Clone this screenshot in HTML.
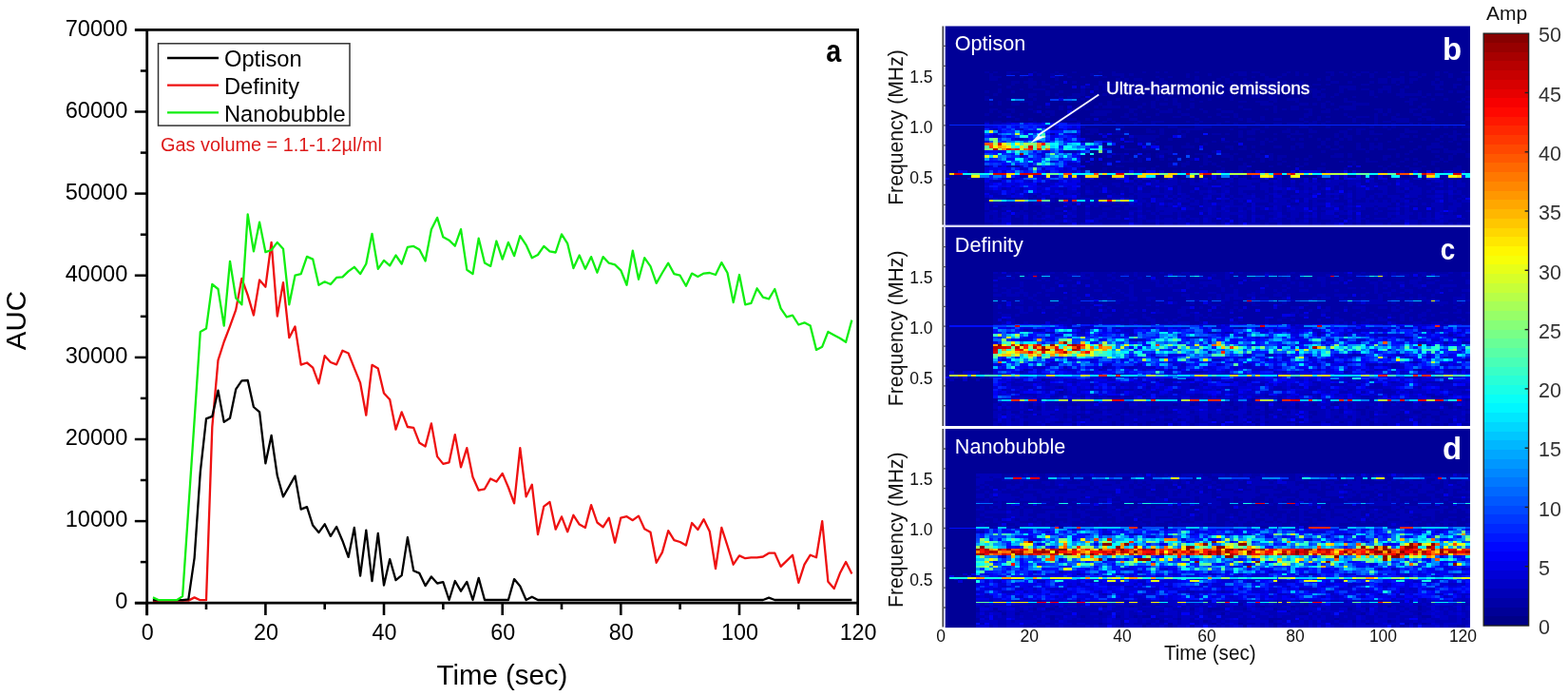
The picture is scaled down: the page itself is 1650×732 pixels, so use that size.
<!DOCTYPE html>
<html><head><meta charset="utf-8"><title>Figure</title>
<style>html,body{margin:0;padding:0;background:#fff;width:1650px;height:732px;overflow:hidden}svg{display:block}</style>
</head><body>
<svg width="1650" height="732" viewBox="0 0 1650 732">
<defs><filter id="soft" x="0" y="0" width="1" height="1"><feGaussianBlur stdDeviation="0.6"/></filter></defs>
<rect width="1650" height="732" fill="#fff"/>
<g font-family='"Liberation Sans", Arial, sans-serif' fill="#000">
<polyline points="160.9,632.5 167.2,631.6 173.4,631.6 179.6,631.6 185.9,631.6 192.1,631.6 198.3,631.6 204.6,628.4 210.8,631.2 217.0,631.2 223.3,449.1 229.5,378.8 235.7,359.5 242.0,343.1 248.2,325.9 254.4,293.0 260.7,310.4 266.9,331.5 273.1,294.4 279.4,301.7 285.6,254.9 291.8,332.5 298.0,297.1 304.3,355.2 310.5,343.4 316.7,383.6 323.0,381.5 329.2,386.6 335.4,403.3 341.7,374.2 347.9,381.0 354.1,383.4 360.4,368.8 366.6,371.5 372.8,387.2 379.1,402.6 385.3,436.7 391.5,383.8 397.8,387.4 404.0,413.4 410.2,420.3 416.5,451.7 422.7,433.4 428.9,449.0 435.2,449.8 441.4,465.8 447.6,469.5 453.9,445.4 460.1,480.1 466.3,487.9 472.6,486.3 478.8,457.1 485.0,491.3 491.3,471.2 497.5,501.8 503.7,515.7 510.0,514.3 516.2,503.4 522.4,506.6 528.7,497.9 534.9,512.5 541.1,529.3 547.3,471.2 553.6,522.3 559.8,509.7 566.0,562.1 572.3,532.6 578.5,528.0 584.7,556.7 591.0,543.4 597.2,559.3 603.4,541.8 609.7,551.6 615.9,554.9 622.1,531.1 628.4,549.5 634.6,554.4 640.8,544.6 647.1,570.7 653.3,544.6 659.5,543.2 665.8,547.2 672.0,542.6 678.2,556.3 684.5,559.8 690.7,591.8 696.9,580.9 703.2,558.2 709.4,568.1 715.6,570.0 721.9,573.5 728.1,550.0 734.3,557.1 740.6,546.2 746.8,559.0 753.0,598.1 759.3,554.9 765.5,574.0 771.7,593.7 778.0,584.4 784.2,587.2 790.4,586.3 796.6,586.3 802.9,585.5 809.1,581.7 815.3,581.7 821.6,595.9 827.8,589.9 834.0,583.7 840.3,612.8 846.5,593.7 852.7,583.7 859.0,586.3 865.2,548.1 871.4,611.8 877.7,619.1 883.9,602.8 890.1,591.0 896.4,603.5" fill="none" stroke="#ee1111" stroke-width="2.3" stroke-linejoin="round"/>
<polyline points="160.9,631.2 167.2,631.2 173.4,631.2 179.6,631.2 185.9,631.2 192.1,631.2 198.3,630.3 204.6,586.8 210.8,496.4 217.0,440.4 223.3,437.9 229.5,410.7 235.7,443.9 242.0,439.8 248.2,409.4 254.4,400.4 260.7,400.0 266.9,428.0 273.1,433.4 279.4,487.3 285.6,458.0 291.8,500.3 298.0,522.4 304.3,511.5 310.5,500.6 316.7,535.6 323.0,533.1 329.2,552.6 335.4,560.1 341.7,551.3 347.9,563.9 354.1,554.0 360.4,568.7 366.6,585.9 372.8,555.0 379.1,605.7 385.3,557.6 391.5,611.1 397.8,561.0 404.0,615.5 410.2,588.1 416.5,610.1 422.7,605.1 428.9,565.1 435.2,600.2 441.4,602.9 447.6,616.1 453.9,606.5 460.1,613.5 466.3,612.2 472.6,631.0 478.8,611.0 485.0,621.7 491.3,611.9 497.5,631.0 503.7,607.9 510.0,631.0 516.2,631.0 522.4,631.0 528.7,631.0 534.9,631.0 541.1,609.1 547.3,616.5 553.6,631.0 559.8,627.7 566.0,631.0 572.3,631.0 578.5,631.0 584.7,631.0 591.0,631.0 597.2,631.0 603.4,631.0 609.7,631.0 615.9,631.0 622.1,631.0 628.4,631.0 634.6,631.0 640.8,631.0 647.1,631.0 653.3,631.0 659.5,631.0 665.8,631.0 672.0,631.0 678.2,631.0 684.5,631.0 690.7,631.0 696.9,631.0 703.2,631.0 709.4,631.0 715.6,631.0 721.9,631.0 728.1,631.0 734.3,631.0 740.6,631.0 746.8,631.0 753.0,631.0 759.3,631.0 765.5,631.0 771.7,631.0 778.0,631.0 784.2,631.0 790.4,631.0 796.6,631.0 802.9,631.0 809.1,628.7 815.3,631.0 821.6,631.0 827.8,631.0 834.0,631.0 840.3,631.0 846.5,631.0 852.7,631.0 859.0,631.0 865.2,631.0 871.4,631.0 877.7,631.0 883.9,631.0 890.1,631.0 896.4,631.0" fill="none" stroke="#000" stroke-width="2.3" stroke-linejoin="round"/>
<polyline points="160.9,628.4 167.2,631.2 173.4,631.2 179.6,631.2 185.9,631.2 192.1,627.1 198.3,535.2 204.6,442.2 210.8,348.9 217.0,345.6 223.3,299.0 229.5,304.0 235.7,342.6 242.0,274.8 248.2,313.4 254.4,320.3 260.7,225.4 266.9,264.4 273.1,233.6 279.4,265.2 285.6,263.0 291.8,254.9 298.0,261.7 304.3,320.3 310.5,289.7 316.7,288.1 323.0,269.9 329.2,272.6 335.4,299.8 341.7,296.3 347.9,299.0 354.1,291.9 360.4,291.4 366.6,285.4 372.8,280.8 379.1,288.1 385.3,277.5 391.5,245.8 397.8,282.9 404.0,273.9 410.2,279.4 416.5,268.5 422.7,277.5 428.9,259.8 435.2,258.9 441.4,262.4 447.6,274.5 453.9,241.3 460.1,228.9 466.3,249.3 472.6,252.7 478.8,258.7 485.0,241.1 491.3,283.7 497.5,288.1 503.7,250.7 510.0,276.4 516.2,279.9 522.4,253.5 528.7,272.6 534.9,254.9 541.1,269.1 547.3,248.1 553.6,257.6 559.8,271.2 566.0,268.0 572.3,258.9 578.5,264.4 584.7,265.5 591.0,246.4 597.2,256.2 603.4,282.1 609.7,268.5 615.9,282.7 622.1,270.1 628.4,286.7 634.6,270.1 640.8,276.7 647.1,278.3 653.3,284.3 659.5,299.8 665.8,263.6 672.0,293.8 678.2,271.2 684.5,280.2 690.7,297.9 696.9,287.0 703.2,276.7 709.4,288.1 715.6,289.7 721.9,300.7 728.1,287.6 734.3,290.9 740.6,287.6 746.8,287.0 753.0,289.0 759.3,276.1 765.5,287.0 771.7,318.1 778.0,289.0 784.2,320.3 790.4,318.9 796.6,303.3 802.9,312.6 809.1,314.3 815.3,304.0 821.6,324.4 827.8,333.3 834.0,331.7 840.3,341.5 846.5,339.3 852.7,342.6 859.0,367.9 865.2,364.7 871.4,348.9 877.7,352.4 883.9,355.7 890.1,359.8 896.4,336.6" fill="none" stroke="#11ee11" stroke-width="2.3" stroke-linejoin="round"/>
<path d="M142.0 31.4H902.6V634.2H142.0" fill="none" stroke="#000" stroke-width="2.7"/>
<path d="M154.7 30.1V647.2" stroke="#000" stroke-width="2.8"/>
<path d="M141.8 634.2H154.7" stroke="#000" stroke-width="2.5"/>
<text x="134.3" y="640.3" text-anchor="end" font-size="23.6">0</text>
<path d="M147.8 591.1H154.7" stroke="#000" stroke-width="2.5"/>
<path d="M141.8 548.1H154.7" stroke="#000" stroke-width="2.5"/>
<text x="134.3" y="554.2" text-anchor="end" font-size="23.6">10000</text>
<path d="M147.8 505.0H154.7" stroke="#000" stroke-width="2.5"/>
<path d="M141.8 462.0H154.7" stroke="#000" stroke-width="2.5"/>
<text x="134.3" y="468.1" text-anchor="end" font-size="23.6">20000</text>
<path d="M147.8 418.9H154.7" stroke="#000" stroke-width="2.5"/>
<path d="M141.8 375.9H154.7" stroke="#000" stroke-width="2.5"/>
<text x="134.3" y="382.0" text-anchor="end" font-size="23.6">30000</text>
<path d="M147.8 332.8H154.7" stroke="#000" stroke-width="2.5"/>
<path d="M141.8 289.7H154.7" stroke="#000" stroke-width="2.5"/>
<text x="134.3" y="295.8" text-anchor="end" font-size="23.6">40000</text>
<path d="M147.8 246.7H154.7" stroke="#000" stroke-width="2.5"/>
<path d="M141.8 203.6H154.7" stroke="#000" stroke-width="2.5"/>
<text x="134.3" y="209.7" text-anchor="end" font-size="23.6">50000</text>
<path d="M147.8 160.6H154.7" stroke="#000" stroke-width="2.5"/>
<path d="M141.8 117.5H154.7" stroke="#000" stroke-width="2.5"/>
<text x="134.3" y="123.6" text-anchor="end" font-size="23.6">60000</text>
<path d="M147.8 74.5H154.7" stroke="#000" stroke-width="2.5"/>
<path d="M141.8 31.4H154.7" stroke="#000" stroke-width="2.5"/>
<text x="134.3" y="37.5" text-anchor="end" font-size="23.6">70000</text>
<path d="M154.7 634.2V647" stroke="#000" stroke-width="2.6"/>
<text x="155.2" y="672.6" text-anchor="middle" font-size="23.3">0</text>
<path d="M217.0 634.2V641" stroke="#000" stroke-width="2.6"/>
<path d="M279.4 634.2V647" stroke="#000" stroke-width="2.6"/>
<text x="279.9" y="672.6" text-anchor="middle" font-size="23.3">20</text>
<path d="M341.7 634.2V641" stroke="#000" stroke-width="2.6"/>
<path d="M404.0 634.2V647" stroke="#000" stroke-width="2.6"/>
<text x="404.5" y="672.6" text-anchor="middle" font-size="23.3">40</text>
<path d="M466.3 634.2V641" stroke="#000" stroke-width="2.6"/>
<path d="M528.7 634.2V647" stroke="#000" stroke-width="2.6"/>
<text x="529.2" y="672.6" text-anchor="middle" font-size="23.3">60</text>
<path d="M591.0 634.2V641" stroke="#000" stroke-width="2.6"/>
<path d="M653.3 634.2V647" stroke="#000" stroke-width="2.6"/>
<text x="653.8" y="672.6" text-anchor="middle" font-size="23.3">80</text>
<path d="M715.6 634.2V641" stroke="#000" stroke-width="2.6"/>
<path d="M778.0 634.2V647" stroke="#000" stroke-width="2.6"/>
<text x="778.5" y="672.6" text-anchor="middle" font-size="23.3">100</text>
<path d="M840.3 634.2V641" stroke="#000" stroke-width="2.6"/>
<path d="M902.6 634.2V647" stroke="#000" stroke-width="2.6"/>
<text x="903.1" y="672.6" text-anchor="middle" font-size="23.3">120</text>
<text x="528.4" y="719.5" text-anchor="middle" font-size="29.4">Time (sec)</text>
<text transform="translate(26.6 337) rotate(-90)" text-anchor="middle" font-size="29.5">AUC</text>
<rect x="166.5" y="45.8" width="201.5" height="86.3" fill="none" stroke="#333" stroke-width="1.5"/>
<path d="M176 61.0H230" stroke="#000" stroke-width="2.3"/>
<text x="236" y="70.1" font-size="23.7">Optison</text>
<path d="M176 89.7H230" stroke="#ee1111" stroke-width="2.3"/>
<text x="236" y="98.8" font-size="23.7">Definity</text>
<path d="M176 118.4H230" stroke="#11ee11" stroke-width="2.3"/>
<text x="236" y="127.5" font-size="23.7">Nanobubble</text>
<text x="169" y="158.7" font-size="19.6" fill="#dd1a1a" textLength="233" lengthAdjust="spacingAndGlyphs">Gas volume = 1.1-1.2µl/ml</text>
<text transform="translate(869.2 64.7) scale(0.87 1)" font-size="33" font-weight="bold">a</text>
</g>
<g font-family='"Liberation Sans", Arial, sans-serif'>
<rect x="994.6" y="27.5" width="552.4" height="209.0" fill="#000097"/>
<rect x="994.6" y="238.8" width="552.4" height="209.0" fill="#000097"/>
<rect x="994.6" y="451.1" width="552.4" height="209.0" fill="#000097"/>
<g filter="url(#soft)" shape-rendering="crispEdges" stroke-width="1" fill="none">
<g transform="translate(994.60 27.50) scale(4.6033 2.6125)">
<rect width="120" height="80" fill="#000097"/>
<path stroke="#0000a7" d="M9 18.5h1M11 18.5h1M14 18.5h3M20 18.5h1M25 18.5h1M29 18.5h1M35 18.5h1M38 18.5h1M45 18.5h1M48 18.5h1M50 18.5h1M57 18.5h1M66 18.5h3M70 18.5h2M78 18.5h1M80 18.5h1M87 18.5h2M90 18.5h1M93 18.5h1M95 18.5h2M98 18.5h1M101 18.5h1M104 18.5h1M106 18.5h2M112 18.5h1M114 18.5h1M118 18.5h2M10 19.5h1M14 19.5h1M21 19.5h1M24 19.5h1M26 19.5h2M33 19.5h1M38 19.5h3M42 19.5h1M55 19.5h1M60 19.5h1M65 19.5h1M67 19.5h2M72 19.5h1M77 19.5h1M80 19.5h1M82 19.5h1M88 19.5h1M91 19.5h1M94 19.5h1M97 19.5h1M106 19.5h2M109 19.5h1M112 19.5h1M115 19.5h1M10 20.5h3M17 20.5h1M25 20.5h1M28 20.5h1M31 20.5h1M34 20.5h1M36 20.5h1M40 20.5h1M48 20.5h1M51 20.5h1M55 20.5h1M57 20.5h1M63 20.5h1M70 20.5h1M73 20.5h1M76 20.5h1M87 20.5h1M93 20.5h1M97 20.5h1M101 20.5h1M104 20.5h1M108 20.5h1M115 20.5h1M119 20.5h1M10 21.5h2M19 21.5h1M25 21.5h1M39 21.5h1M41 21.5h1M43 21.5h2M49 21.5h1M57 21.5h1M62 21.5h1M64 21.5h1M68 21.5h1M73 21.5h3M85 21.5h1M87 21.5h1M99 21.5h2M102 21.5h3M106 21.5h2M112 21.5h1M117 21.5h1M119 21.5h1M15 22.5h2M18 22.5h3M22 22.5h1M29 22.5h1M35 22.5h1M40 22.5h1M47 22.5h1M49 22.5h2M64 22.5h2M68 22.5h2M77 22.5h1M81 22.5h1M88 22.5h2M92 22.5h1M97 22.5h1M99 22.5h2M102 22.5h1M104 22.5h1M106 22.5h1M111 22.5h1M113 22.5h1M12 23.5h1M15 23.5h1M19 23.5h2M22 23.5h2M25 23.5h1M35 23.5h4M43 23.5h1M47 23.5h2M50 23.5h1M56 23.5h3M63 23.5h1M72 23.5h2M77 23.5h1M80 23.5h2M84 23.5h2M87 23.5h1M95 23.5h2M103 23.5h1M111 23.5h3M116 23.5h2M14 24.5h1M19 24.5h1M24 24.5h1M32 24.5h1M34 24.5h1M36 24.5h1M40 24.5h2M49 24.5h2M58 24.5h2M62 24.5h2M66 24.5h1M69 24.5h1M74 24.5h2M77 24.5h1M90 24.5h4M100 24.5h2M105 24.5h1M112 24.5h1M116 24.5h1M119 24.5h1M12 25.5h1M17 25.5h1M20 25.5h3M31 25.5h1M34 25.5h1M36 25.5h1M38 25.5h1M40 25.5h1M44 25.5h1M49 25.5h2M57 25.5h1M59 25.5h1M64 25.5h1M69 25.5h1M71 25.5h1M73 25.5h1M76 25.5h1M79 25.5h1M83 25.5h2M86 25.5h1M90 25.5h1M92 25.5h2M95 25.5h2M99 25.5h3M104 25.5h1M112 25.5h2M119 25.5h1M9 26.5h1M12 26.5h1M15 26.5h1M23 26.5h1M26 26.5h1M31 26.5h1M38 26.5h1M45 26.5h1M48 26.5h1M57 26.5h1M69 26.5h1M74 26.5h1M81 26.5h2M84 26.5h2M90 26.5h1M97 26.5h1M99 26.5h1M101 26.5h1M104 26.5h1M108 26.5h1M115 26.5h1M117 26.5h2M11 27.5h1M19 27.5h2M23 27.5h1M25 27.5h1M29 27.5h3M34 27.5h1M36 27.5h1M42 27.5h1M47 27.5h1M51 27.5h1M57 27.5h1M63 27.5h1M70 27.5h2M75 27.5h1M84 27.5h1M86 27.5h1M89 27.5h1M97 27.5h1M103 27.5h6M110 27.5h1M112 27.5h2M9 28.5h1M19 28.5h1M26 28.5h1M28 28.5h3M43 28.5h2M48 28.5h2M54 28.5h1M57 28.5h1M62 28.5h1M65 28.5h1M70 28.5h2M74 28.5h2M82 28.5h1M84 28.5h3M88 28.5h1M93 28.5h1M98 28.5h1M104 28.5h1M109 28.5h1M119 28.5h1M9 29.5h1M14 29.5h3M20 29.5h1M28 29.5h1M31 29.5h1M39 29.5h1M43 29.5h1M48 29.5h1M50 29.5h1M52 29.5h1M56 29.5h1M60 29.5h1M65 29.5h1M74 29.5h2M78 29.5h3M85 29.5h1M91 29.5h1M106 29.5h2M111 29.5h1M114 29.5h1M118 29.5h1M12 30.5h1M17 30.5h3M28 30.5h1M30 30.5h1M37 30.5h1M47 30.5h1M52 30.5h1M58 30.5h1M67 30.5h2M71 30.5h3M75 30.5h1M80 30.5h1M87 30.5h1M91 30.5h3M105 30.5h2M117 30.5h1M119 30.5h1M10 31.5h1M12 31.5h1M15 31.5h2M19 31.5h1M35 31.5h1M37 31.5h1M45 31.5h1M47 31.5h1M49 31.5h2M52 31.5h2M56 31.5h1M72 31.5h3M81 31.5h2M84 31.5h1M86 31.5h1M88 31.5h1M93 31.5h4M106 31.5h1M109 31.5h1M21 32.5h1M23 32.5h1M26 32.5h1M31 32.5h1M34 32.5h1M36 32.5h4M41 32.5h1M44 32.5h1M47 32.5h1M53 32.5h1M56 32.5h1M67 32.5h1M75 32.5h1M79 32.5h2M86 32.5h1M90 32.5h4M108 32.5h1M119 32.5h1M10 33.5h2M14 33.5h2M19 33.5h1M26 33.5h1M28 33.5h2M32 33.5h1M42 33.5h2M48 33.5h1M51 33.5h1M55 33.5h1M58 33.5h1M62 33.5h1M68 33.5h2M73 33.5h1M75 33.5h1M77 33.5h1M79 33.5h2M82 33.5h2M87 33.5h1M89 33.5h1M91 33.5h3M98 33.5h2M101 33.5h1M106 33.5h2M109 33.5h2M10 34.5h1M12 34.5h1M15 34.5h1M20 34.5h1M23 34.5h2M29 34.5h1M34 34.5h4M42 34.5h1M45 34.5h1M49 34.5h3M53 34.5h1M59 34.5h1M63 34.5h3M75 34.5h1M83 34.5h1M86 34.5h2M99 34.5h1M101 34.5h1M106 34.5h1M109 34.5h1M113 34.5h1M118 34.5h2M9 35.5h1M13 35.5h2M17 35.5h1M22 35.5h1M24 35.5h1M28 35.5h1M33 35.5h4M41 35.5h1M43 35.5h1M48 35.5h1M54 35.5h2M62 35.5h1M66 35.5h1M82 35.5h2M91 35.5h1M98 35.5h1M100 35.5h1M103 35.5h1M107 35.5h2M115 35.5h1M12 36.5h1M15 36.5h1M23 36.5h1M40 36.5h2M46 36.5h1M52 36.5h2M56 36.5h1M60 36.5h1M63 36.5h2M66 36.5h1M72 36.5h1M82 36.5h1M85 36.5h1M87 36.5h1M92 36.5h1M94 36.5h3M98 36.5h1M102 36.5h1M109 36.5h2M119 36.5h1M16 37.5h1M19 37.5h1M26 37.5h1M28 37.5h2M32 37.5h1M37 37.5h1M42 37.5h2M57 37.5h1M67 37.5h1M69 37.5h1M72 37.5h1M75 37.5h2M81 37.5h1M85 37.5h1M93 37.5h1M98 37.5h1M102 37.5h4M108 37.5h1M110 37.5h2M119 37.5h1M9 38.5h1M11 38.5h2M14 38.5h1M20 38.5h1M22 38.5h1M30 38.5h1M36 38.5h1M38 38.5h1M44 38.5h1M47 38.5h3M55 38.5h1M58 38.5h1M64 38.5h1M69 38.5h2M82 38.5h1M84 38.5h1M87 38.5h1M93 38.5h1M98 38.5h1M100 38.5h2M103 38.5h3M118 38.5h1M10 39.5h1M34 39.5h2M39 39.5h1M43 39.5h1M47 39.5h1M57 39.5h1M62 39.5h1M66 39.5h1M71 39.5h1M75 39.5h2M78 39.5h4M83 39.5h2M86 39.5h1M95 39.5h1M98 39.5h1M102 39.5h1M106 39.5h1M108 39.5h1M111 39.5h1M24 40.5h1M31 40.5h1M39 40.5h2M51 40.5h2M57 40.5h4M67 40.5h2M73 40.5h1M81 40.5h2M87 40.5h1M97 40.5h1M100 40.5h1M102 40.5h1M111 40.5h2M114 40.5h1M116 40.5h1M118 40.5h2M32 41.5h3M46 41.5h1M49 41.5h1M53 41.5h6M65 41.5h1M70 41.5h2M78 41.5h1M83 41.5h1M92 41.5h1M94 41.5h2M101 41.5h1M105 41.5h1M111 41.5h1M33 42.5h2M39 42.5h1M41 42.5h1M46 42.5h2M49 42.5h1M53 42.5h1M55 42.5h1M67 42.5h1M69 42.5h2M72 42.5h1M77 42.5h2M80 42.5h1M83 42.5h2M90 42.5h2M94 42.5h1M97 42.5h1M105 42.5h3M116 42.5h1M24 43.5h1M32 43.5h2M36 43.5h1M38 43.5h3M49 43.5h1M54 43.5h1M61 43.5h2M64 43.5h1M67 43.5h1M69 43.5h2M75 43.5h1M79 43.5h3M89 43.5h1M91 43.5h1M94 43.5h1M97 43.5h3M104 43.5h1M110 43.5h1M114 43.5h1M116 43.5h2M119 43.5h1M43 44.5h6M54 44.5h1M67 44.5h1M78 44.5h1M83 44.5h1M89 44.5h1M91 44.5h2M104 44.5h2M107 44.5h1M113 44.5h1M115 44.5h2M32 45.5h1M37 45.5h1M39 45.5h1M42 45.5h1M44 45.5h4M51 45.5h1M57 45.5h1M69 45.5h2M73 45.5h1M75 45.5h1M79 45.5h1M81 45.5h1M85 45.5h1M87 45.5h1M90 45.5h1M92 45.5h1M96 45.5h1M98 45.5h1M103 45.5h1M109 45.5h1M112 45.5h1M116 45.5h1M118 45.5h2M31 46.5h2M38 46.5h2M44 46.5h3M48 46.5h1M57 46.5h1M61 46.5h1M63 46.5h2M66 46.5h1M72 46.5h1M74 46.5h1M86 46.5h1M89 46.5h1M101 46.5h1M106 46.5h1M113 46.5h1M115 46.5h1M45 47.5h1M47 47.5h1M55 47.5h1M59 47.5h1M72 47.5h1M80 47.5h2M86 47.5h1M89 47.5h1M94 47.5h1M97 47.5h1M99 47.5h1M111 47.5h2M117 47.5h1M46 48.5h1M50 48.5h2M54 48.5h3M64 48.5h2M68 48.5h1M70 48.5h1M75 48.5h2M79 48.5h1M81 48.5h1M85 48.5h1M87 48.5h1M90 48.5h1M94 48.5h1M97 48.5h3M104 48.5h1M108 48.5h1M110 48.5h4M41 49.5h3M45 49.5h3M51 49.5h1M65 49.5h1M67 49.5h2M79 49.5h1M88 49.5h2M94 49.5h2M97 49.5h1M99 49.5h1M101 49.5h2M107 49.5h1M110 49.5h1M114 49.5h1M117 49.5h1M36 50.5h1M49 50.5h3M55 50.5h1M61 50.5h1M70 50.5h1M72 50.5h1M86 50.5h1M96 50.5h1M106 50.5h1M111 50.5h2M114 50.5h5M36 51.5h2M39 51.5h2M43 51.5h1M46 51.5h1M48 51.5h2M51 51.5h1M55 51.5h1M57 51.5h3M63 51.5h2M66 51.5h1M71 51.5h1M74 51.5h1M89 51.5h2M92 51.5h1M103 51.5h1M105 51.5h1M116 51.5h1M119 51.5h1M31 52.5h1M36 52.5h1M40 52.5h1M45 52.5h2M48 52.5h1M59 52.5h1M63 52.5h3M69 52.5h1M71 52.5h2M74 52.5h1M76 52.5h2M83 52.5h1M88 52.5h3M92 52.5h1M100 52.5h2M103 52.5h1M112 52.5h1M115 52.5h1M119 52.5h1M31 53.5h1M40 53.5h1M42 53.5h1M44 53.5h1M49 53.5h1M51 53.5h1M56 53.5h1M59 53.5h1M65 53.5h1M67 53.5h1M72 53.5h1M74 53.5h1M76 53.5h1M80 53.5h1M82 53.5h1M96 53.5h1M100 53.5h1M105 53.5h1M107 53.5h1M113 53.5h1M115 53.5h1M37 54.5h1M40 54.5h3M44 54.5h1M55 54.5h1M59 54.5h2M63 54.5h1M70 54.5h1M72 54.5h1M77 54.5h1M90 54.5h1M92 54.5h2M96 54.5h3M104 54.5h1M108 54.5h1M111 54.5h2M114 54.5h1M33 55.5h1M36 55.5h1M51 55.5h1M54 55.5h2M59 55.5h1M61 55.5h1M68 55.5h1M76 55.5h1M80 55.5h1M82 55.5h1M86 55.5h1M93 55.5h1M102 55.5h1M107 55.5h1M111 55.5h1M15 56.5h2M39 56.5h2M48 56.5h1M51 56.5h2M54 56.5h1M58 56.5h1M62 56.5h1M67 56.5h2M74 56.5h1M78 56.5h1M81 56.5h1M99 56.5h1M101 56.5h1M103 56.5h1M105 56.5h1M109 56.5h1M117 56.5h1M36 57.5h1M42 57.5h1M44 57.5h2M47 57.5h1M63 57.5h1M67 57.5h2M85 57.5h2M91 57.5h1M100 57.5h1M106 57.5h3M112 57.5h1M116 57.5h2M33 58.5h1M35 58.5h2M38 58.5h1M41 58.5h1M52 58.5h1M55 58.5h1M57 58.5h1M60 58.5h1M64 58.5h1M66 58.5h1M88 58.5h3M94 58.5h1M99 58.5h1M103 58.5h1M108 58.5h1M112 58.5h1M116 58.5h2M36 59.5h1M40 59.5h1M57 59.5h1M62 59.5h3M66 59.5h2M71 59.5h1M73 59.5h1M77 59.5h1M84 59.5h1M86 59.5h1M88 59.5h1M93 59.5h1M96 59.5h1M100 59.5h3M106 59.5h2M113 59.5h1M117 59.5h1M31 60.5h1M34 60.5h1M40 60.5h1M42 60.5h2M48 60.5h1M51 60.5h2M54 60.5h1M58 60.5h1M62 60.5h1M65 60.5h1M68 60.5h1M72 60.5h1M90 60.5h1M97 60.5h1M100 60.5h1M103 60.5h1M106 60.5h1M109 60.5h1M111 60.5h4M14 61.5h1M31 61.5h2M35 61.5h2M44 61.5h1M47 61.5h1M56 61.5h1M70 61.5h2M75 61.5h1M78 61.5h1M81 61.5h1M88 61.5h1M95 61.5h2M102 61.5h5M114 61.5h1M118 61.5h1M31 62.5h1M33 62.5h8M43 62.5h1M45 62.5h2M49 62.5h1M53 62.5h1M55 62.5h1M57 62.5h1M61 62.5h1M66 62.5h1M72 62.5h2M77 62.5h2M80 62.5h2M83 62.5h1M85 62.5h2M91 62.5h1M95 62.5h1M98 62.5h2M101 62.5h2M106 62.5h5M114 62.5h1M116 62.5h1M118 62.5h2M32 63.5h3M36 63.5h2M40 63.5h3M44 63.5h1M53 63.5h3M60 63.5h3M65 63.5h2M70 63.5h2M74 63.5h1M77 63.5h2M80 63.5h1M86 63.5h1M90 63.5h2M95 63.5h2M99 63.5h2M102 63.5h1M107 63.5h3M111 63.5h2M114 63.5h1M116 63.5h1M119 63.5h1M31 64.5h1M33 64.5h1M35 64.5h1M37 64.5h2M40 64.5h1M43 64.5h1M46 64.5h1M52 64.5h1M54 64.5h5M64 64.5h1M66 64.5h3M71 64.5h1M77 64.5h2M80 64.5h2M85 64.5h2M89 64.5h1M91 64.5h1M93 64.5h1M101 64.5h2M108 64.5h4M114 64.5h1M116 64.5h1M119 64.5h1M31 65.5h1M33 65.5h3M37 65.5h5M43 65.5h1M45 65.5h3M49 65.5h1M52 65.5h1M54 65.5h3M58 65.5h2M61 65.5h2M65 65.5h2M71 65.5h1M74 65.5h1M81 65.5h1M83 65.5h1M85 65.5h1M89 65.5h1M91 65.5h3M98 65.5h1M101 65.5h2M104 65.5h1M106 65.5h1M109 65.5h2M112 65.5h3M117 65.5h3M31 66.5h1M34 66.5h1M38 66.5h2M41 66.5h1M43 66.5h1M45 66.5h2M49 66.5h1M52 66.5h1M54 66.5h2M57 66.5h1M62 66.5h1M65 66.5h2M68 66.5h5M74 66.5h1M76 66.5h1M78 66.5h2M86 66.5h1M88 66.5h1M91 66.5h1M93 66.5h1M96 66.5h4M101 66.5h2M105 66.5h1M109 66.5h1M111 66.5h1M116 66.5h1M118 66.5h2M31 67.5h1M34 67.5h4M39 67.5h1M41 67.5h2M52 67.5h1M55 67.5h3M59 67.5h1M65 67.5h2M69 67.5h1M71 67.5h3M78 67.5h3M83 67.5h1M86 67.5h1M93 67.5h1M96 67.5h2M101 67.5h4M109 67.5h3M114 67.5h1M118 67.5h2M20 68.5h1M31 68.5h6M41 68.5h1M43 68.5h1M47 68.5h3M51 68.5h1M53 68.5h1M56 68.5h3M61 68.5h2M64 68.5h1M66 68.5h2M71 68.5h2M74 68.5h1M77 68.5h2M85 68.5h2M88 68.5h1M90 68.5h1M93 68.5h1M96 68.5h1M98 68.5h1M100 68.5h1M104 68.5h1M108 68.5h2M114 68.5h1M116 68.5h2M119 68.5h1M9 69.5h2M14 69.5h4M19 69.5h1M21 69.5h1M23 69.5h1M25 69.5h1M27 69.5h1M30 69.5h1M33 69.5h1M35 69.5h3M43 69.5h1M45 69.5h2M52 69.5h1M55 69.5h1M57 69.5h2M61 69.5h1M65 69.5h1M72 69.5h1M74 69.5h1M79 69.5h1M81 69.5h1M90 69.5h1M93 69.5h1M95 69.5h1M98 69.5h4M105 69.5h3M109 69.5h2M114 69.5h1M116 69.5h1M118 69.5h1M9 70.5h3M17 70.5h1M19 70.5h1M21 70.5h1M25 70.5h2M30 70.5h1M35 70.5h1M37 70.5h1M41 70.5h1M46 70.5h1M50 70.5h2M56 70.5h1M58 70.5h1M60 70.5h3M64 70.5h1M66 70.5h1M68 70.5h1M74 70.5h1M78 70.5h1M81 70.5h1M83 70.5h1M85 70.5h2M89 70.5h3M93 70.5h3M97 70.5h1M99 70.5h1M101 70.5h1M103 70.5h1M106 70.5h1M108 70.5h4M114 70.5h1M117 70.5h1M10 71.5h1M19 71.5h1M24 71.5h3M29 71.5h1M31 71.5h1M38 71.5h2M41 71.5h1M45 71.5h1M47 71.5h1M54 71.5h2M58 71.5h1M66 71.5h2M69 71.5h1M71 71.5h3M79 71.5h2M83 71.5h1M91 71.5h1M93 71.5h1M102 71.5h1M104 71.5h1M108 71.5h1M110 71.5h1M114 71.5h2M118 71.5h2M10 72.5h1M12 72.5h2M15 72.5h1M17 72.5h1M19 72.5h3M24 72.5h3M30 72.5h2M33 72.5h1M35 72.5h3M40 72.5h1M45 72.5h1M47 72.5h1M50 72.5h1M56 72.5h2M62 72.5h1M69 72.5h1M73 72.5h2M77 72.5h1M83 72.5h1M85 72.5h2M90 72.5h1M98 72.5h1M101 72.5h2M106 72.5h5M114 72.5h1M118 72.5h2M10 73.5h3M17 73.5h1M19 73.5h3M24 73.5h1M27 73.5h2M30 73.5h2M33 73.5h3M38 73.5h3M42 73.5h2M45 73.5h3M53 73.5h1M57 73.5h2M62 73.5h1M65 73.5h2M68 73.5h1M71 73.5h1M77 73.5h1M83 73.5h1M85 73.5h1M90 73.5h1M93 73.5h1M96 73.5h2M99 73.5h2M104 73.5h1M106 73.5h1M108 73.5h2M111 73.5h1M114 73.5h1M117 73.5h3M9 74.5h1M12 74.5h2M15 74.5h2M18 74.5h2M21 74.5h1M24 74.5h3M30 74.5h2M33 74.5h6M40 74.5h2M45 74.5h1M47 74.5h1M49 74.5h1M55 74.5h3M65 74.5h2M69 74.5h1M71 74.5h4M77 74.5h1M85 74.5h2M91 74.5h1M95 74.5h4M100 74.5h3M104 74.5h1M106 74.5h6M117 74.5h2M12 75.5h1M19 75.5h2M22 75.5h1M24 75.5h1M27 75.5h1M30 75.5h2M33 75.5h3M37 75.5h5M43 75.5h1M45 75.5h2M48 75.5h1M52 75.5h1M54 75.5h4M59 75.5h1M62 75.5h1M69 75.5h1M71 75.5h3M77 75.5h2M81 75.5h1M83 75.5h1M85 75.5h1M89 75.5h1M93 75.5h1M95 75.5h3M99 75.5h2M104 75.5h1M107 75.5h1M109 75.5h1M111 75.5h1M114 75.5h1M116 75.5h4M10 76.5h1M12 76.5h1M15 76.5h1M17 76.5h1M19 76.5h1M21 76.5h1M25 76.5h2M30 76.5h2M33 76.5h2M37 76.5h2M40 76.5h2M43 76.5h1M46 76.5h2M49 76.5h4M54 76.5h1M56 76.5h3M62 76.5h1M65 76.5h2M69 76.5h1M73 76.5h2M78 76.5h1M81 76.5h1M85 76.5h1M90 76.5h2M93 76.5h1M95 76.5h1M97 76.5h4M102 76.5h1M106 76.5h2M109 76.5h1M111 76.5h1M118 76.5h2M10 77.5h1M15 77.5h3M19 77.5h1M25 77.5h2M29 77.5h3M33 77.5h1M36 77.5h1M40 77.5h1M43 77.5h1M46 77.5h2M49 77.5h1M52 77.5h1M55 77.5h1M58 77.5h1M61 77.5h1M65 77.5h2M69 77.5h1M71 77.5h1M73 77.5h1M77 77.5h1M80 77.5h2M83 77.5h1M85 77.5h1M89 77.5h1M91 77.5h1M93 77.5h1M96 77.5h2M101 77.5h1M106 77.5h2M117 77.5h1M119 77.5h1M12 78.5h1M15 78.5h3M19 78.5h4M24 78.5h1M30 78.5h2M35 78.5h7M43 78.5h1M45 78.5h1M55 78.5h2M58 78.5h1M61 78.5h2M64 78.5h1M66 78.5h1M68 78.5h2M71 78.5h3M77 78.5h2M80 78.5h1M83 78.5h1M85 78.5h3M90 78.5h1M95 78.5h1M97 78.5h5M104 78.5h1M108 78.5h2M111 78.5h1M115 78.5h5M9 79.5h2M15 79.5h3M19 79.5h1M21 79.5h1M26 79.5h2M30 79.5h1M33 79.5h1M36 79.5h4M45 79.5h3M49 79.5h1M52 79.5h1M58 79.5h1M62 79.5h1M66 79.5h1M72 79.5h1M74 79.5h2M77 79.5h2M83 79.5h1M86 79.5h1M91 79.5h1M93 79.5h1M95 79.5h1M100 79.5h1M102 79.5h3M108 79.5h1M114 79.5h1M116 79.5h1M118 79.5h2"/>
<path stroke="#0000b7" d="M11 39.5h2M23 40.5h1M11 41.5h1M24 41.5h1M17 45.5h1M27 50.5h3M9 56.5h1M14 56.5h1M20 56.5h1M30 57.5h1M31 58.5h1M43 58.5h1M54 58.5h1M65 58.5h1M67 58.5h1M69 58.5h1M101 58.5h2M104 58.5h1M5 59.5h1M29 59.5h2M47 59.5h1M68 59.5h1M99 59.5h1M114 59.5h1M118 59.5h1M17 60.5h2M30 60.5h1M38 60.5h1M73 60.5h2M85 60.5h1M88 60.5h1M116 60.5h1M15 61.5h1M22 61.5h1M52 61.5h1M67 61.5h2M72 61.5h1M11 62.5h2M24 62.5h2M32 62.5h1M44 62.5h1M47 62.5h1M50 62.5h3M54 62.5h1M56 62.5h1M58 62.5h1M60 62.5h1M62 62.5h4M67 62.5h5M74 62.5h1M76 62.5h1M88 62.5h3M92 62.5h3M97 62.5h1M100 62.5h1M104 62.5h1M111 62.5h1M115 62.5h1M117 62.5h1M21 63.5h1M31 63.5h1M35 63.5h1M38 63.5h2M43 63.5h1M45 63.5h1M47 63.5h6M56 63.5h4M63 63.5h1M67 63.5h3M72 63.5h2M75 63.5h2M79 63.5h1M81 63.5h5M87 63.5h3M92 63.5h2M97 63.5h2M101 63.5h1M104 63.5h3M110 63.5h1M113 63.5h1M115 63.5h1M117 63.5h2M32 64.5h1M34 64.5h1M36 64.5h1M39 64.5h1M41 64.5h2M45 64.5h1M47 64.5h1M49 64.5h1M51 64.5h1M53 64.5h1M59 64.5h2M63 64.5h1M65 64.5h1M69 64.5h1M72 64.5h3M76 64.5h1M79 64.5h1M82 64.5h2M87 64.5h2M90 64.5h1M92 64.5h1M96 64.5h2M99 64.5h2M103 64.5h5M112 64.5h1M117 64.5h2M13 65.5h1M17 65.5h1M26 65.5h2M30 65.5h1M32 65.5h1M42 65.5h1M48 65.5h1M50 65.5h1M53 65.5h1M60 65.5h1M63 65.5h2M67 65.5h4M72 65.5h2M77 65.5h1M80 65.5h1M82 65.5h1M86 65.5h1M88 65.5h1M90 65.5h1M94 65.5h2M97 65.5h1M99 65.5h2M103 65.5h1M107 65.5h2M111 65.5h1M115 65.5h2M9 66.5h2M27 66.5h1M30 66.5h1M33 66.5h1M35 66.5h1M37 66.5h1M40 66.5h1M42 66.5h1M44 66.5h1M47 66.5h2M50 66.5h2M53 66.5h1M56 66.5h1M58 66.5h2M61 66.5h1M63 66.5h1M67 66.5h1M73 66.5h1M75 66.5h1M77 66.5h1M81 66.5h1M83 66.5h3M87 66.5h1M89 66.5h1M92 66.5h1M94 66.5h2M100 66.5h1M103 66.5h2M106 66.5h3M110 66.5h1M114 66.5h1M117 66.5h1M10 67.5h2M15 67.5h1M19 67.5h1M21 67.5h1M24 67.5h2M27 67.5h1M29 67.5h1M32 67.5h2M38 67.5h1M43 67.5h9M54 67.5h1M58 67.5h1M60 67.5h3M64 67.5h1M67 67.5h2M70 67.5h1M74 67.5h1M76 67.5h2M81 67.5h2M90 67.5h2M94 67.5h2M98 67.5h3M105 67.5h4M112 67.5h2M116 67.5h2M11 68.5h3M19 68.5h1M23 68.5h1M30 68.5h1M38 68.5h3M42 68.5h1M44 68.5h3M52 68.5h1M54 68.5h2M59 68.5h1M65 68.5h1M68 68.5h2M73 68.5h1M79 68.5h5M87 68.5h1M89 68.5h1M91 68.5h1M94 68.5h2M97 68.5h1M99 68.5h1M101 68.5h3M106 68.5h2M110 68.5h2M115 68.5h1M118 68.5h1M12 69.5h2M20 69.5h1M24 69.5h1M26 69.5h1M28 69.5h1M31 69.5h1M34 69.5h1M38 69.5h2M41 69.5h2M44 69.5h1M48 69.5h3M54 69.5h1M56 69.5h1M66 69.5h6M73 69.5h1M75 69.5h4M80 69.5h1M83 69.5h6M91 69.5h2M94 69.5h1M96 69.5h2M102 69.5h3M108 69.5h1M111 69.5h3M115 69.5h1M117 69.5h1M12 70.5h5M20 70.5h1M22 70.5h1M24 70.5h1M28 70.5h1M31 70.5h1M33 70.5h2M38 70.5h3M44 70.5h2M48 70.5h2M52 70.5h4M57 70.5h1M59 70.5h1M63 70.5h1M65 70.5h1M67 70.5h1M70 70.5h4M76 70.5h2M79 70.5h1M84 70.5h1M87 70.5h2M96 70.5h1M98 70.5h1M100 70.5h1M102 70.5h1M104 70.5h1M107 70.5h1M115 70.5h2M118 70.5h2M9 71.5h1M11 71.5h8M20 71.5h2M23 71.5h1M27 71.5h1M32 71.5h6M40 71.5h1M43 71.5h1M46 71.5h1M48 71.5h1M50 71.5h1M52 71.5h1M56 71.5h2M59 71.5h2M62 71.5h4M68 71.5h1M74 71.5h5M81 71.5h2M84 71.5h3M88 71.5h3M92 71.5h1M94 71.5h8M105 71.5h3M109 71.5h1M111 71.5h3M116 71.5h2M9 72.5h1M14 72.5h1M16 72.5h1M18 72.5h1M22 72.5h1M28 72.5h1M34 72.5h1M38 72.5h2M41 72.5h4M46 72.5h1M48 72.5h2M51 72.5h1M54 72.5h2M59 72.5h3M63 72.5h1M65 72.5h4M71 72.5h2M76 72.5h1M79 72.5h4M84 72.5h1M89 72.5h1M91 72.5h1M93 72.5h1M95 72.5h3M99 72.5h2M103 72.5h2M111 72.5h3M115 72.5h3M9 73.5h1M13 73.5h4M18 73.5h1M22 73.5h2M25 73.5h2M32 73.5h1M36 73.5h2M41 73.5h1M44 73.5h1M48 73.5h5M55 73.5h2M59 73.5h1M61 73.5h1M64 73.5h1M67 73.5h1M69 73.5h1M72 73.5h1M74 73.5h1M76 73.5h1M78 73.5h1M80 73.5h2M86 73.5h3M91 73.5h2M94 73.5h2M98 73.5h1M101 73.5h2M105 73.5h1M112 73.5h2M115 73.5h2M10 74.5h1M17 74.5h1M20 74.5h1M22 74.5h2M28 74.5h2M32 74.5h1M39 74.5h1M42 74.5h2M46 74.5h1M48 74.5h1M50 74.5h5M58 74.5h2M61 74.5h3M68 74.5h1M75 74.5h2M78 74.5h4M84 74.5h1M90 74.5h1M93 74.5h2M99 74.5h1M103 74.5h1M105 74.5h1M112 74.5h1M116 74.5h1M119 74.5h1M9 75.5h3M14 75.5h1M16 75.5h3M21 75.5h1M23 75.5h1M25 75.5h2M29 75.5h1M36 75.5h1M44 75.5h1M47 75.5h1M49 75.5h3M53 75.5h1M61 75.5h1M63 75.5h6M70 75.5h1M74 75.5h2M79 75.5h2M82 75.5h1M86 75.5h1M90 75.5h2M98 75.5h1M101 75.5h2M105 75.5h2M108 75.5h1M110 75.5h1M113 75.5h1M115 75.5h1M9 76.5h1M11 76.5h1M13 76.5h1M16 76.5h1M20 76.5h1M22 76.5h1M24 76.5h1M28 76.5h1M32 76.5h1M35 76.5h2M39 76.5h1M42 76.5h1M45 76.5h1M48 76.5h1M53 76.5h1M55 76.5h1M59 76.5h3M63 76.5h2M68 76.5h1M71 76.5h2M75 76.5h1M77 76.5h1M79 76.5h2M83 76.5h1M86 76.5h3M92 76.5h1M96 76.5h1M101 76.5h1M103 76.5h3M108 76.5h1M110 76.5h1M114 76.5h3M9 77.5h1M11 77.5h2M20 77.5h2M23 77.5h2M27 77.5h2M32 77.5h1M34 77.5h2M37 77.5h3M44 77.5h2M48 77.5h1M50 77.5h2M54 77.5h1M56 77.5h2M60 77.5h1M63 77.5h1M67 77.5h2M72 77.5h1M74 77.5h1M76 77.5h1M78 77.5h2M82 77.5h1M84 77.5h1M86 77.5h3M90 77.5h1M95 77.5h1M98 77.5h3M102 77.5h4M108 77.5h4M113 77.5h4M118 77.5h1M9 78.5h3M18 78.5h1M23 78.5h1M25 78.5h2M29 78.5h1M34 78.5h1M42 78.5h1M44 78.5h1M46 78.5h2M49 78.5h6M57 78.5h1M60 78.5h1M63 78.5h1M67 78.5h1M74 78.5h3M79 78.5h1M81 78.5h1M84 78.5h1M88 78.5h2M92 78.5h2M96 78.5h1M102 78.5h2M106 78.5h2M110 78.5h1M112 78.5h1M114 78.5h1M11 79.5h2M18 79.5h1M20 79.5h1M22 79.5h4M28 79.5h1M31 79.5h1M34 79.5h2M40 79.5h2M43 79.5h2M50 79.5h2M53 79.5h2M56 79.5h2M59 79.5h3M63 79.5h1M65 79.5h1M67 79.5h1M69 79.5h3M73 79.5h1M79 79.5h4M84 79.5h2M87 79.5h2M92 79.5h1M94 79.5h1M96 79.5h4M101 79.5h1M106 79.5h2M109 79.5h5M115 79.5h1M117 79.5h1"/>
<path stroke="#0000c7" d="M24 20.5h1M31 24.5h1M28 32.5h1M21 34.5h1M14 36.5h1M34 37.5h1M13 39.5h1M25 39.5h1M28 39.5h2M10 41.5h1M17 41.5h1M25 41.5h1M28 41.5h2M29 43.5h1M11 44.5h1M30 44.5h1M42 44.5h1M16 45.5h1M63 45.5h1M42 46.5h1M38 51.5h1M41 51.5h1M37 52.5h1M49 52.5h1M60 52.5h1M28 55.5h2M12 56.5h1M29 56.5h1M69 56.5h1M17 57.5h1M22 57.5h1M27 57.5h1M23 58.5h1M29 58.5h1M39 58.5h2M44 58.5h1M49 58.5h1M56 58.5h1M63 58.5h1M72 58.5h1M85 58.5h1M87 58.5h1M93 58.5h1M114 58.5h1M11 59.5h1M17 59.5h1M26 59.5h1M32 59.5h1M41 59.5h1M58 59.5h1M60 59.5h2M70 59.5h1M76 59.5h1M83 59.5h1M19 60.5h1M22 60.5h3M29 60.5h1M33 60.5h1M39 60.5h1M44 60.5h1M50 60.5h1M66 60.5h1M71 60.5h1M76 60.5h1M86 60.5h1M5 61.5h1M13 61.5h1M27 61.5h1M43 61.5h1M65 61.5h1M76 61.5h1M82 61.5h1M94 61.5h1M97 61.5h1M107 61.5h2M10 62.5h1M19 62.5h1M42 62.5h1M48 62.5h1M59 62.5h1M75 62.5h1M79 62.5h1M82 62.5h1M84 62.5h1M87 62.5h1M103 62.5h1M105 62.5h1M112 62.5h2M9 63.5h1M22 63.5h3M30 63.5h1M64 63.5h1M94 63.5h1M15 64.5h1M22 64.5h2M44 64.5h1M50 64.5h1M70 64.5h1M75 64.5h1M84 64.5h1M94 64.5h1M113 64.5h1M115 64.5h1M9 65.5h1M14 65.5h1M21 65.5h1M24 65.5h2M75 65.5h2M79 65.5h1M84 65.5h1M105 65.5h1M11 66.5h2M16 66.5h2M22 66.5h1M24 66.5h1M28 66.5h2M32 66.5h1M60 66.5h1M64 66.5h1M82 66.5h1M112 66.5h2M115 66.5h1M12 67.5h1M18 67.5h1M20 67.5h1M28 67.5h1M30 67.5h1M53 67.5h1M63 67.5h1M75 67.5h1M84 67.5h1M87 67.5h3M92 67.5h1M115 67.5h1M9 68.5h1M14 68.5h1M18 68.5h1M21 68.5h2M25 68.5h2M50 68.5h1M60 68.5h1M63 68.5h1M70 68.5h1M75 68.5h2M92 68.5h1M105 68.5h1M112 68.5h2M11 69.5h1M18 69.5h1M29 69.5h1M32 69.5h1M51 69.5h1M53 69.5h1M59 69.5h2M63 69.5h2M82 69.5h1M89 69.5h1M23 70.5h1M29 70.5h1M32 70.5h1M42 70.5h1M75 70.5h1M82 70.5h1M92 70.5h1M105 70.5h1M112 70.5h1M22 71.5h1M28 71.5h1M42 71.5h1M44 71.5h1M51 71.5h1M70 71.5h1M103 71.5h1M11 72.5h1M23 72.5h1M29 72.5h1M32 72.5h1M53 72.5h1M64 72.5h1M70 72.5h1M75 72.5h1M88 72.5h1M92 72.5h1M105 72.5h1M29 73.5h1M60 73.5h1M63 73.5h1M70 73.5h1M75 73.5h1M79 73.5h1M84 73.5h1M103 73.5h1M11 74.5h1M44 74.5h1M60 74.5h1M64 74.5h1M67 74.5h1M70 74.5h1M82 74.5h1M87 74.5h3M92 74.5h1M113 74.5h1M115 74.5h1M13 75.5h1M28 75.5h1M32 75.5h1M42 75.5h1M60 75.5h1M76 75.5h1M84 75.5h1M87 75.5h2M92 75.5h1M103 75.5h1M112 75.5h1M14 76.5h1M18 76.5h1M23 76.5h1M29 76.5h1M44 76.5h1M67 76.5h1M70 76.5h1M76 76.5h1M82 76.5h1M84 76.5h1M89 76.5h1M94 76.5h1M112 76.5h2M13 77.5h2M18 77.5h1M22 77.5h1M42 77.5h1M53 77.5h1M59 77.5h1M64 77.5h1M70 77.5h1M75 77.5h1M92 77.5h1M94 77.5h1M112 77.5h1M13 78.5h2M28 78.5h1M48 78.5h1M59 78.5h1M70 78.5h1M82 78.5h1M94 78.5h1M105 78.5h1M113 78.5h1M13 79.5h1M32 79.5h1M48 79.5h1M76 79.5h1M89 79.5h1"/>
<path stroke="#0000d7" d="M19 19.5h1M27 22.5h1M32 23.5h1M29 24.5h1M33 26.5h1M32 28.5h1M26 29.5h1M23 31.5h1M28 34.5h1M9 39.5h1M14 39.5h1M21 39.5h1M30 39.5h1M9 40.5h2M25 40.5h1M29 40.5h1M16 41.5h1M26 41.5h1M30 41.5h1M12 42.5h1M19 42.5h1M11 43.5h1M28 43.5h1M35 43.5h1M12 44.5h1M36 44.5h1M18 45.5h1M27 45.5h1M9 46.5h1M41 46.5h1M37 49.5h1M12 50.5h1M23 50.5h1M30 50.5h1M22 51.5h1M17 52.5h1M22 52.5h1M24 54.5h1M28 54.5h1M32 54.5h1M30 55.5h1M10 56.5h1M17 56.5h1M21 56.5h1M30 56.5h1M92 56.5h1M94 56.5h1M9 57.5h1M18 57.5h1M28 57.5h1M80 57.5h1M4 58.5h1M13 58.5h1M26 58.5h2M62 58.5h1M79 58.5h1M81 58.5h4M115 58.5h1M118 58.5h1M6 59.5h1M20 59.5h1M25 59.5h1M27 59.5h2M35 59.5h1M39 59.5h1M49 59.5h1M59 59.5h1M79 59.5h1M95 59.5h1M97 59.5h1M103 59.5h1M105 59.5h1M9 60.5h1M11 60.5h2M21 60.5h1M25 60.5h1M32 60.5h1M41 60.5h1M63 60.5h1M70 60.5h1M75 60.5h1M89 60.5h1M91 60.5h1M94 60.5h1M99 60.5h1M110 60.5h1M0 61.5h1M9 61.5h1M16 61.5h1M30 61.5h1M33 61.5h1M39 61.5h2M45 61.5h2M51 61.5h1M59 61.5h1M61 61.5h1M89 61.5h1M91 61.5h1M93 61.5h1M99 61.5h2M111 61.5h2M18 62.5h1M23 62.5h1M28 62.5h1M10 63.5h1M13 63.5h1M16 63.5h1M26 63.5h1M9 64.5h1M21 64.5h1M28 64.5h1M10 65.5h1M12 65.5h1M16 65.5h1M18 65.5h1M22 65.5h1M28 65.5h1M14 66.5h1M21 66.5h1M23 66.5h1M26 66.5h1M14 67.5h1M16 67.5h1M16 68.5h1M24 68.5h1M27 68.5h2"/>
<path stroke="#0000e7" d="M16 39.5h1M18 39.5h1M20 39.5h1M24 39.5h1M11 40.5h1M13 40.5h1M16 40.5h1M22 40.5h1M18 42.5h1M20 42.5h1M25 43.5h1M27 43.5h1M30 43.5h1M10 44.5h1M24 44.5h1M52 44.5h1M24 45.5h1M30 45.5h2M37 46.5h1M44 47.5h1M67 47.5h1M36 49.5h1M22 50.5h1M62 50.5h1M21 51.5h1M30 52.5h1M57 53.5h1M9 54.5h1M12 54.5h1M19 55.5h1M13 56.5h1M19 56.5h1M23 56.5h2M27 56.5h2M10 57.5h2M14 57.5h1M26 57.5h1M3 58.5h1M9 58.5h1M11 58.5h1M28 58.5h1M46 58.5h2M58 58.5h2M71 58.5h1M91 58.5h1M107 58.5h1M110 58.5h1M2 59.5h2M9 59.5h2M14 59.5h1M23 59.5h2M31 59.5h1M37 59.5h1M50 59.5h1M56 59.5h1M78 59.5h1M85 59.5h1M89 59.5h1M92 59.5h1M110 59.5h1M16 60.5h1M20 60.5h1M28 60.5h1M56 60.5h1M61 60.5h1M79 60.5h1M102 60.5h1M118 60.5h1M17 61.5h1M21 61.5h1M23 61.5h1M28 61.5h2M41 61.5h1M73 61.5h1M84 61.5h1M92 61.5h1M110 61.5h1M9 62.5h1M13 62.5h1M15 62.5h1M26 62.5h1M29 62.5h2M96 62.5h1M14 63.5h2M18 63.5h2M25 63.5h1M27 63.5h3M103 63.5h1M12 64.5h2M16 64.5h1M20 64.5h1M24 64.5h2M27 64.5h1M48 64.5h1M61 64.5h2M98 64.5h1M15 65.5h1M19 65.5h2M29 65.5h1M36 65.5h1M44 65.5h1M57 65.5h1M78 65.5h1M96 65.5h1M15 66.5h1M25 66.5h1M80 66.5h1M9 67.5h1M22 67.5h2M26 67.5h1M40 67.5h1M10 68.5h1M15 68.5h1M17 68.5h1M37 68.5h1M40 69.5h1M47 69.5h1M62 69.5h1M119 69.5h1M18 70.5h1M43 70.5h1M47 70.5h1M80 70.5h1M113 70.5h1M49 71.5h1M53 71.5h1M61 71.5h1M87 71.5h1M27 72.5h1M58 72.5h1M78 72.5h1M87 72.5h1M73 73.5h1M82 73.5h1M89 73.5h1M107 73.5h1M14 74.5h1M83 74.5h1M58 75.5h1M94 75.5h1M27 76.5h1M117 76.5h1M41 77.5h1M62 77.5h1M27 78.5h1M32 78.5h2M65 78.5h1M91 78.5h1M29 79.5h1M42 79.5h1M55 79.5h1M64 79.5h1M90 79.5h1M105 79.5h1"/>
<path stroke="#0000f7" d="M15 39.5h1M22 39.5h1M21 40.5h1M28 40.5h1M30 40.5h1M12 41.5h1M18 43.5h1M37 43.5h1M14 44.5h1M25 44.5h1M29 44.5h1M15 45.5h1M40 45.5h1M21 46.5h1M28 46.5h1M30 46.5h1M36 46.5h1M34 48.5h1M40 48.5h1M45 48.5h1M47 48.5h2M58 48.5h1M9 50.5h1M13 50.5h1M26 50.5h1M29 51.5h1M18 52.5h1M14 53.5h1M19 53.5h1M35 53.5h1M10 54.5h2M20 54.5h1M25 54.5h1M27 54.5h1M29 54.5h1M13 55.5h1M31 56.5h1M12 57.5h2M25 57.5h1M22 58.5h1M30 58.5h1M15 59.5h2M18 59.5h1M21 59.5h2M21 62.5h1M41 62.5h1M11 63.5h1M17 63.5h1M20 63.5h1M46 63.5h1M14 64.5h1M19 64.5h1M29 64.5h1M95 64.5h1M11 65.5h1M51 65.5h1M87 65.5h1M20 66.5h1M36 66.5h1M90 66.5h1M85 67.5h1M29 68.5h1M84 68.5h1M22 69.5h1M27 70.5h1M36 70.5h1M69 70.5h1M30 71.5h1M52 72.5h1M94 72.5h1M54 73.5h1M110 73.5h1M27 74.5h1M114 74.5h1M15 75.5h1M14 79.5h1M68 79.5h1"/>
<path stroke="#0008ff" d="M19 39.5h1M12 40.5h1M15 40.5h1M19 40.5h1M27 40.5h1M14 41.5h1M23 41.5h1M27 41.5h1M13 42.5h1M21 42.5h1M24 42.5h2M10 43.5h1M23 43.5h1M59 43.5h1M9 44.5h1M28 44.5h1M31 47.5h1M33 48.5h1M32 49.5h1M10 50.5h2M20 50.5h1M15 51.5h1M44 51.5h1M29 52.5h1M73 52.5h1M15 53.5h1M26 53.5h1M30 53.5h1M21 54.5h1M39 54.5h1M14 55.5h1M27 55.5h1M25 56.5h1M16 57.5h1M23 57.5h1M15 58.5h1M18 58.5h1M21 58.5h1M42 58.5h1M12 59.5h1M27 60.5h1M10 61.5h1M12 61.5h1M16 62.5h1M12 63.5h1M17 64.5h1M30 64.5h1M23 65.5h1M13 66.5h1M18 66.5h1"/>
<path stroke="#0018ff" d="M26 39.5h2M26 40.5h1M18 41.5h1M20 41.5h1M26 42.5h1M30 42.5h1M15 44.5h1M19 44.5h1M26 44.5h1M53 44.5h1M19 45.5h1M28 45.5h1M23 46.5h1M27 46.5h1M38 47.5h1M26 48.5h1M11 51.5h1M21 52.5h1M10 53.5h1M21 53.5h1M33 53.5h1M46 53.5h1M13 54.5h1M16 55.5h1M37 55.5h1M24 57.5h1M29 57.5h1M12 58.5h1M14 58.5h1M25 58.5h1M33 59.5h1M10 60.5h1M14 60.5h1M17 62.5h1M27 62.5h1M10 64.5h2M13 67.5h1M17 67.5h1"/>
<path stroke="#0028ff" d="M18 40.5h1M20 40.5h1M9 41.5h1M13 41.5h1M14 42.5h2M17 42.5h1M23 42.5h1M13 44.5h1M27 44.5h1M12 45.5h1M23 45.5h1M13 46.5h1M29 46.5h1M34 46.5h2M58 49.5h1M31 50.5h1M13 51.5h2M20 51.5h1M52 51.5h1M15 52.5h1M11 53.5h1M20 53.5h1M10 55.5h1M12 55.5h1M52 55.5h1M11 56.5h1M22 56.5h1M19 58.5h1M24 58.5h1M19 59.5h1M13 60.5h1M15 60.5h1M26 61.5h1M20 62.5h1M26 64.5h1"/>
<path stroke="#0038ff" d="M14 40.5h1M17 40.5h1M19 41.5h1M9 43.5h1M20 43.5h1M23 44.5h1M26 45.5h1M27 47.5h1M35 47.5h1M32 48.5h1M48 49.5h1M24 50.5h1M10 51.5h1M19 51.5h1M30 51.5h1M62 51.5h1M16 52.5h1M20 52.5h1M43 52.5h1M18 53.5h1M27 53.5h2M53 53.5h1M30 54.5h1M11 55.5h1M17 55.5h2M20 55.5h1M18 56.5h1M21 57.5h1M17 58.5h1M11 61.5h1M14 62.5h1M22 62.5h1"/>
<path stroke="#0048ff" d="M15 41.5h1M22 41.5h1M39 41.5h1M12 43.5h1M15 43.5h1M41 43.5h1M16 44.5h1M20 45.5h1M12 46.5h1M18 46.5h1M24 46.5h1M46 47.5h1M26 49.5h1M21 50.5h1M32 50.5h1M9 51.5h1M14 52.5h1M55 52.5h1M15 54.5h2M18 54.5h1M9 55.5h1M25 55.5h1M15 57.5h1M19 57.5h1M10 58.5h1M18 61.5h2M24 61.5h1M18 64.5h1"/>
<path stroke="#0058ff" d="M17 39.5h1M17 43.5h1M14 45.5h1M10 46.5h1M22 46.5h1M24 49.5h1M37 50.5h1M25 51.5h1M27 51.5h1M28 52.5h1M12 53.5h1M26 54.5h1M26 60.5h1M25 61.5h1"/>
<path stroke="#0068ff" d="M9 45.5h1M14 46.5h1M34 47.5h1M30 48.5h1M19 50.5h1M12 52.5h1M23 52.5h1M26 52.5h1M26 55.5h1M26 56.5h1M32 58.5h1"/>
<path stroke="#0078ff" d="M28 42.5h1M13 43.5h1M26 43.5h1M20 44.5h1M13 45.5h1M25 45.5h1M29 45.5h1M15 46.5h1M31 48.5h1M15 50.5h1M25 50.5h1M22 53.5h1M24 53.5h2M13 59.5h1M20 61.5h1"/>
<path stroke="#0087ff" d="M11 42.5h1M22 42.5h1M27 42.5h1M20 46.5h1M26 46.5h1M26 47.5h1M13 52.5h1M23 54.5h1M24 55.5h1M16 58.5h1"/>
<path stroke="#0097ff" d="M29 42.5h1M14 43.5h1M22 45.5h1M17 50.5h1M23 51.5h1M28 51.5h1M19 52.5h1M13 53.5h1"/>
<path stroke="#00a7ff" d="M21 45.5h1M17 46.5h1M37 47.5h1M29 48.5h1M25 49.5h1M26 51.5h1M24 52.5h1M9 53.5h1M15 55.5h1M20 58.5h1"/>
<path stroke="#00b7ff" d="M16 42.5h1M19 46.5h1M28 47.5h1M30 49.5h1M18 50.5h1M19 66.5h1"/>
<path stroke="#00c7ff" d="M19 43.5h1M21 43.5h1M21 44.5h1M16 46.5h1M25 46.5h1M34 49.5h1M18 51.5h1M29 53.5h1M22 55.5h1"/>
<path stroke="#00d7ff" d="M23 39.5h1M9 42.5h1M29 47.5h1M33 47.5h1M24 48.5h1M33 49.5h1M16 51.5h1M10 52.5h1M25 52.5h1M17 54.5h1M22 54.5h1"/>
<path stroke="#00e7ff" d="M28 49.5h1M31 49.5h1"/>
<path stroke="#00f7ff" d="M15 47.5h1M24 47.5h1M30 47.5h1M25 48.5h1M29 49.5h1M14 50.5h1M27 52.5h1M16 53.5h2M19 54.5h1"/>
<path stroke="#08fff7" d="M17 44.5h1M25 47.5h1M16 48.5h1M27 48.5h2M12 51.5h1M31 51.5h1M33 51.5h1M14 54.5h1"/>
<path stroke="#18ffe7" d="M22 48.5h1M23 53.5h1"/>
<path stroke="#28ffd7" d="M18 44.5h1M32 47.5h1M35 48.5h1M27 49.5h1M35 49.5h1M16 50.5h1M23 55.5h1"/>
<path stroke="#38ffc7" d="M21 41.5h1M22 43.5h1M21 55.5h1"/>
<path stroke="#48ffb7" d="M17 47.5h1M15 48.5h1M20 49.5h1"/>
<path stroke="#58ffa7" d="M10 45.5h1M23 47.5h1M9 48.5h1"/>
<path stroke="#68ff97" d="M22 44.5h1M20 48.5h1"/>
<path stroke="#78ff87" d="M11 46.5h1M18 48.5h1M22 49.5h1M24 51.5h1M20 57.5h1"/>
<path stroke="#87ff78" d="M11 45.5h1M20 47.5h1M9 49.5h2M35 50.5h1"/>
<path stroke="#97ff68" d="M14 47.5h1M19 47.5h1M23 48.5h1"/>
<path stroke="#a7ff58" d="M12 49.5h1"/>
<path stroke="#b7ff48" d="M11 47.5h1M18 47.5h1"/>
<path stroke="#c7ff38" d="M16 43.5h1M17 49.5h1"/>
<path stroke="#d7ff28" d="M10 42.5h1M9 52.5h1M11 52.5h1"/>
<path stroke="#f7ff08" d="M16 47.5h1"/>
<path stroke="#fff700" d="M13 47.5h1M11 48.5h1M14 48.5h1"/>
<path stroke="#ffe700" d="M17 48.5h1"/>
<path stroke="#ffc700" d="M13 48.5h1"/>
<path stroke="#ff9700" d="M12 48.5h1"/>
<path stroke="#ff8700" d="M21 47.5h1M21 48.5h1M13 49.5h1"/>
<path stroke="#ff6800" d="M18 49.5h1"/>
<path stroke="#ff5800" d="M9 47.5h2M23 49.5h1"/>
<path stroke="#ff4800" d="M10 48.5h1"/>
<path stroke="#ff3800" d="M15 49.5h1"/>
<path stroke="#ff2800" d="M19 49.5h1"/>
<path stroke="#ff0800" d="M16 49.5h1"/>
<path stroke="#e70000" d="M22 47.5h1"/>
<path stroke="#d70000" d="M12 47.5h1M19 48.5h1M14 49.5h1M21 49.5h1"/>
<path stroke="#a70000" d="M11 49.5h1"/>
<path stroke="#870000" d="M17 51.5h1"/>
</g>
<path fill="#ffd700" stroke="none" d="M999.2 181.7h4.6v2.4h-4.6zM1059.0 181.7h9.2v2.4h-9.2zM1160.3 181.7h4.6v2.4h-4.6zM1201.8 181.7h4.6v2.4h-4.6zM1206.4 181.7h9.2v2.4h-9.2zM1215.6 181.7h4.6v2.4h-4.6zM1229.4 181.7h9.2v2.4h-9.2zM1330.6 181.7h4.6v2.4h-4.6zM1367.5 181.7h4.6v2.4h-4.6zM1390.5 181.7h9.2v2.4h-9.2zM1450.3 181.7h9.2v2.4h-9.2zM1482.6 181.7h4.6v2.4h-4.6zM1082.1 184.4h4.6v2.2h-4.6zM1118.9 184.4h4.6v2.2h-4.6zM1128.1 184.4h4.6v2.2h-4.6zM1141.9 184.4h9.2v2.2h-9.2zM1151.1 184.4h4.6v2.2h-4.6zM1169.5 184.4h9.2v2.2h-9.2zM1178.7 184.4h4.6v2.2h-4.6zM1197.1 184.4h9.2v2.2h-9.2zM1224.8 184.4h9.2v2.2h-9.2zM1335.2 184.4h4.6v2.2h-4.6zM1501.0 184.4h9.2v2.2h-9.2zM1533.2 184.4h4.6v2.2h-4.6z"/>
<path fill="#d70000" stroke="none" d="M1003.8 181.7h9.2v2.4h-9.2zM1045.2 181.7h4.6v2.4h-4.6zM1049.8 181.7h9.2v2.4h-9.2zM1072.9 181.7h9.2v2.4h-9.2zM1082.1 181.7h9.2v2.4h-9.2zM1091.3 181.7h4.6v2.4h-4.6zM1174.1 181.7h9.2v2.4h-9.2zM1247.8 181.7h4.6v2.4h-4.6zM1266.2 181.7h9.2v2.4h-9.2zM1339.8 181.7h9.2v2.4h-9.2zM1358.3 181.7h4.6v2.4h-4.6zM1468.7 181.7h4.6v2.4h-4.6zM1496.4 181.7h4.6v2.4h-4.6zM1528.6 181.7h9.2v2.4h-9.2zM1091.3 209.5h4.6v2.2h-4.6zM1164.9 209.5h4.6v2.2h-4.6z"/>
<path fill="#00f7ff" stroke="none" d="M1013.0 181.7h9.2v2.4h-9.2zM1031.4 181.7h9.2v2.4h-9.2zM1068.3 181.7h4.6v2.4h-4.6zM1095.9 181.7h4.6v2.4h-4.6zM1114.3 181.7h4.6v2.4h-4.6zM1128.1 181.7h9.2v2.4h-9.2zM1137.3 181.7h4.6v2.4h-4.6zM1141.9 181.7h9.2v2.4h-9.2zM1164.9 181.7h9.2v2.4h-9.2zM1192.5 181.7h9.2v2.4h-9.2zM1238.6 181.7h9.2v2.4h-9.2zM1284.6 181.7h9.2v2.4h-9.2zM1335.2 181.7h4.6v2.4h-4.6zM1349.1 181.7h4.6v2.4h-4.6zM1372.1 181.7h4.6v2.4h-4.6zM1381.3 181.7h9.2v2.4h-9.2zM1418.1 181.7h9.2v2.4h-9.2zM1441.1 181.7h4.6v2.4h-4.6zM1445.7 181.7h4.6v2.4h-4.6zM1487.2 181.7h4.6v2.4h-4.6zM1510.2 181.7h9.2v2.4h-9.2zM1519.4 181.7h9.2v2.4h-9.2zM1537.8 181.7h4.6v2.4h-4.6zM1542.4 181.7h4.6v2.4h-4.6zM1206.4 184.4h9.2v2.2h-9.2zM1436.5 184.4h4.6v2.2h-4.6zM1464.1 184.4h9.2v2.2h-9.2zM1491.8 184.4h4.6v2.2h-4.6zM1510.2 184.4h4.6v2.2h-4.6zM1542.4 184.4h4.6v2.2h-4.6zM1054.4 209.5h4.6v2.2h-4.6zM1132.7 209.5h9.2v2.2h-9.2zM1146.5 209.5h4.6v2.2h-4.6zM1187.9 209.5h4.6v2.2h-4.6z"/>
<path fill="#68ff97" stroke="none" d="M1022.2 181.7h9.2v2.4h-9.2zM1040.6 181.7h4.6v2.4h-4.6zM1105.1 181.7h9.2v2.4h-9.2zM1155.7 181.7h4.6v2.4h-4.6zM1183.3 181.7h9.2v2.4h-9.2zM1220.2 181.7h9.2v2.4h-9.2zM1252.4 181.7h9.2v2.4h-9.2zM1326.0 181.7h4.6v2.4h-4.6zM1427.3 181.7h4.6v2.4h-4.6zM1431.9 181.7h9.2v2.4h-9.2zM1459.5 181.7h9.2v2.4h-9.2zM1491.8 181.7h4.6v2.4h-4.6zM1045.2 209.5h9.2v2.2h-9.2zM1077.5 209.5h4.6v2.2h-4.6zM1095.9 209.5h9.2v2.2h-9.2zM1114.3 209.5h4.6v2.2h-4.6zM1174.1 209.5h4.6v2.2h-4.6z"/>
<path fill="#b7ff48" stroke="none" d="M1100.5 181.7h4.6v2.4h-4.6zM1275.4 181.7h9.2v2.4h-9.2zM1293.8 181.7h9.2v2.4h-9.2zM1303.0 181.7h9.2v2.4h-9.2zM1362.9 181.7h4.6v2.4h-4.6zM1376.7 181.7h4.6v2.4h-4.6zM1399.7 181.7h9.2v2.4h-9.2zM1408.9 181.7h9.2v2.4h-9.2z"/>
<path fill="#ff4800" stroke="none" d="M1118.9 181.7h9.2v2.4h-9.2zM1151.1 181.7h4.6v2.4h-4.6zM1261.6 181.7h4.6v2.4h-4.6zM1312.2 181.7h9.2v2.4h-9.2zM1321.4 181.7h4.6v2.4h-4.6zM1353.7 181.7h4.6v2.4h-4.6zM1473.3 181.7h9.2v2.4h-9.2zM1501.0 181.7h9.2v2.4h-9.2z"/>
<path fill="#f7ff08" stroke="none" d="M1022.2 184.4h9.2v2.2h-9.2zM1059.0 184.4h4.6v2.2h-4.6zM1100.5 184.4h4.6v2.2h-4.6zM1252.4 184.4h4.6v2.2h-4.6zM1261.6 184.4h4.6v2.2h-4.6zM1326.0 184.4h9.2v2.2h-9.2zM1358.3 184.4h9.2v2.2h-9.2zM1524.0 184.4h9.2v2.2h-9.2z"/>
<path fill="#0078ff" stroke="none" d="M1031.4 184.4h9.2v2.2h-9.2zM1045.2 184.4h9.2v2.2h-9.2zM1247.8 184.4h4.6v2.2h-4.6zM1284.6 184.4h9.2v2.2h-9.2zM1390.5 184.4h4.6v2.2h-4.6zM1395.1 184.4h4.6v2.2h-4.6z"/>
<path fill="#0028ff" stroke="none" d="M999.2 130.9h543.2v1.3h-543.2zM1059.0 78.5h9.2v1.6h-9.2zM1072.9 78.5h9.2v1.6h-9.2zM1109.7 78.5h4.6v1.6h-4.6zM1114.3 78.5h4.6v1.6h-4.6zM1155.7 78.5h4.6v1.6h-4.6z"/>
<path fill="#0038ff" stroke="none" d="M1040.6 104.3h4.6v1.8h-4.6zM1105.1 104.3h9.2v1.8h-9.2zM1151.1 78.5h4.6v1.6h-4.6z"/>
<path fill="#00c7ff" stroke="none" d="M1063.7 104.3h4.6v1.8h-4.6z"/>
<path fill="#0087ff" stroke="none" d="M1068.3 104.3h9.2v1.8h-9.2zM1128.1 104.3h4.6v1.8h-4.6z"/>
<path fill="#0068ff" stroke="none" d="M1118.9 104.3h9.2v1.8h-9.2z"/>
<path fill="#fff700" stroke="none" d="M1040.6 209.5h4.6v2.2h-4.6zM1068.3 209.5h9.2v2.2h-9.2zM1155.7 209.5h9.2v2.2h-9.2zM1169.5 209.5h4.6v2.2h-4.6zM1178.7 209.5h9.2v2.2h-9.2z"/>
<path fill="#0097ff" stroke="none" d="M1059.0 209.5h9.2v2.2h-9.2zM1082.1 209.5h9.2v2.2h-9.2z"/>
<path fill="#ff2800" stroke="none" d="M1118.9 209.5h4.6v2.2h-4.6zM1128.1 209.5h4.6v2.2h-4.6z"/>
</g>
<g filter="url(#soft)" shape-rendering="crispEdges" stroke-width="1" fill="none">
<g transform="translate(994.60 238.80) scale(4.6033 2.6125)">
<rect width="120" height="80" fill="#000097"/>
<path stroke="#0000a7" d="M12 18.5h1M14 18.5h2M17 18.5h3M22 18.5h2M25 18.5h2M28 18.5h3M34 18.5h4M39 18.5h4M44 18.5h5M50 18.5h4M56 18.5h8M66 18.5h1M68 18.5h5M74 18.5h5M80 18.5h9M90 18.5h1M93 18.5h2M96 18.5h4M101 18.5h1M103 18.5h5M110 18.5h5M116 18.5h2M11 19.5h3M15 19.5h4M20 19.5h3M24 19.5h4M30 19.5h1M32 19.5h1M34 19.5h3M38 19.5h3M42 19.5h1M44 19.5h7M52 19.5h1M54 19.5h1M56 19.5h1M58 19.5h3M62 19.5h2M65 19.5h8M75 19.5h3M79 19.5h2M82 19.5h5M88 19.5h4M93 19.5h1M95 19.5h5M101 19.5h1M103 19.5h1M106 19.5h1M108 19.5h1M110 19.5h1M112 19.5h1M115 19.5h3M119 19.5h1M11 20.5h1M14 20.5h1M16 20.5h2M20 20.5h2M23 20.5h2M26 20.5h5M33 20.5h5M39 20.5h5M45 20.5h2M48 20.5h6M55 20.5h3M61 20.5h3M65 20.5h2M69 20.5h2M72 20.5h6M79 20.5h1M81 20.5h4M87 20.5h3M91 20.5h17M109 20.5h1M111 20.5h9M12 21.5h9M22 21.5h1M24 21.5h2M27 21.5h1M29 21.5h1M31 21.5h3M35 21.5h2M38 21.5h1M41 21.5h1M43 21.5h4M49 21.5h1M51 21.5h1M53 21.5h1M55 21.5h6M63 21.5h5M69 21.5h1M72 21.5h4M77 21.5h1M79 21.5h6M87 21.5h3M91 21.5h1M93 21.5h3M97 21.5h2M100 21.5h6M109 21.5h3M113 21.5h2M116 21.5h3M11 22.5h6M18 22.5h7M26 22.5h4M31 22.5h3M35 22.5h6M42 22.5h6M49 22.5h1M51 22.5h1M54 22.5h1M56 22.5h2M63 22.5h4M68 22.5h11M80 22.5h1M82 22.5h4M87 22.5h1M90 22.5h1M92 22.5h5M99 22.5h1M102 22.5h1M105 22.5h1M108 22.5h2M112 22.5h7M12 23.5h5M18 23.5h4M23 23.5h3M28 23.5h1M30 23.5h2M33 23.5h2M36 23.5h6M43 23.5h5M50 23.5h1M52 23.5h3M57 23.5h2M60 23.5h2M63 23.5h2M66 23.5h7M74 23.5h3M78 23.5h3M82 23.5h1M84 23.5h2M87 23.5h11M99 23.5h2M102 23.5h2M105 23.5h2M110 23.5h3M117 23.5h3M11 24.5h2M14 24.5h1M17 24.5h5M23 24.5h1M25 24.5h13M39 24.5h3M43 24.5h12M56 24.5h2M59 24.5h4M64 24.5h8M73 24.5h5M79 24.5h13M94 24.5h1M96 24.5h2M99 24.5h1M101 24.5h3M105 24.5h3M109 24.5h4M114 24.5h6M12 25.5h2M15 25.5h2M18 25.5h5M25 25.5h4M30 25.5h4M36 25.5h3M40 25.5h2M43 25.5h2M47 25.5h5M55 25.5h8M64 25.5h2M67 25.5h5M73 25.5h2M76 25.5h1M78 25.5h3M83 25.5h6M90 25.5h8M99 25.5h3M103 25.5h2M107 25.5h3M111 25.5h1M113 25.5h2M116 25.5h2M11 26.5h2M15 26.5h1M19 26.5h2M22 26.5h5M28 26.5h10M39 26.5h1M41 26.5h1M43 26.5h14M58 26.5h2M62 26.5h4M67 26.5h3M71 26.5h1M73 26.5h3M77 26.5h19M97 26.5h1M99 26.5h1M102 26.5h2M105 26.5h1M107 26.5h5M114 26.5h6M13 27.5h1M17 27.5h1M19 27.5h1M21 27.5h2M24 27.5h5M30 27.5h2M33 27.5h3M37 27.5h4M43 27.5h11M56 27.5h6M63 27.5h1M67 27.5h2M71 27.5h4M77 27.5h1M79 27.5h6M87 27.5h2M92 27.5h1M94 27.5h1M96 27.5h3M100 27.5h1M102 27.5h6M109 27.5h2M112 27.5h6M119 27.5h1M11 28.5h8M20 28.5h7M28 28.5h2M31 28.5h2M34 28.5h3M38 28.5h4M44 28.5h2M48 28.5h3M52 28.5h3M56 28.5h4M61 28.5h1M63 28.5h1M65 28.5h1M68 28.5h2M71 28.5h1M74 28.5h3M79 28.5h5M85 28.5h1M88 28.5h2M91 28.5h8M100 28.5h3M105 28.5h1M107 28.5h1M110 28.5h6M119 28.5h1M11 29.5h6M18 29.5h2M21 29.5h8M30 29.5h3M35 29.5h1M37 29.5h2M41 29.5h1M44 29.5h2M47 29.5h1M50 29.5h6M58 29.5h5M65 29.5h9M75 29.5h4M80 29.5h3M84 29.5h7M92 29.5h3M96 29.5h1M100 29.5h2M103 29.5h2M106 29.5h3M111 29.5h1M113 29.5h3M117 29.5h1M11 30.5h3M15 30.5h2M18 30.5h3M22 30.5h4M27 30.5h2M31 30.5h2M34 30.5h5M40 30.5h10M53 30.5h3M57 30.5h2M61 30.5h2M64 30.5h2M67 30.5h3M71 30.5h6M78 30.5h14M93 30.5h1M101 30.5h1M103 30.5h3M107 30.5h3M111 30.5h1M115 30.5h1M117 30.5h1M119 30.5h1M11 31.5h1M13 31.5h1M15 31.5h10M26 31.5h8M37 31.5h5M43 31.5h3M47 31.5h1M49 31.5h11M63 31.5h7M72 31.5h3M77 31.5h5M83 31.5h2M86 31.5h17M104 31.5h2M107 31.5h1M109 31.5h4M114 31.5h3M118 31.5h2M11 32.5h1M13 32.5h1M15 32.5h1M18 32.5h1M20 32.5h1M22 32.5h1M25 32.5h2M28 32.5h3M32 32.5h1M34 32.5h1M36 32.5h1M38 32.5h16M57 32.5h1M59 32.5h2M62 32.5h1M64 32.5h2M67 32.5h1M69 32.5h6M76 32.5h3M82 32.5h3M86 32.5h1M88 32.5h3M92 32.5h1M96 32.5h3M101 32.5h1M103 32.5h1M105 32.5h11M117 32.5h3M11 33.5h6M18 33.5h1M20 33.5h2M23 33.5h6M30 33.5h2M33 33.5h2M37 33.5h1M39 33.5h2M42 33.5h1M44 33.5h1M46 33.5h2M49 33.5h4M55 33.5h5M61 33.5h4M66 33.5h1M68 33.5h3M72 33.5h8M81 33.5h2M84 33.5h2M88 33.5h3M92 33.5h3M96 33.5h6M104 33.5h2M107 33.5h3M111 33.5h6M118 33.5h2M11 34.5h1M13 34.5h4M19 34.5h3M23 34.5h2M26 34.5h1M28 34.5h2M31 34.5h1M33 34.5h9M43 34.5h4M50 34.5h3M55 34.5h1M58 34.5h4M63 34.5h2M66 34.5h13M81 34.5h1M83 34.5h3M87 34.5h2M90 34.5h4M95 34.5h2M98 34.5h7M106 34.5h3M110 34.5h3M115 34.5h1M118 34.5h1M11 35.5h2M15 35.5h1M17 35.5h12M31 35.5h1M33 35.5h3M38 35.5h3M42 35.5h3M46 35.5h8M56 35.5h1M59 35.5h1M61 35.5h16M80 35.5h1M83 35.5h3M87 35.5h6M94 35.5h4M99 35.5h2M102 35.5h2M105 35.5h3M110 35.5h1M112 35.5h8M11 36.5h2M15 36.5h11M28 36.5h6M35 36.5h1M37 36.5h8M47 36.5h6M54 36.5h3M58 36.5h1M60 36.5h1M64 36.5h2M68 36.5h5M75 36.5h2M78 36.5h4M83 36.5h4M88 36.5h1M90 36.5h5M96 36.5h3M100 36.5h1M103 36.5h1M105 36.5h1M107 36.5h1M109 36.5h8M118 36.5h2M11 37.5h1M13 37.5h1M16 37.5h9M26 37.5h2M29 37.5h6M36 37.5h4M41 37.5h1M44 37.5h2M48 37.5h2M51 37.5h1M53 37.5h4M58 37.5h7M66 37.5h1M68 37.5h5M74 37.5h2M77 37.5h2M80 37.5h5M86 37.5h3M91 37.5h5M98 37.5h1M101 37.5h3M105 37.5h1M107 37.5h2M110 37.5h4M115 37.5h3M119 37.5h1M11 38.5h2M16 38.5h2M19 38.5h4M24 38.5h2M29 38.5h5M36 38.5h6M43 38.5h4M48 38.5h3M52 38.5h1M56 38.5h2M60 38.5h5M67 38.5h6M74 38.5h15M90 38.5h1M92 38.5h1M94 38.5h1M97 38.5h4M103 38.5h4M109 38.5h2M114 38.5h2M117 38.5h3M41 39.5h1M46 39.5h1M67 40.5h1M108 57.5h1M117 57.5h1M13 59.5h1M107 60.5h1M112 60.5h1M22 61.5h1M26 64.5h1M26 66.5h1M111 68.5h1M11 69.5h1M23 69.5h1M25 69.5h3M31 69.5h1M34 69.5h2M40 69.5h3M46 69.5h1M48 69.5h1M70 69.5h1M77 69.5h1M80 69.5h1M84 69.5h2M96 69.5h1M117 69.5h1M119 69.5h1M11 70.5h1M16 70.5h1M25 70.5h1M30 70.5h1M33 70.5h2M39 70.5h1M44 70.5h1M47 70.5h1M57 70.5h1M60 70.5h1M64 70.5h2M73 70.5h1M76 70.5h1M89 70.5h2M100 70.5h1M102 70.5h1M104 70.5h1M106 70.5h1M113 70.5h1M12 71.5h1M19 71.5h1M26 71.5h2M29 71.5h1M41 71.5h1M52 71.5h1M56 71.5h1M62 71.5h1M65 71.5h1M69 71.5h1M73 71.5h1M80 71.5h1M84 71.5h1M88 71.5h2M109 71.5h1M114 71.5h2M19 72.5h1M21 72.5h1M27 72.5h1M31 72.5h1M41 72.5h1M47 72.5h2M50 72.5h1M66 72.5h1M73 72.5h1M77 72.5h1M80 72.5h1M96 72.5h1M115 72.5h1M117 72.5h1M11 73.5h1M13 73.5h1M21 73.5h1M31 73.5h1M33 73.5h2M37 73.5h1M40 73.5h3M47 73.5h1M50 73.5h1M64 73.5h1M66 73.5h1M71 73.5h1M73 73.5h1M88 73.5h1M90 73.5h1M94 73.5h2M109 73.5h1M111 73.5h2M119 73.5h1M15 74.5h2M18 74.5h2M34 74.5h2M40 74.5h1M42 74.5h1M44 74.5h1M46 74.5h2M49 74.5h3M56 74.5h1M69 74.5h1M73 74.5h2M78 74.5h1M83 74.5h2M90 74.5h1M95 74.5h1M97 74.5h1M100 74.5h1M104 74.5h1M107 74.5h2M113 74.5h1M13 75.5h1M21 75.5h1M24 75.5h1M27 75.5h1M30 75.5h2M33 75.5h1M39 75.5h1M44 75.5h1M50 75.5h1M60 75.5h1M63 75.5h1M65 75.5h1M69 75.5h1M71 75.5h1M73 75.5h1M76 75.5h1M84 75.5h1M95 75.5h1M97 75.5h1M103 75.5h2M109 75.5h2M113 75.5h2M119 75.5h1M18 76.5h1M27 76.5h1M29 76.5h1M31 76.5h2M37 76.5h1M40 76.5h1M57 76.5h1M60 76.5h1M64 76.5h1M66 76.5h1M73 76.5h1M77 76.5h1M83 76.5h1M89 76.5h1M92 76.5h1M97 76.5h1M102 76.5h1M104 76.5h2M109 76.5h1M111 76.5h2M119 76.5h1M11 77.5h1M15 77.5h1M29 77.5h1M33 77.5h1M35 77.5h1M40 77.5h1M48 77.5h1M50 77.5h2M53 77.5h1M57 77.5h1M61 77.5h1M64 77.5h1M69 77.5h1M71 77.5h1M80 77.5h2M94 77.5h1M96 77.5h1M104 77.5h1M108 77.5h1M112 77.5h1M115 77.5h1M119 77.5h1M18 78.5h1M25 78.5h2M38 78.5h1M43 78.5h1M46 78.5h2M57 78.5h1M63 78.5h1M70 78.5h1M73 78.5h1M78 78.5h1M84 78.5h2M87 78.5h1M90 78.5h1M94 78.5h1M97 78.5h1M108 78.5h1M115 78.5h1M12 79.5h1M18 79.5h1M23 79.5h1M29 79.5h1M38 79.5h1M40 79.5h1M44 79.5h1M46 79.5h1M50 79.5h1M52 79.5h1M56 79.5h1M62 79.5h1M71 79.5h1M80 79.5h1M94 79.5h1M97 79.5h1M100 79.5h1M111 79.5h2M114 79.5h1M118 79.5h2"/>
<path stroke="#0000b7" d="M11 18.5h1M16 18.5h1M20 18.5h2M24 18.5h1M27 18.5h1M31 18.5h3M38 18.5h1M43 18.5h1M49 18.5h1M54 18.5h2M64 18.5h1M67 18.5h1M73 18.5h1M79 18.5h1M89 18.5h1M91 18.5h1M95 18.5h1M100 18.5h1M102 18.5h1M108 18.5h2M115 18.5h1M118 18.5h2M14 19.5h1M19 19.5h1M23 19.5h1M28 19.5h2M31 19.5h1M33 19.5h1M37 19.5h1M41 19.5h1M43 19.5h1M53 19.5h1M55 19.5h1M57 19.5h1M61 19.5h1M64 19.5h1M74 19.5h1M78 19.5h1M81 19.5h1M87 19.5h1M92 19.5h1M94 19.5h1M100 19.5h1M102 19.5h1M104 19.5h2M109 19.5h1M113 19.5h2M118 19.5h1M12 20.5h2M15 20.5h1M18 20.5h2M22 20.5h1M25 20.5h1M31 20.5h2M38 20.5h1M44 20.5h1M54 20.5h1M58 20.5h2M64 20.5h1M67 20.5h2M71 20.5h1M78 20.5h1M80 20.5h1M85 20.5h2M90 20.5h1M108 20.5h1M110 20.5h1M21 21.5h1M23 21.5h1M26 21.5h1M28 21.5h1M30 21.5h1M34 21.5h1M37 21.5h1M39 21.5h2M42 21.5h1M47 21.5h2M50 21.5h1M52 21.5h1M54 21.5h1M61 21.5h2M70 21.5h2M76 21.5h1M78 21.5h1M85 21.5h2M90 21.5h1M96 21.5h1M99 21.5h1M106 21.5h3M112 21.5h1M115 21.5h1M119 21.5h1M17 22.5h1M25 22.5h1M34 22.5h1M41 22.5h1M48 22.5h1M50 22.5h1M52 22.5h2M55 22.5h1M58 22.5h5M79 22.5h1M81 22.5h1M86 22.5h1M88 22.5h2M97 22.5h2M100 22.5h2M103 22.5h2M106 22.5h2M110 22.5h2M119 22.5h1M11 23.5h1M17 23.5h1M22 23.5h1M27 23.5h1M29 23.5h1M35 23.5h1M42 23.5h1M48 23.5h2M51 23.5h1M55 23.5h2M59 23.5h1M62 23.5h1M65 23.5h1M73 23.5h1M77 23.5h1M81 23.5h1M83 23.5h1M86 23.5h1M98 23.5h1M101 23.5h1M107 23.5h2M113 23.5h4M13 24.5h1M15 24.5h2M22 24.5h1M24 24.5h1M38 24.5h1M42 24.5h1M55 24.5h1M58 24.5h1M63 24.5h1M78 24.5h1M92 24.5h2M95 24.5h1M98 24.5h1M100 24.5h1M104 24.5h1M108 24.5h1M113 24.5h1M11 25.5h1M14 25.5h1M17 25.5h1M23 25.5h2M29 25.5h1M34 25.5h2M39 25.5h1M42 25.5h1M45 25.5h2M52 25.5h2M63 25.5h1M66 25.5h1M72 25.5h1M75 25.5h1M77 25.5h1M81 25.5h2M89 25.5h1M98 25.5h1M102 25.5h1M105 25.5h2M110 25.5h1M112 25.5h1M115 25.5h1M118 25.5h2M13 26.5h2M16 26.5h3M21 26.5h1M38 26.5h1M40 26.5h1M42 26.5h1M57 26.5h1M60 26.5h2M66 26.5h1M70 26.5h1M72 26.5h1M76 26.5h1M96 26.5h1M98 26.5h1M100 26.5h2M104 26.5h1M106 26.5h1M112 26.5h1M11 27.5h2M14 27.5h3M18 27.5h1M20 27.5h1M23 27.5h1M29 27.5h1M36 27.5h1M41 27.5h2M54 27.5h2M62 27.5h1M64 27.5h3M69 27.5h2M75 27.5h2M78 27.5h1M85 27.5h2M89 27.5h3M95 27.5h1M99 27.5h1M101 27.5h1M108 27.5h1M111 27.5h1M118 27.5h1M19 28.5h1M27 28.5h1M30 28.5h1M33 28.5h1M37 28.5h1M42 28.5h2M46 28.5h2M51 28.5h1M55 28.5h1M60 28.5h1M62 28.5h1M64 28.5h1M66 28.5h2M72 28.5h2M77 28.5h1M84 28.5h1M86 28.5h2M90 28.5h1M99 28.5h1M103 28.5h2M106 28.5h1M108 28.5h2M116 28.5h3M17 29.5h1M20 29.5h1M29 29.5h1M33 29.5h1M36 29.5h1M39 29.5h2M42 29.5h2M46 29.5h1M48 29.5h2M56 29.5h2M63 29.5h2M74 29.5h1M79 29.5h1M91 29.5h1M95 29.5h1M97 29.5h3M102 29.5h1M105 29.5h1M109 29.5h2M116 29.5h1M118 29.5h2M17 30.5h1M21 30.5h1M26 30.5h1M29 30.5h2M33 30.5h1M39 30.5h1M50 30.5h1M52 30.5h1M56 30.5h1M60 30.5h1M63 30.5h1M66 30.5h1M70 30.5h1M77 30.5h1M92 30.5h1M94 30.5h1M96 30.5h5M102 30.5h1M106 30.5h1M110 30.5h1M112 30.5h3M116 30.5h1M118 30.5h1M12 31.5h1M25 31.5h1M36 31.5h1M42 31.5h1M46 31.5h1M48 31.5h1M60 31.5h3M70 31.5h2M76 31.5h1M82 31.5h1M85 31.5h1M103 31.5h1M106 31.5h1M108 31.5h1M113 31.5h1M117 31.5h1M12 32.5h1M14 32.5h1M16 32.5h2M19 32.5h1M21 32.5h1M23 32.5h2M27 32.5h1M31 32.5h1M33 32.5h1M35 32.5h1M37 32.5h1M54 32.5h2M58 32.5h1M63 32.5h1M66 32.5h1M79 32.5h2M87 32.5h1M91 32.5h1M93 32.5h3M99 32.5h2M102 32.5h1M104 32.5h1M116 32.5h1M17 33.5h1M19 33.5h1M22 33.5h1M29 33.5h1M32 33.5h1M36 33.5h1M41 33.5h1M43 33.5h1M48 33.5h1M53 33.5h2M65 33.5h1M67 33.5h1M80 33.5h1M83 33.5h1M86 33.5h2M95 33.5h1M102 33.5h2M106 33.5h1M110 33.5h1M117 33.5h1M12 34.5h1M17 34.5h2M25 34.5h1M27 34.5h1M32 34.5h1M42 34.5h1M48 34.5h2M53 34.5h2M56 34.5h1M62 34.5h1M79 34.5h2M86 34.5h1M89 34.5h1M94 34.5h1M97 34.5h1M105 34.5h1M109 34.5h1M113 34.5h2M116 34.5h2M119 34.5h1M13 35.5h2M16 35.5h1M29 35.5h2M32 35.5h1M36 35.5h2M41 35.5h1M45 35.5h1M54 35.5h2M57 35.5h2M60 35.5h1M81 35.5h2M93 35.5h1M98 35.5h1M101 35.5h1M104 35.5h1M108 35.5h2M111 35.5h1M26 36.5h2M34 36.5h1M36 36.5h1M45 36.5h2M53 36.5h1M57 36.5h1M59 36.5h1M61 36.5h3M66 36.5h1M77 36.5h1M89 36.5h1M95 36.5h1M99 36.5h1M102 36.5h1M104 36.5h1M106 36.5h1M108 36.5h1M117 36.5h1M14 37.5h2M25 37.5h1M28 37.5h1M35 37.5h1M40 37.5h1M42 37.5h2M46 37.5h2M50 37.5h1M52 37.5h1M57 37.5h1M67 37.5h1M73 37.5h1M76 37.5h1M79 37.5h1M85 37.5h1M89 37.5h2M96 37.5h2M99 37.5h2M104 37.5h1M106 37.5h1M109 37.5h1M114 37.5h1M118 37.5h1M13 38.5h1M15 38.5h1M18 38.5h1M26 38.5h3M34 38.5h2M42 38.5h1M47 38.5h1M51 38.5h1M53 38.5h3M58 38.5h1M65 38.5h2M73 38.5h1M89 38.5h1M91 38.5h1M95 38.5h2M102 38.5h1M107 38.5h2M111 38.5h3M116 38.5h1M28 39.5h1M45 39.5h1M51 39.5h1M55 39.5h2M61 39.5h1M79 39.5h1M92 39.5h1M100 39.5h1M113 39.5h1M118 39.5h2M30 40.5h1M32 40.5h1M39 40.5h1M66 40.5h1M18 41.5h1M21 41.5h1M31 41.5h1M94 41.5h1M109 41.5h1M111 41.5h1M23 42.5h1M60 42.5h2M64 42.5h2M85 42.5h1M42 43.5h1M85 43.5h1M91 43.5h1M99 43.5h2M115 43.5h1M56 44.5h2M105 44.5h1M117 44.5h1M43 45.5h1M114 46.5h1M118 46.5h2M110 47.5h1M74 51.5h1M93 51.5h2M83 52.5h1M101 52.5h1M114 52.5h1M119 53.5h1M107 54.5h1M12 55.5h1M97 55.5h2M100 55.5h1M102 55.5h1M27 56.5h1M36 56.5h1M42 56.5h1M102 56.5h1M18 57.5h1M35 57.5h1M48 57.5h1M98 57.5h1M107 57.5h1M17 58.5h1M57 58.5h2M91 58.5h1M110 58.5h1M9 59.5h1M12 59.5h1M19 59.5h1M38 59.5h2M62 59.5h2M65 59.5h1M68 59.5h1M78 59.5h1M105 59.5h1M112 59.5h2M2 60.5h1M8 60.5h1M10 60.5h1M36 60.5h2M39 60.5h2M42 60.5h1M69 60.5h1M80 60.5h1M92 60.5h1M105 60.5h2M108 60.5h1M113 60.5h1M116 60.5h2M1 61.5h1M7 61.5h1M16 61.5h1M23 61.5h1M48 61.5h1M50 61.5h7M61 61.5h1M66 61.5h1M69 61.5h1M88 61.5h2M94 61.5h1M97 61.5h1M115 61.5h1M15 62.5h1M18 62.5h3M23 62.5h1M29 62.5h1M45 62.5h1M49 62.5h3M64 62.5h2M68 62.5h1M84 62.5h2M92 62.5h1M102 62.5h1M110 62.5h3M114 62.5h2M13 63.5h1M15 63.5h3M23 63.5h1M33 63.5h1M38 63.5h1M40 63.5h1M50 63.5h2M53 63.5h1M56 63.5h2M59 63.5h1M72 63.5h1M85 63.5h1M88 63.5h3M94 63.5h1M98 63.5h2M109 63.5h1M113 63.5h1M18 64.5h2M25 64.5h1M46 64.5h1M56 64.5h1M64 64.5h2M75 64.5h2M79 64.5h1M81 64.5h1M83 64.5h3M97 64.5h3M108 64.5h1M117 64.5h3M13 65.5h1M21 65.5h1M23 65.5h1M27 65.5h1M33 65.5h1M39 65.5h4M44 65.5h1M52 65.5h1M62 65.5h1M66 65.5h1M75 65.5h3M83 65.5h2M92 65.5h1M100 65.5h2M113 65.5h1M115 65.5h1M16 66.5h1M27 66.5h1M39 66.5h1M45 66.5h1M47 66.5h2M52 66.5h2M65 66.5h2M90 66.5h2M95 66.5h1M100 66.5h3M106 66.5h1M118 66.5h2M17 67.5h4M25 67.5h3M44 67.5h1M57 67.5h2M73 67.5h1M82 67.5h2M85 67.5h1M101 67.5h1M110 67.5h2M115 67.5h1M20 68.5h1M24 68.5h2M31 68.5h1M34 68.5h1M37 68.5h3M41 68.5h2M45 68.5h1M49 68.5h2M56 68.5h3M60 68.5h1M62 68.5h1M66 68.5h1M71 68.5h1M73 68.5h2M76 68.5h1M85 68.5h1M95 68.5h2M98 68.5h1M112 68.5h2M12 69.5h2M15 69.5h1M18 69.5h2M21 69.5h2M24 69.5h1M29 69.5h1M33 69.5h1M36 69.5h4M43 69.5h3M47 69.5h1M49 69.5h5M55 69.5h3M59 69.5h4M64 69.5h2M69 69.5h1M71 69.5h1M74 69.5h3M78 69.5h1M81 69.5h2M87 69.5h9M97 69.5h1M100 69.5h1M103 69.5h6M110 69.5h3M114 69.5h1M118 69.5h1M13 70.5h1M15 70.5h1M17 70.5h1M19 70.5h1M23 70.5h2M26 70.5h4M31 70.5h2M37 70.5h2M40 70.5h4M46 70.5h1M48 70.5h4M54 70.5h1M56 70.5h1M59 70.5h1M61 70.5h3M66 70.5h2M69 70.5h4M74 70.5h2M77 70.5h2M80 70.5h1M82 70.5h4M93 70.5h7M101 70.5h1M105 70.5h1M108 70.5h5M114 70.5h2M117 70.5h1M119 70.5h1M11 71.5h1M14 71.5h3M18 71.5h1M21 71.5h1M23 71.5h3M28 71.5h1M30 71.5h2M33 71.5h1M35 71.5h6M44 71.5h2M47 71.5h5M53 71.5h1M57 71.5h1M60 71.5h2M64 71.5h1M66 71.5h2M70 71.5h3M75 71.5h4M81 71.5h1M83 71.5h1M92 71.5h1M94 71.5h3M98 71.5h1M100 71.5h2M103 71.5h1M105 71.5h2M110 71.5h4M119 71.5h1M11 72.5h1M13 72.5h1M15 72.5h2M18 72.5h1M20 72.5h1M23 72.5h2M26 72.5h1M29 72.5h1M33 72.5h3M37 72.5h4M42 72.5h5M49 72.5h1M51 72.5h5M60 72.5h6M67 72.5h1M69 72.5h2M75 72.5h2M78 72.5h2M81 72.5h5M87 72.5h1M90 72.5h1M92 72.5h1M94 72.5h2M97 72.5h1M100 72.5h7M108 72.5h5M114 72.5h1M116 72.5h1M118 72.5h2M14 73.5h5M20 73.5h1M23 73.5h2M26 73.5h5M32 73.5h1M35 73.5h2M38 73.5h2M43 73.5h2M46 73.5h1M48 73.5h1M51 73.5h1M55 73.5h2M60 73.5h2M63 73.5h1M65 73.5h1M69 73.5h2M74 73.5h2M77 73.5h2M80 73.5h7M89 73.5h1M93 73.5h1M96 73.5h3M100 73.5h4M105 73.5h4M110 73.5h1M113 73.5h3M117 73.5h2M11 74.5h3M20 74.5h2M25 74.5h3M29 74.5h1M31 74.5h1M33 74.5h1M37 74.5h3M41 74.5h1M43 74.5h1M45 74.5h1M48 74.5h1M52 74.5h1M57 74.5h1M60 74.5h2M63 74.5h2M70 74.5h3M75 74.5h3M80 74.5h1M85 74.5h2M88 74.5h2M94 74.5h1M96 74.5h1M99 74.5h1M101 74.5h3M106 74.5h1M109 74.5h4M114 74.5h4M119 74.5h1M11 75.5h1M16 75.5h4M25 75.5h2M28 75.5h2M32 75.5h1M34 75.5h2M38 75.5h1M40 75.5h1M42 75.5h2M46 75.5h4M51 75.5h3M55 75.5h3M61 75.5h2M64 75.5h1M68 75.5h1M70 75.5h1M72 75.5h1M75 75.5h1M78 75.5h1M81 75.5h1M83 75.5h1M85 75.5h2M88 75.5h3M94 75.5h1M96 75.5h1M101 75.5h2M105 75.5h4M111 75.5h2M115 75.5h3M11 76.5h1M15 76.5h1M17 76.5h1M19 76.5h5M25 76.5h2M28 76.5h1M33 76.5h4M38 76.5h2M41 76.5h8M50 76.5h3M56 76.5h1M61 76.5h3M65 76.5h1M68 76.5h1M70 76.5h2M74 76.5h1M76 76.5h1M78 76.5h3M84 76.5h3M88 76.5h1M90 76.5h1M94 76.5h3M98 76.5h4M103 76.5h1M106 76.5h1M108 76.5h1M110 76.5h1M113 76.5h3M117 76.5h2M13 77.5h1M16 77.5h1M18 77.5h5M26 77.5h2M30 77.5h2M34 77.5h1M36 77.5h4M41 77.5h2M44 77.5h3M49 77.5h1M54 77.5h1M56 77.5h1M58 77.5h1M60 77.5h1M62 77.5h2M65 77.5h2M70 77.5h1M73 77.5h5M83 77.5h10M95 77.5h1M97 77.5h1M99 77.5h5M105 77.5h1M107 77.5h1M109 77.5h3M113 77.5h2M117 77.5h1M11 78.5h1M13 78.5h1M15 78.5h2M19 78.5h2M22 78.5h1M24 78.5h1M27 78.5h3M33 78.5h3M37 78.5h1M39 78.5h4M44 78.5h2M48 78.5h5M55 78.5h2M58 78.5h2M62 78.5h1M66 78.5h1M68 78.5h1M71 78.5h1M74 78.5h4M79 78.5h2M83 78.5h1M88 78.5h1M91 78.5h1M93 78.5h1M95 78.5h2M99 78.5h8M109 78.5h6M117 78.5h3M11 79.5h1M13 79.5h1M15 79.5h2M19 79.5h3M24 79.5h3M31 79.5h1M33 79.5h5M39 79.5h1M42 79.5h1M45 79.5h1M47 79.5h3M53 79.5h1M57 79.5h1M60 79.5h2M65 79.5h3M69 79.5h1M73 79.5h6M81 79.5h5M88 79.5h4M93 79.5h1M95 79.5h2M98 79.5h2M101 79.5h2M104 79.5h3M108 79.5h2M113 79.5h1"/>
<path stroke="#0000c7" d="M11 39.5h2M14 39.5h1M27 39.5h1M40 39.5h1M42 39.5h1M50 39.5h1M54 39.5h1M57 39.5h1M59 39.5h2M62 39.5h1M64 39.5h1M81 39.5h3M93 39.5h1M101 39.5h1M107 39.5h1M109 39.5h1M114 39.5h1M28 40.5h2M31 40.5h1M33 40.5h1M35 40.5h1M42 40.5h2M45 40.5h1M47 40.5h1M54 40.5h1M61 40.5h2M68 40.5h1M71 40.5h2M80 40.5h4M97 40.5h3M104 40.5h3M108 40.5h1M19 41.5h2M22 41.5h1M41 41.5h2M75 41.5h1M78 41.5h1M84 41.5h2M93 41.5h1M95 41.5h2M99 41.5h2M113 41.5h1M24 42.5h1M30 42.5h2M39 42.5h1M42 42.5h1M86 42.5h1M92 42.5h1M111 42.5h1M115 42.5h1M117 42.5h1M31 43.5h1M68 43.5h1M98 43.5h1M104 43.5h1M119 43.5h1M71 44.5h1M73 44.5h1M104 44.5h1M106 44.5h1M116 44.5h1M118 44.5h2M42 45.5h1M44 45.5h1M94 45.5h1M108 46.5h2M70 47.5h1M69 51.5h1M73 51.5h1M92 51.5h1M103 51.5h2M48 52.5h1M50 52.5h1M67 52.5h1M90 52.5h1M105 52.5h2M110 52.5h1M13 53.5h1M61 53.5h2M73 53.5h1M87 53.5h1M24 54.5h2M65 54.5h1M88 54.5h1M91 54.5h2M106 54.5h1M23 55.5h1M37 55.5h1M44 55.5h1M54 55.5h1M62 55.5h1M68 55.5h2M85 55.5h1M96 55.5h1M101 55.5h1M103 55.5h1M113 55.5h2M20 56.5h3M37 56.5h1M41 56.5h1M43 56.5h1M46 56.5h2M66 56.5h1M69 56.5h1M72 56.5h1M92 56.5h1M97 56.5h1M103 56.5h2M13 57.5h1M19 57.5h1M28 57.5h1M36 57.5h1M45 57.5h1M49 57.5h1M51 57.5h1M53 57.5h1M66 57.5h1M70 57.5h3M74 57.5h1M85 57.5h1M99 57.5h2M109 57.5h1M114 57.5h3M4 58.5h1M7 58.5h1M18 58.5h1M33 58.5h1M55 58.5h2M59 58.5h1M64 58.5h1M75 58.5h1M77 58.5h1M80 58.5h1M92 58.5h1M96 58.5h2M102 58.5h1M104 58.5h1M111 58.5h1M115 58.5h1M117 58.5h1M119 58.5h1M11 59.5h1M22 59.5h1M40 59.5h2M50 59.5h3M60 59.5h2M64 59.5h1M66 59.5h1M71 59.5h1M77 59.5h1M79 59.5h1M81 59.5h3M85 59.5h1M101 59.5h1M104 59.5h1M107 59.5h1M109 59.5h1M111 59.5h1M115 59.5h1M4 60.5h1M25 60.5h1M35 60.5h1M43 60.5h2M61 60.5h1M75 60.5h2M81 60.5h1M83 60.5h1M86 60.5h1M88 60.5h1M91 60.5h1M103 60.5h1M109 60.5h1M111 60.5h1M4 61.5h1M15 61.5h1M17 61.5h1M24 61.5h1M27 61.5h1M29 61.5h2M32 61.5h2M37 61.5h2M44 61.5h1M59 61.5h1M62 61.5h1M67 61.5h1M70 61.5h1M81 61.5h1M83 61.5h1M91 61.5h2M108 61.5h1M114 61.5h1M14 62.5h1M16 62.5h2M21 62.5h1M28 62.5h1M42 62.5h1M46 62.5h1M57 62.5h2M63 62.5h1M67 62.5h1M69 62.5h1M72 62.5h2M77 62.5h1M93 62.5h1M95 62.5h1M101 62.5h1M103 62.5h1M108 62.5h2M113 62.5h1M116 62.5h2M18 63.5h2M22 63.5h1M24 63.5h3M29 63.5h1M37 63.5h1M41 63.5h3M46 63.5h2M52 63.5h1M54 63.5h2M67 63.5h2M70 63.5h2M74 63.5h1M76 63.5h2M79 63.5h2M84 63.5h1M86 63.5h1M91 63.5h1M97 63.5h1M102 63.5h3M111 63.5h2M114 63.5h2M119 63.5h1M15 64.5h2M23 64.5h2M27 64.5h1M30 64.5h1M33 64.5h1M39 64.5h1M42 64.5h1M49 64.5h1M54 64.5h2M57 64.5h2M61 64.5h1M63 64.5h1M66 64.5h1M77 64.5h1M80 64.5h1M87 64.5h1M91 64.5h3M96 64.5h1M100 64.5h2M107 64.5h1M113 64.5h4M14 65.5h1M17 65.5h2M20 65.5h1M22 65.5h1M24 65.5h1M30 65.5h3M34 65.5h2M43 65.5h1M46 65.5h1M48 65.5h2M53 65.5h2M58 65.5h3M70 65.5h1M74 65.5h1M82 65.5h1M86 65.5h3M90 65.5h1M93 65.5h1M98 65.5h1M102 65.5h2M105 65.5h2M108 65.5h1M111 65.5h1M116 65.5h3M14 66.5h2M23 66.5h1M25 66.5h1M28 66.5h1M30 66.5h1M40 66.5h1M43 66.5h2M51 66.5h1M54 66.5h1M63 66.5h1M69 66.5h1M73 66.5h1M80 66.5h4M87 66.5h1M92 66.5h2M98 66.5h2M104 66.5h1M107 66.5h3M116 66.5h2M12 67.5h1M21 67.5h1M28 67.5h2M31 67.5h1M33 67.5h2M42 67.5h2M46 67.5h1M48 67.5h1M50 67.5h2M53 67.5h4M59 67.5h1M63 67.5h1M66 67.5h5M72 67.5h1M76 67.5h3M81 67.5h1M84 67.5h1M89 67.5h1M93 67.5h2M97 67.5h1M102 67.5h2M106 67.5h1M109 67.5h1M113 67.5h1M117 67.5h3M15 68.5h5M26 68.5h1M29 68.5h2M33 68.5h1M35 68.5h2M40 68.5h1M46 68.5h1M48 68.5h1M51 68.5h3M59 68.5h1M63 68.5h1M65 68.5h1M68 68.5h1M70 68.5h1M72 68.5h1M75 68.5h1M77 68.5h1M80 68.5h1M84 68.5h1M91 68.5h1M94 68.5h1M97 68.5h1M99 68.5h1M101 68.5h1M106 68.5h2M110 68.5h1M114 68.5h1M14 69.5h1M16 69.5h2M28 69.5h1M54 69.5h1M58 69.5h1M63 69.5h1M66 69.5h2M79 69.5h1M83 69.5h1M98 69.5h1M102 69.5h1M109 69.5h1M113 69.5h1M115 69.5h2M12 70.5h1M14 70.5h1M18 70.5h1M20 70.5h2M36 70.5h1M45 70.5h1M52 70.5h2M55 70.5h1M58 70.5h1M68 70.5h1M79 70.5h1M81 70.5h1M87 70.5h2M91 70.5h2M103 70.5h1M116 70.5h1M118 70.5h1M13 71.5h1M17 71.5h1M20 71.5h1M22 71.5h1M32 71.5h1M42 71.5h2M46 71.5h1M54 71.5h2M58 71.5h1M63 71.5h1M68 71.5h1M79 71.5h1M82 71.5h1M85 71.5h3M90 71.5h2M93 71.5h1M97 71.5h1M102 71.5h1M104 71.5h1M107 71.5h2M116 71.5h1M118 71.5h1M14 72.5h1M17 72.5h1M22 72.5h1M25 72.5h1M28 72.5h1M30 72.5h1M32 72.5h1M36 72.5h1M56 72.5h4M68 72.5h1M71 72.5h2M74 72.5h1M88 72.5h1M93 72.5h1M98 72.5h2M107 72.5h1M12 73.5h1M22 73.5h1M45 73.5h1M49 73.5h1M53 73.5h2M57 73.5h1M67 73.5h2M72 73.5h1M79 73.5h1M87 73.5h1M91 73.5h2M99 73.5h1M104 73.5h1M116 73.5h1M14 74.5h1M17 74.5h1M22 74.5h3M28 74.5h1M30 74.5h1M36 74.5h1M54 74.5h2M58 74.5h2M62 74.5h1M65 74.5h4M79 74.5h1M82 74.5h1M87 74.5h1M93 74.5h1M98 74.5h1M118 74.5h1M12 75.5h1M14 75.5h2M22 75.5h2M36 75.5h2M41 75.5h1M45 75.5h1M54 75.5h1M58 75.5h2M66 75.5h2M74 75.5h1M77 75.5h1M79 75.5h1M82 75.5h1M87 75.5h1M91 75.5h3M99 75.5h2M118 75.5h1M12 76.5h1M14 76.5h1M16 76.5h1M24 76.5h1M30 76.5h1M49 76.5h1M53 76.5h3M58 76.5h2M67 76.5h1M69 76.5h1M72 76.5h1M82 76.5h1M87 76.5h1M91 76.5h1M93 76.5h1M107 76.5h1M116 76.5h1M14 77.5h1M17 77.5h1M23 77.5h3M28 77.5h1M32 77.5h1M47 77.5h1M52 77.5h1M55 77.5h1M59 77.5h1M67 77.5h1M72 77.5h1M78 77.5h1M93 77.5h1M98 77.5h1M118 77.5h1M12 78.5h1M14 78.5h1M17 78.5h1M21 78.5h1M23 78.5h1M32 78.5h1M36 78.5h1M53 78.5h1M60 78.5h1M67 78.5h1M72 78.5h1M82 78.5h1M86 78.5h1M89 78.5h1M92 78.5h1M98 78.5h1M116 78.5h1M14 79.5h1M17 79.5h1M22 79.5h1M27 79.5h2M32 79.5h1M41 79.5h1M43 79.5h1M55 79.5h1M58 79.5h2M64 79.5h1M68 79.5h1M70 79.5h1M79 79.5h1M92 79.5h1M110 79.5h1M115 79.5h2"/>
<path stroke="#0000d7" d="M13 18.5h1M73 19.5h1M111 19.5h1M11 21.5h1M68 21.5h1M92 21.5h1M67 22.5h1M91 22.5h1M32 23.5h1M104 23.5h1M109 23.5h1M70 28.5h1M83 29.5h1M112 29.5h1M14 30.5h1M95 30.5h1M61 32.5h1M68 32.5h1M75 32.5h1M81 32.5h1M45 33.5h1M60 33.5h1M91 33.5h1M30 34.5h1M57 34.5h1M65 34.5h1M79 35.5h1M86 35.5h1M14 36.5h1M73 36.5h2M87 36.5h1M12 37.5h1M23 38.5h1M101 38.5h1M21 39.5h1M24 39.5h1M44 39.5h1M47 39.5h1M49 39.5h1M52 39.5h1M58 39.5h1M71 39.5h2M80 39.5h1M91 39.5h1M94 39.5h1M105 39.5h2M108 39.5h1M110 39.5h1M115 39.5h2M14 40.5h1M18 40.5h2M24 40.5h1M38 40.5h1M40 40.5h2M46 40.5h1M50 40.5h1M52 40.5h1M55 40.5h1M59 40.5h1M63 40.5h1M65 40.5h1M79 40.5h1M92 40.5h2M95 40.5h1M101 40.5h2M112 40.5h2M117 40.5h3M17 41.5h1M32 41.5h1M40 41.5h1M50 41.5h1M73 41.5h1M80 41.5h1M91 41.5h1M97 41.5h1M108 41.5h1M110 41.5h1M112 41.5h1M118 41.5h1M27 42.5h1M40 42.5h2M62 42.5h2M72 42.5h1M79 42.5h2M91 42.5h1M94 42.5h1M107 42.5h1M25 43.5h1M30 43.5h1M43 43.5h1M63 43.5h1M67 43.5h1M95 43.5h1M97 43.5h1M101 43.5h3M108 43.5h1M113 43.5h2M116 43.5h1M23 44.5h1M40 44.5h1M55 44.5h1M59 44.5h1M80 44.5h1M98 44.5h1M103 44.5h1M17 45.5h2M45 45.5h1M87 45.5h1M91 45.5h1M95 45.5h1M100 45.5h1M105 45.5h1M111 45.5h2M118 45.5h1M11 46.5h1M94 46.5h1M116 46.5h1M77 47.5h1M80 47.5h1M114 47.5h1M60 50.5h1M47 51.5h1M77 51.5h1M89 51.5h2M95 51.5h1M110 51.5h1M42 52.5h1M49 52.5h1M64 52.5h1M68 52.5h1M78 52.5h1M92 52.5h1M115 52.5h1M33 53.5h1M40 53.5h1M75 53.5h1M77 53.5h1M88 53.5h1M118 53.5h1M33 54.5h1M51 54.5h1M60 54.5h1M84 54.5h1M87 54.5h1M108 54.5h1M115 54.5h1M24 55.5h2M52 55.5h1M63 55.5h1M90 55.5h1M99 55.5h1M104 55.5h1M116 55.5h2M34 56.5h1M38 56.5h1M44 56.5h2M53 56.5h2M60 56.5h1M68 56.5h1M70 56.5h2M75 56.5h2M87 56.5h1M101 56.5h1M11 57.5h2M21 57.5h1M26 57.5h2M29 57.5h1M58 57.5h1M61 57.5h1M64 57.5h1M73 57.5h1M82 57.5h1M92 57.5h1M95 57.5h1M97 57.5h1M118 57.5h2M1 58.5h1M5 58.5h2M11 58.5h1M21 58.5h1M29 58.5h1M32 58.5h1M50 58.5h2M54 58.5h1M63 58.5h1M76 58.5h1M83 58.5h1M87 58.5h1M105 58.5h1M108 58.5h1M114 58.5h1M17 59.5h2M20 59.5h2M25 59.5h1M27 59.5h1M29 59.5h1M34 59.5h1M47 59.5h1M54 59.5h1M58 59.5h2M67 59.5h1M89 59.5h2M92 59.5h1M97 59.5h1M100 59.5h1M102 59.5h1M106 59.5h1M108 59.5h1M114 59.5h1M118 59.5h1M11 60.5h1M18 60.5h1M21 60.5h2M24 60.5h1M26 60.5h1M33 60.5h2M45 60.5h2M58 60.5h1M60 60.5h1M62 60.5h1M66 60.5h3M70 60.5h3M79 60.5h1M82 60.5h1M84 60.5h1M87 60.5h1M93 60.5h1M100 60.5h2M114 60.5h1M119 60.5h1M12 61.5h2M21 61.5h1M25 61.5h1M28 61.5h1M31 61.5h1M43 61.5h1M47 61.5h1M49 61.5h1M63 61.5h1M65 61.5h1M68 61.5h1M71 61.5h2M78 61.5h1M80 61.5h1M84 61.5h1M90 61.5h1M93 61.5h1M95 61.5h1M98 61.5h1M100 61.5h1M104 61.5h1M109 61.5h2M118 61.5h1M22 62.5h1M27 62.5h1M30 62.5h1M35 62.5h2M39 62.5h1M43 62.5h2M54 62.5h2M81 62.5h1M83 62.5h1M86 62.5h2M94 62.5h1M105 62.5h1M107 62.5h1M118 62.5h2M14 63.5h1M21 63.5h1M27 63.5h1M31 63.5h2M34 63.5h1M39 63.5h1M44 63.5h1M58 63.5h1M83 63.5h1M87 63.5h1M92 63.5h2M101 63.5h1M108 63.5h1M110 63.5h1M11 64.5h1M14 64.5h1M17 64.5h1M20 64.5h1M22 64.5h1M28 64.5h1M31 64.5h1M35 64.5h1M41 64.5h1M43 64.5h1M45 64.5h1M47 64.5h1M50 64.5h1M60 64.5h1M62 64.5h1M67 64.5h4M74 64.5h1M78 64.5h1M86 64.5h1M90 64.5h1M102 64.5h1M16 65.5h1M28 65.5h1M37 65.5h1M45 65.5h1M55 65.5h1M61 65.5h1M63 65.5h1M65 65.5h1M71 65.5h1M78 65.5h1M80 65.5h2M85 65.5h1M89 65.5h1M91 65.5h1M94 65.5h2M97 65.5h1M99 65.5h1M107 65.5h1M109 65.5h1M112 65.5h1M114 65.5h1M12 66.5h1M17 66.5h1M35 66.5h1M38 66.5h1M42 66.5h1M46 66.5h1M57 66.5h2M64 66.5h1M68 66.5h1M70 66.5h1M72 66.5h1M74 66.5h1M86 66.5h1M96 66.5h1M105 66.5h1M111 66.5h2M115 66.5h1M13 67.5h1M22 67.5h1M24 67.5h1M30 67.5h1M32 67.5h1M36 67.5h1M45 67.5h1M49 67.5h1M60 67.5h1M62 67.5h1M71 67.5h1M90 67.5h2M98 67.5h1M100 67.5h1M107 67.5h1M112 67.5h1M116 67.5h1M21 68.5h2M43 68.5h1M54 68.5h2M61 68.5h1M64 68.5h1M79 68.5h1M89 68.5h2M93 68.5h1M115 68.5h1M30 69.5h1M32 69.5h1M72 69.5h1M86 69.5h1M99 69.5h1M59 71.5h1M99 71.5h1M12 72.5h1M91 72.5h1M59 73.5h1M32 74.5h1M53 74.5h1M92 74.5h1M12 77.5h1M43 77.5h1M68 77.5h1M82 77.5h1M30 78.5h1M54 78.5h1M30 79.5h1M54 79.5h1M72 79.5h1M86 79.5h2"/>
<path stroke="#0000e7" d="M65 18.5h1M92 18.5h1M51 19.5h1M107 19.5h1M47 20.5h1M60 20.5h1M30 22.5h1M26 23.5h1M72 24.5h1M54 25.5h1M27 26.5h1M113 26.5h1M32 27.5h1M93 27.5h1M78 28.5h1M34 29.5h1M51 30.5h1M59 30.5h1M14 31.5h1M34 31.5h2M75 31.5h1M56 32.5h1M85 32.5h1M35 33.5h1M38 33.5h1M71 33.5h1M22 34.5h1M47 34.5h1M82 34.5h1M77 35.5h2M13 36.5h1M67 36.5h1M82 36.5h1M101 36.5h1M65 37.5h1M14 38.5h1M59 38.5h1M93 38.5h1M13 39.5h1M15 39.5h1M20 39.5h1M26 39.5h1M29 39.5h1M34 39.5h1M36 39.5h2M53 39.5h1M63 39.5h1M66 39.5h2M74 39.5h2M85 39.5h1M90 39.5h1M97 39.5h3M103 39.5h1M117 39.5h1M17 40.5h1M27 40.5h1M34 40.5h1M36 40.5h1M44 40.5h1M49 40.5h1M53 40.5h1M64 40.5h1M75 40.5h1M87 40.5h1M89 40.5h1M96 40.5h1M30 41.5h1M36 41.5h1M38 41.5h1M49 41.5h1M59 41.5h1M63 41.5h3M71 41.5h1M76 41.5h2M79 41.5h1M81 41.5h1M98 41.5h1M101 41.5h1M114 41.5h1M14 42.5h1M28 42.5h2M38 42.5h1M56 42.5h1M68 42.5h1M84 42.5h1M90 42.5h1M93 42.5h1M110 42.5h1M118 42.5h1M26 43.5h1M35 43.5h1M41 43.5h1M53 43.5h1M79 43.5h2M86 43.5h1M90 43.5h1M92 43.5h1M94 43.5h1M109 43.5h2M18 44.5h2M58 44.5h1M70 44.5h1M81 44.5h1M101 44.5h1M110 44.5h1M112 44.5h1M114 44.5h2M19 45.5h1M24 45.5h1M35 45.5h1M82 45.5h1M88 45.5h1M90 45.5h1M119 45.5h1M53 46.5h1M60 46.5h1M81 46.5h2M86 46.5h1M104 46.5h1M111 46.5h1M113 46.5h1M115 46.5h1M46 47.5h1M71 47.5h1M87 47.5h1M118 49.5h1M93 50.5h1M98 50.5h1M117 50.5h1M51 51.5h3M75 51.5h1M82 51.5h1M91 51.5h1M102 51.5h1M115 51.5h1M28 52.5h1M44 52.5h1M66 52.5h1M69 52.5h1M71 52.5h1M77 52.5h1M84 52.5h1M88 52.5h1M91 52.5h1M119 52.5h1M23 53.5h1M28 53.5h2M34 53.5h1M56 53.5h2M63 53.5h1M66 53.5h1M78 53.5h1M83 53.5h2M86 53.5h1M107 53.5h1M117 53.5h1M20 54.5h1M34 54.5h1M38 54.5h1M45 54.5h1M52 54.5h2M70 54.5h1M75 54.5h2M82 54.5h1M94 54.5h1M96 54.5h1M11 55.5h1M17 55.5h1M36 55.5h1M43 55.5h1M53 55.5h1M70 55.5h1M75 55.5h1M78 55.5h1M83 55.5h2M88 55.5h2M91 55.5h1M107 55.5h1M13 56.5h1M18 56.5h1M28 56.5h1M30 56.5h1M32 56.5h2M35 56.5h1M40 56.5h1M49 56.5h1M59 56.5h1M61 56.5h1M65 56.5h1M67 56.5h1M73 56.5h1M81 56.5h1M85 56.5h1M94 56.5h1M96 56.5h1M17 57.5h1M22 57.5h1M30 57.5h1M34 57.5h1M38 57.5h1M42 57.5h1M44 57.5h1M46 57.5h1M52 57.5h1M56 57.5h1M60 57.5h1M84 57.5h1M87 57.5h2M91 57.5h1M93 57.5h1M104 57.5h1M110 57.5h1M15 58.5h2M28 58.5h1M41 58.5h1M60 58.5h3M70 58.5h2M79 58.5h1M81 58.5h2M88 58.5h1M98 58.5h2M109 58.5h1M5 59.5h1M14 59.5h1M28 59.5h1M30 59.5h1M32 59.5h1M35 59.5h1M42 59.5h1M55 59.5h1M72 59.5h1M74 59.5h1M76 59.5h1M80 59.5h1M84 59.5h1M91 59.5h1M93 59.5h3M98 59.5h1M110 59.5h1M117 59.5h1M0 60.5h1M12 60.5h2M15 60.5h1M17 60.5h1M38 60.5h1M41 60.5h1M47 60.5h1M49 60.5h2M53 60.5h2M57 60.5h1M59 60.5h1M90 60.5h1M102 60.5h1M104 60.5h1M110 60.5h1M115 60.5h1M118 60.5h1M14 61.5h1M20 61.5h1M26 61.5h1M34 61.5h3M46 61.5h1M60 61.5h1M64 61.5h1M73 61.5h2M79 61.5h1M82 61.5h1M86 61.5h2M101 61.5h1M107 61.5h1M111 61.5h1M116 61.5h2M119 61.5h1M13 62.5h1M31 62.5h2M37 62.5h2M40 62.5h2M48 62.5h1M52 62.5h1M59 62.5h1M66 62.5h1M78 62.5h2M89 62.5h1M91 62.5h1M96 62.5h1M99 62.5h1M104 62.5h1M12 63.5h1M30 63.5h1M49 63.5h1M60 63.5h2M65 63.5h2M69 63.5h1M73 63.5h1M78 63.5h1M82 63.5h1M95 63.5h1M29 64.5h1M32 64.5h1M37 64.5h1M40 64.5h1M48 64.5h1M53 64.5h1M59 64.5h1M71 64.5h1M109 64.5h1M12 65.5h1M25 65.5h1M29 65.5h1M38 65.5h1M57 65.5h1M67 65.5h2M96 65.5h1M104 65.5h1M110 65.5h1M119 65.5h1M13 66.5h1M22 66.5h1M29 66.5h1M31 66.5h1M37 66.5h1M49 66.5h2M55 66.5h2M59 66.5h1M77 66.5h1M88 66.5h2M103 66.5h1M110 66.5h1M14 67.5h1M23 67.5h1M39 67.5h1M41 67.5h1M65 67.5h1M79 67.5h1M87 67.5h2M95 67.5h2M105 67.5h1M114 67.5h1M23 68.5h1M28 68.5h1M32 68.5h1M67 68.5h1M69 68.5h1M78 68.5h1M81 68.5h1M103 68.5h1M105 68.5h1M108 68.5h2M118 68.5h2M20 69.5h1M73 69.5h1M86 70.5h1M107 70.5h1M34 71.5h1M117 71.5h1M86 72.5h1M113 72.5h1M62 73.5h1M91 74.5h1M20 75.5h1M80 75.5h1M98 75.5h1M75 76.5h1M116 77.5h1M81 78.5h1M107 78.5h1M51 79.5h1"/>
<path stroke="#0000f7" d="M18 39.5h1M22 39.5h2M25 39.5h1M33 39.5h1M38 39.5h1M68 39.5h1M87 39.5h1M89 39.5h1M95 39.5h1M102 39.5h1M104 39.5h1M111 39.5h2M12 40.5h2M15 40.5h1M23 40.5h1M25 40.5h1M51 40.5h1M74 40.5h1M91 40.5h1M109 40.5h1M115 40.5h1M24 41.5h1M46 41.5h1M53 41.5h1M60 41.5h1M72 41.5h1M82 41.5h1M88 41.5h1M103 41.5h1M115 41.5h1M11 42.5h1M21 42.5h2M36 42.5h1M45 42.5h1M59 42.5h1M73 42.5h1M76 42.5h1M81 42.5h1M96 42.5h1M100 42.5h1M116 42.5h1M19 43.5h1M32 43.5h1M64 43.5h1M66 43.5h1M84 43.5h1M88 43.5h1M112 43.5h1M117 43.5h1M12 44.5h1M21 44.5h1M24 44.5h1M47 44.5h1M54 44.5h1M68 44.5h1M72 44.5h1M74 44.5h1M111 44.5h1M15 45.5h1M36 45.5h1M55 45.5h1M65 45.5h2M69 45.5h1M71 45.5h1M79 45.5h3M106 45.5h1M117 45.5h1M34 46.5h1M45 46.5h1M66 46.5h1M83 46.5h1M92 46.5h2M97 46.5h1M103 46.5h1M106 46.5h1M110 46.5h1M117 46.5h1M45 47.5h1M96 47.5h1M117 47.5h1M42 48.5h1M44 48.5h1M76 48.5h1M81 48.5h1M43 49.5h1M101 49.5h1M54 51.5h1M68 51.5h1M101 51.5h1M111 51.5h1M116 51.5h1M51 52.5h1M72 52.5h1M89 52.5h1M107 52.5h1M116 52.5h2M24 53.5h1M41 53.5h1M52 53.5h1M74 53.5h1M91 53.5h1M95 53.5h1M99 53.5h1M101 53.5h1M108 53.5h1M116 53.5h1M40 54.5h1M54 54.5h1M58 54.5h1M64 54.5h1M66 54.5h2M74 54.5h1M78 54.5h1M80 54.5h1M89 54.5h1M93 54.5h1M95 54.5h1M103 54.5h1M113 54.5h1M116 54.5h1M18 55.5h1M55 55.5h1M57 55.5h1M115 55.5h1M17 56.5h1M23 56.5h1M82 56.5h1M93 56.5h1M100 56.5h1M109 56.5h2M112 56.5h1M114 56.5h1M118 56.5h1M14 57.5h2M41 57.5h1M47 57.5h1M50 57.5h1M54 57.5h1M57 57.5h1M63 57.5h1M65 57.5h1M75 57.5h1M83 57.5h1M86 57.5h1M96 57.5h1M103 57.5h1M105 57.5h1M111 57.5h2M25 58.5h1M27 58.5h1M31 58.5h1M34 58.5h1M36 58.5h2M68 58.5h1M89 58.5h1M101 58.5h1M116 58.5h1M118 58.5h1M23 59.5h1M33 59.5h1M43 59.5h1M45 59.5h1M49 59.5h1M53 59.5h1M57 59.5h1M73 59.5h1M75 59.5h1M87 59.5h1M99 59.5h1M119 59.5h1M23 60.5h1M27 60.5h2M48 60.5h1M51 60.5h1M55 60.5h2M85 60.5h1M89 60.5h1M94 60.5h1M99 60.5h1M42 61.5h1M58 61.5h1M76 61.5h2M96 61.5h1M102 61.5h1M12 62.5h1M24 62.5h1M56 62.5h1M74 62.5h1M76 62.5h1M82 62.5h1M88 62.5h1M98 62.5h1M20 63.5h1M28 63.5h1M35 63.5h1M45 63.5h1M48 63.5h1M75 63.5h1M100 63.5h1M117 63.5h2M51 64.5h1M82 64.5h1M89 64.5h1M95 64.5h1M103 64.5h1M110 64.5h1M112 64.5h1M26 65.5h1M36 65.5h1M47 65.5h1M50 65.5h2M69 65.5h1M79 65.5h1M11 66.5h1M18 66.5h3M32 66.5h1M41 66.5h1M60 66.5h2M67 66.5h1M85 66.5h1M94 66.5h1M113 66.5h1M11 67.5h1M35 67.5h1M37 67.5h2M61 67.5h1M75 67.5h1M80 67.5h1M86 67.5h1M92 67.5h1M104 67.5h1M108 67.5h1M44 68.5h1M88 68.5h1M92 68.5h1M100 68.5h1M102 68.5h1M116 68.5h1M68 69.5h1M101 69.5h1M22 70.5h1M35 70.5h1M74 71.5h1M89 72.5h1M19 73.5h1M25 73.5h1M52 73.5h1M58 73.5h1M76 73.5h1M81 74.5h1M105 74.5h1M13 76.5h1M81 76.5h1M79 77.5h1M106 77.5h1M31 78.5h1M61 78.5h1M64 78.5h2M69 78.5h1M63 79.5h1M103 79.5h1M107 79.5h1M117 79.5h1"/>
<path stroke="#0008ff" d="M17 39.5h1M39 39.5h1M43 39.5h1M65 39.5h1M76 39.5h1M78 39.5h1M84 39.5h1M86 39.5h1M96 39.5h1M26 40.5h1M48 40.5h1M58 40.5h1M70 40.5h1M73 40.5h1M76 40.5h3M88 40.5h1M90 40.5h1M94 40.5h1M100 40.5h1M11 41.5h1M16 41.5h1M39 41.5h1M43 41.5h2M86 41.5h1M89 41.5h1M92 41.5h1M117 41.5h1M12 42.5h1M20 42.5h1M32 42.5h1M35 42.5h1M37 42.5h1M43 42.5h1M66 42.5h1M75 42.5h1M87 42.5h1M95 42.5h1M20 43.5h1M24 43.5h1M36 43.5h1M62 43.5h1M89 43.5h1M96 43.5h1M105 43.5h1M28 44.5h1M39 44.5h1M48 44.5h1M60 44.5h1M63 44.5h1M77 44.5h1M85 44.5h1M97 44.5h1M100 44.5h1M102 44.5h1M16 45.5h1M46 45.5h1M60 45.5h1M62 45.5h1M72 45.5h1M99 45.5h1M102 45.5h1M108 45.5h2M113 45.5h1M115 45.5h1M33 46.5h1M42 46.5h2M58 46.5h1M65 46.5h1M71 46.5h1M76 46.5h1M88 46.5h1M98 46.5h1M102 46.5h1M112 46.5h1M76 47.5h1M81 47.5h1M91 47.5h1M111 47.5h1M115 47.5h2M79 48.5h1M88 49.5h1M73 50.5h1M80 50.5h1M103 50.5h1M42 51.5h1M76 51.5h1M80 51.5h1M83 51.5h1M100 51.5h1M105 51.5h1M16 52.5h1M43 52.5h1M63 52.5h1M65 52.5h1M79 52.5h1M87 52.5h1M102 52.5h1M104 52.5h1M109 52.5h1M111 52.5h1M113 52.5h1M12 53.5h1M14 53.5h1M32 53.5h1M43 53.5h1M72 53.5h1M110 53.5h1M19 54.5h1M26 54.5h1M44 54.5h1M69 54.5h1M71 54.5h1M73 54.5h1M81 54.5h1M90 54.5h1M97 54.5h2M100 54.5h1M114 54.5h1M118 54.5h1M13 55.5h1M29 55.5h2M34 55.5h1M45 55.5h1M61 55.5h1M67 55.5h1M72 55.5h1M95 55.5h1M106 55.5h1M109 55.5h1M12 56.5h1M16 56.5h1M19 56.5h1M26 56.5h1M48 56.5h1M51 56.5h1M62 56.5h1M80 56.5h1M88 56.5h1M95 56.5h1M98 56.5h2M105 56.5h1M59 57.5h1M67 57.5h1M76 57.5h1M89 57.5h1M113 57.5h1M19 58.5h1M22 58.5h1M26 58.5h1M35 58.5h1M38 58.5h1M43 58.5h1M72 58.5h1M78 58.5h1M84 58.5h2M90 58.5h1M103 58.5h1M24 59.5h1M31 59.5h1M37 59.5h1M48 59.5h1M69 59.5h1M86 59.5h1M116 59.5h1M14 60.5h1M73 60.5h2M77 60.5h1M95 60.5h2M18 61.5h1M57 61.5h1M103 61.5h1M105 61.5h1M25 62.5h1M34 62.5h1M62 62.5h1M70 62.5h1M75 62.5h1M106 62.5h1M11 63.5h1M36 63.5h1M62 63.5h3M81 63.5h1M105 63.5h1M107 63.5h1M34 64.5h1M104 64.5h1M111 64.5h1M19 65.5h1M24 66.5h1M62 66.5h1M79 66.5h1M16 67.5h1M47 67.5h1M64 67.5h1M74 67.5h1M11 68.5h1M47 68.5h1M83 68.5h1M86 68.5h1M117 68.5h1"/>
<path stroke="#0018ff" d="M19 39.5h1M31 39.5h2M88 39.5h1M21 40.5h2M60 40.5h1M84 40.5h1M107 40.5h1M110 40.5h2M23 41.5h1M29 41.5h1M45 41.5h1M51 41.5h2M54 41.5h1M74 41.5h1M83 41.5h1M90 41.5h1M105 41.5h2M119 41.5h1M15 42.5h1M55 42.5h1M78 42.5h1M89 42.5h1M98 42.5h1M105 42.5h1M114 42.5h1M34 43.5h1M39 43.5h1M48 43.5h1M74 43.5h1M106 43.5h1M111 43.5h1M118 43.5h1M17 44.5h1M20 44.5h1M38 44.5h1M41 44.5h1M53 44.5h1M69 44.5h1M79 44.5h1M83 44.5h1M23 45.5h1M54 45.5h1M63 45.5h1M67 45.5h1M70 45.5h1M96 45.5h1M98 45.5h1M22 46.5h1M107 46.5h1M55 47.5h1M59 47.5h1M69 47.5h1M102 47.5h2M61 48.5h1M107 48.5h1M51 49.5h1M97 49.5h2M113 49.5h2M70 50.5h3M94 50.5h1M99 50.5h1M115 50.5h2M46 51.5h1M70 51.5h1M79 51.5h1M88 51.5h1M113 51.5h1M13 52.5h1M21 52.5h1M26 52.5h1M35 52.5h1M47 52.5h1M52 52.5h1M60 52.5h3M75 52.5h1M95 52.5h2M31 53.5h1M38 53.5h1M96 53.5h1M100 53.5h1M15 54.5h1M23 54.5h1M36 54.5h2M42 54.5h1M57 54.5h1M83 54.5h1M85 54.5h1M105 54.5h1M109 54.5h1M48 55.5h1M56 55.5h1M60 55.5h1M79 55.5h1M105 55.5h1M39 56.5h1M63 56.5h1M91 56.5h1M106 56.5h1M20 57.5h1M24 57.5h2M62 57.5h1M106 57.5h1M20 58.5h1M23 58.5h1M42 58.5h1M45 58.5h1M73 58.5h2M94 58.5h2M16 59.5h1M26 59.5h1M56 59.5h1M96 59.5h1M103 59.5h1M29 60.5h1M63 60.5h1M39 61.5h1M45 61.5h1M85 61.5h1M99 61.5h1M106 61.5h1M53 62.5h1M60 62.5h1M71 62.5h1M80 62.5h1M100 62.5h1M116 63.5h1M13 64.5h1M36 64.5h1M38 64.5h1M73 64.5h1M88 64.5h1M94 64.5h1M11 65.5h1M15 65.5h1M21 66.5h1M84 66.5h1M97 66.5h1M114 66.5h1M52 67.5h1"/>
<path stroke="#0028ff" d="M73 39.5h1M69 40.5h1M56 41.5h1M66 41.5h2M104 41.5h1M16 42.5h1M26 42.5h1M51 42.5h1M54 42.5h1M69 42.5h1M106 42.5h1M108 42.5h1M29 43.5h1M37 43.5h1M54 43.5h1M61 43.5h1M22 44.5h1M32 44.5h2M46 44.5h1M87 44.5h1M99 44.5h1M113 44.5h1M68 45.5h1M73 45.5h1M78 45.5h1M101 45.5h1M40 46.5h1M54 46.5h1M56 46.5h1M64 46.5h1M72 46.5h1M74 46.5h2M87 46.5h1M56 47.5h1M72 47.5h1M100 47.5h1M113 47.5h1M52 48.5h1M82 48.5h1M103 48.5h1M59 49.5h1M45 50.5h1M47 50.5h1M89 50.5h1M108 50.5h1M114 50.5h1M65 51.5h1M107 51.5h1M114 51.5h1M12 52.5h1M25 52.5h1M82 52.5h1M93 52.5h1M97 52.5h1M30 53.5h1M64 53.5h1M68 53.5h1M76 53.5h1M85 53.5h1M90 53.5h1M92 53.5h1M14 54.5h1M29 54.5h1M48 54.5h2M59 54.5h1M61 54.5h2M77 54.5h1M79 54.5h1M102 54.5h1M38 55.5h3M51 55.5h1M64 55.5h1M76 55.5h1M82 55.5h1M86 55.5h1M92 55.5h1M108 55.5h1M118 55.5h2M55 56.5h2M58 56.5h1M74 56.5h1M89 56.5h1M111 56.5h1M116 56.5h1M32 57.5h1M37 57.5h1M77 57.5h1M94 57.5h1M101 57.5h1M14 58.5h1M30 58.5h1M44 58.5h1M46 58.5h2M53 58.5h1M65 58.5h1M69 58.5h1M86 58.5h1M93 58.5h1M112 58.5h1M88 59.5h1M16 60.5h1M19 60.5h1M30 60.5h1M64 60.5h1M11 61.5h1M112 61.5h1M11 62.5h1M26 62.5h1M12 64.5h1M21 64.5h1M44 64.5h1M36 66.5h1M78 66.5h1M27 68.5h1"/>
<path stroke="#0038ff" d="M16 39.5h1M20 40.5h1M103 40.5h1M14 41.5h1M35 41.5h1M37 41.5h1M55 41.5h1M70 41.5h1M116 41.5h1M34 42.5h1M82 42.5h1M103 42.5h1M112 42.5h1M45 43.5h1M60 43.5h1M11 44.5h1M25 44.5h1M34 44.5h1M45 44.5h1M61 44.5h1M84 44.5h1M107 44.5h1M14 45.5h1M25 45.5h1M29 45.5h2M56 45.5h1M104 45.5h1M107 45.5h1M110 45.5h1M12 46.5h1M24 46.5h1M29 46.5h1M39 46.5h1M89 46.5h1M91 46.5h1M67 47.5h1M73 47.5h1M75 47.5h1M78 47.5h1M86 47.5h1M97 47.5h1M104 47.5h1M117 48.5h2M49 49.5h2M68 49.5h1M71 49.5h1M42 50.5h1M46 50.5h1M88 50.5h1M92 50.5h1M100 50.5h1M105 50.5h1M110 50.5h1M112 50.5h1M118 50.5h1M85 51.5h1M96 51.5h2M106 51.5h1M119 51.5h1M29 52.5h1M34 52.5h1M45 52.5h2M73 52.5h1M76 52.5h1M39 53.5h1M44 53.5h1M47 53.5h2M51 53.5h1M67 53.5h1M82 53.5h1M89 53.5h1M97 53.5h1M22 54.5h1M35 54.5h1M46 54.5h1M50 54.5h1M86 54.5h1M101 54.5h1M15 55.5h1M20 55.5h1M27 55.5h1M41 55.5h2M47 55.5h1M65 55.5h1M74 55.5h1M80 55.5h1M93 55.5h1M110 55.5h1M31 56.5h1M64 56.5h1M77 56.5h1M84 56.5h1M86 56.5h1M108 56.5h1M115 56.5h1M16 57.5h1M39 57.5h1M79 57.5h1M81 57.5h1M113 58.5h1M36 59.5h1M46 59.5h1M70 59.5h1M32 60.5h1M97 60.5h1M19 61.5h1M47 62.5h1M61 62.5h1M96 63.5h1M52 64.5h1M105 64.5h2M56 65.5h1M73 65.5h1M34 66.5h1M15 67.5h1M40 67.5h1M14 68.5h1M104 68.5h1"/>
<path stroke="#0048ff" d="M70 39.5h1M16 40.5h1M37 40.5h1M114 40.5h1M107 41.5h1M25 42.5h1M48 42.5h1M57 42.5h2M74 42.5h1M77 42.5h1M99 42.5h1M119 42.5h1M22 43.5h1M33 43.5h1M38 43.5h1M46 43.5h2M58 43.5h1M26 44.5h1M36 44.5h1M88 44.5h1M109 44.5h1M20 45.5h1M32 45.5h1M59 45.5h1M77 45.5h1M92 45.5h2M30 46.5h1M44 46.5h1M50 46.5h1M84 46.5h1M58 47.5h1M68 47.5h1M74 47.5h1M79 47.5h1M119 47.5h1M63 49.5h1M102 49.5h1M108 49.5h1M117 49.5h1M75 50.5h1M77 50.5h1M97 50.5h1M48 51.5h1M66 51.5h1M78 51.5h1M99 51.5h1M109 51.5h1M24 52.5h1M41 52.5h1M59 52.5h1M86 52.5h1M98 52.5h1M100 52.5h1M118 52.5h1M21 53.5h1M55 53.5h1M70 53.5h2M102 53.5h1M109 53.5h1M21 54.5h1M99 54.5h1M104 54.5h1M119 54.5h1M33 55.5h1M50 56.5h1M78 56.5h1M117 56.5h1M23 57.5h1M69 57.5h1M12 58.5h1M40 58.5h1M107 58.5h1M20 60.5h1M98 60.5h1M40 61.5h1M75 61.5h1M33 62.5h1M72 65.5h1M71 66.5h1M76 66.5h1M99 67.5h1M13 68.5h1M82 68.5h1"/>
<path stroke="#0058ff" d="M35 39.5h1M57 40.5h1M85 40.5h1M116 40.5h1M48 41.5h1M58 41.5h1M62 41.5h1M68 41.5h1M102 41.5h1M13 42.5h1M44 42.5h1M47 42.5h1M13 43.5h1M17 43.5h1M21 43.5h1M59 43.5h1M81 43.5h1M107 43.5h1M13 44.5h1M37 44.5h1M62 44.5h1M66 44.5h1M90 44.5h1M22 45.5h1M38 45.5h1M97 45.5h1M21 46.5h1M23 46.5h1M37 46.5h1M68 46.5h2M95 46.5h1M105 46.5h1M39 47.5h1M99 47.5h1M106 47.5h1M69 48.5h1M102 48.5h1M114 48.5h1M53 49.5h1M56 50.5h1M61 50.5h1M65 50.5h1M85 50.5h1M102 50.5h1M106 50.5h1M41 51.5h1M43 51.5h1M49 51.5h1M57 51.5h1M59 51.5h1M71 51.5h2M27 52.5h1M53 52.5h1M58 52.5h1M35 53.5h1M37 53.5h1M65 53.5h1M18 54.5h1M39 54.5h1M43 54.5h1M47 54.5h1M72 54.5h1M22 55.5h1M26 55.5h1M32 55.5h1M112 55.5h1M24 56.5h1M29 56.5h1M52 56.5h1M119 56.5h1M55 57.5h1M39 58.5h1M65 60.5h1M113 61.5h1M75 66.5h1"/>
<path stroke="#0068ff" d="M56 40.5h1M13 41.5h1M15 41.5h1M33 41.5h1M57 41.5h1M46 42.5h1M67 42.5h1M88 42.5h1M44 43.5h1M57 43.5h1M69 43.5h1M83 43.5h1M27 44.5h1M51 44.5h1M64 44.5h1M86 44.5h1M96 44.5h1M11 45.5h2M31 45.5h1M41 45.5h1M57 45.5h1M86 45.5h1M103 45.5h1M114 45.5h1M61 46.5h1M79 46.5h1M85 46.5h1M64 47.5h1M88 47.5h1M90 47.5h1M39 48.5h1M41 48.5h1M46 48.5h1M51 48.5h1M57 48.5h1M73 48.5h1M104 48.5h1M106 48.5h1M73 49.5h1M75 49.5h1M78 49.5h1M91 49.5h1M76 50.5h1M83 50.5h1M55 51.5h1M64 51.5h1M57 52.5h1M70 52.5h1M26 53.5h1M36 53.5h1M93 53.5h1M98 53.5h1M106 53.5h1M112 53.5h1M11 54.5h1M31 54.5h1M55 54.5h2M110 54.5h1M94 55.5h1M43 57.5h1M80 57.5h1M13 58.5h1M24 58.5h1M52 58.5h1M66 58.5h1M41 61.5h1M72 64.5h1M64 65.5h1M12 68.5h1M87 68.5h1"/>
<path stroke="#0078ff" d="M30 39.5h1M48 39.5h1M11 40.5h1M86 40.5h1M87 41.5h1M53 42.5h1M102 42.5h1M40 43.5h1M73 43.5h1M44 44.5h1M76 44.5h1M95 44.5h1M47 45.5h1M74 45.5h1M48 46.5h2M57 46.5h1M77 46.5h1M66 47.5h1M56 48.5h1M96 48.5h1M98 48.5h1M44 49.5h1M62 49.5h1M79 49.5h1M95 49.5h1M104 49.5h1M68 50.5h1M101 50.5h1M50 51.5h1M60 51.5h1M36 52.5h1M54 52.5h1M56 52.5h1M85 52.5h1M94 52.5h1M18 53.5h1M42 53.5h1M79 53.5h1M28 55.5h1M77 55.5h1M111 55.5h1M25 56.5h1M107 56.5h1M113 56.5h1M31 57.5h1M78 57.5h1M49 58.5h1M100 58.5h1M15 59.5h1M31 60.5h1M52 60.5h1M78 60.5h1M90 62.5h1"/>
<path stroke="#0087ff" d="M69 39.5h1M77 39.5h1M12 41.5h1M61 41.5h1M71 42.5h1M97 42.5h1M101 42.5h1M104 42.5h1M49 43.5h1M52 43.5h1M55 43.5h1M87 43.5h1M49 44.5h1M75 44.5h1M82 44.5h1M89 44.5h1M93 44.5h1M34 45.5h1M89 45.5h1M116 45.5h1M35 46.5h1M41 46.5h1M51 46.5h1M55 46.5h1M59 46.5h1M96 46.5h1M87 48.5h1M92 48.5h1M108 48.5h1M38 49.5h1M40 49.5h1M55 50.5h1M67 51.5h1M112 51.5h1M15 52.5h1M20 53.5h1M113 53.5h1M16 54.5h1M28 54.5h1M32 54.5h1M41 54.5h1M117 54.5h1M31 55.5h1M35 55.5h1M71 55.5h1M73 55.5h1M87 55.5h1M79 56.5h1M33 57.5h1M44 59.5h1"/>
<path stroke="#0097ff" d="M19 42.5h1M23 43.5h1M50 43.5h1M75 43.5h1M93 43.5h1M35 44.5h1M67 44.5h1M37 45.5h1M50 45.5h1M83 45.5h1M17 46.5h1M25 46.5h1M52 46.5h1M99 46.5h1M101 46.5h1M82 47.5h1M92 47.5h2M101 47.5h1M74 48.5h1M100 48.5h1M110 48.5h1M47 49.5h1M60 49.5h1M93 49.5h1M64 50.5h1M104 50.5h1M58 51.5h1M81 51.5h1M33 52.5h1M39 52.5h1M63 54.5h1M16 55.5h1M57 56.5h1M90 56.5h1M68 57.5h1"/>
<path stroke="#00a7ff" d="M25 41.5h1M47 41.5h1M70 42.5h1M113 42.5h1M71 43.5h1M78 43.5h1M15 44.5h1M30 44.5h1M65 44.5h1M78 44.5h1M92 44.5h1M94 44.5h1M61 45.5h1M78 46.5h1M94 47.5h1M113 48.5h1M41 49.5h1M64 49.5h1M72 49.5h1M77 49.5h1M83 49.5h1M85 49.5h1M87 49.5h1M89 49.5h1M103 49.5h1M52 50.5h1M59 50.5h1M62 50.5h1M82 50.5h1M90 50.5h1M38 51.5h1M84 51.5h1M32 52.5h1M112 52.5h1M22 53.5h1M60 53.5h1M115 53.5h1M68 54.5h1M19 55.5h1M50 55.5h1M14 56.5h1M40 57.5h1M106 58.5h1M106 63.5h1"/>
<path stroke="#00b7ff" d="M83 42.5h1M14 43.5h1M18 43.5h1M82 43.5h1M29 44.5h1M52 44.5h1M64 45.5h1M75 45.5h2M38 46.5h1M63 46.5h1M67 46.5h1M73 46.5h1M49 47.5h1M60 47.5h1M83 47.5h1M85 47.5h1M60 48.5h1M99 48.5h1M54 49.5h1M58 49.5h1M69 49.5h1M96 49.5h1M49 50.5h1M51 50.5h1M96 50.5h1M17 51.5h1M56 51.5h1M118 51.5h1M20 52.5h1M11 53.5h1M27 53.5h1M58 53.5h1M81 53.5h1M112 54.5h1M14 55.5h1M46 55.5h1M49 55.5h1M58 55.5h2M11 56.5h1M83 56.5h1M102 57.5h1M97 62.5h1"/>
<path stroke="#00c7ff" d="M27 41.5h1M52 42.5h1M109 42.5h1M27 43.5h1M51 43.5h1M65 43.5h1M72 43.5h1M50 44.5h1M108 44.5h1M46 46.5h1M80 46.5h1M90 46.5h1M22 47.5h1M40 47.5h1M48 48.5h1M54 48.5h1M78 48.5h1M90 48.5h1M45 49.5h2M61 49.5h1M84 49.5h1M107 49.5h1M38 50.5h1M58 50.5h1M107 50.5h1M119 50.5h1M74 52.5h1M16 53.5h1M25 53.5h1M46 53.5h1M111 53.5h1M90 57.5h1M67 58.5h1M33 66.5h1"/>
<path stroke="#00d7ff" d="M28 43.5h1M77 43.5h1M42 47.5h1M44 47.5h1M118 47.5h1M43 48.5h1M50 48.5h1M71 48.5h1M75 48.5h1M77 48.5h1M83 48.5h1M31 49.5h1M55 49.5h2M81 49.5h1M86 49.5h1M119 49.5h1M54 50.5h1M79 50.5h1M84 50.5h1M39 51.5h1M98 51.5h1M108 51.5h1M14 52.5h1M17 52.5h1M94 53.5h1M27 54.5h1"/>
<path stroke="#00e7ff" d="M17 42.5h1M56 43.5h1M76 43.5h1M39 45.5h1M58 45.5h1M19 46.5h1M52 47.5h1M109 47.5h1M34 48.5h1M47 48.5h1M59 48.5h1M68 48.5h1M80 48.5h1M95 48.5h1M101 48.5h1M67 49.5h1M70 49.5h1M99 49.5h1M40 50.5h1M86 50.5h1M95 50.5h1M22 51.5h1M13 54.5h1M81 55.5h1"/>
<path stroke="#00f7ff" d="M28 41.5h1M34 41.5h1M69 41.5h1M49 42.5h2M18 46.5h1M20 46.5h1M26 47.5h2M105 47.5h1M107 47.5h1M38 48.5h1M45 48.5h1M109 48.5h1M28 49.5h1M65 49.5h1M105 49.5h2M41 50.5h1M44 50.5h1M81 50.5h1M117 51.5h1M103 52.5h1M15 53.5h1M69 53.5h1M105 53.5h1M114 53.5h1"/>
<path stroke="#08fff7" d="M33 42.5h1M15 43.5h1M40 45.5h1M51 45.5h1M32 46.5h1M70 46.5h1M33 47.5h1M47 47.5h1M84 47.5h1M95 47.5h1M62 48.5h1M97 48.5h1M74 49.5h1M112 49.5h1M37 50.5h1M48 50.5h1M50 50.5h1M66 50.5h1M109 50.5h1M113 50.5h1M87 51.5h1M18 52.5h1M38 52.5h1M108 52.5h1"/>
<path stroke="#18ffe7" d="M26 41.5h1M18 42.5h1M70 43.5h1M42 44.5h1M33 45.5h1M48 45.5h2M53 45.5h1M89 48.5h1M93 48.5h1M111 48.5h1M115 48.5h1M92 49.5h1M91 50.5h1M37 51.5h1M44 51.5h1M86 51.5h1M31 52.5h1M40 52.5h1M49 53.5h1M53 53.5h1M80 53.5h1M21 55.5h1"/>
<path stroke="#28ffd7" d="M91 44.5h1M84 45.5h1M47 46.5h1M50 47.5h1M26 48.5h1M91 48.5h1M12 49.5h1M14 49.5h1M19 49.5h1M12 50.5h1M39 50.5h1M43 50.5h1M74 50.5h1M29 51.5h1M40 51.5h1M17 53.5h1M15 56.5h1"/>
<path stroke="#38ffc7" d="M11 43.5h1M16 44.5h1M85 45.5h1M13 46.5h1M16 46.5h1M65 47.5h1M112 47.5h1M112 48.5h1M116 48.5h1M119 48.5h1M42 49.5h1M90 49.5h1M94 49.5h1M109 49.5h1M111 49.5h1M36 50.5h1M57 50.5h1M35 51.5h2M45 51.5h1M62 51.5h1M30 52.5h1M19 53.5h1M104 53.5h1M30 54.5h1M48 58.5h1"/>
<path stroke="#48ffb7" d="M37 47.5h1M53 47.5h1M49 48.5h1M67 48.5h1M94 48.5h1M52 49.5h1M100 49.5h1M110 49.5h1M30 50.5h1M34 50.5h1M78 50.5h1M111 50.5h1M23 51.5h1M25 51.5h1M11 52.5h1"/>
<path stroke="#58ffa7" d="M26 45.5h2M52 45.5h1M14 46.5h1M28 46.5h1M38 47.5h1M54 47.5h1M70 48.5h1M105 48.5h1M57 49.5h1M66 49.5h1M115 49.5h1M67 50.5h1M69 50.5h1M87 50.5h1M18 51.5h1M61 51.5h1M22 52.5h1M80 52.5h1M54 53.5h1M66 55.5h1"/>
<path stroke="#68ff97" d="M43 44.5h1M14 47.5h1M43 47.5h1M15 48.5h1M53 48.5h1M58 48.5h1M64 48.5h1M37 49.5h1M53 50.5h1M11 51.5h1M34 51.5h1M63 51.5h1"/>
<path stroke="#78ff87" d="M23 47.5h1M63 47.5h1M19 48.5h1M20 49.5h1M76 49.5h1M35 50.5h1M32 51.5h1M23 52.5h1M55 52.5h1M17 54.5h1"/>
<path stroke="#87ff78" d="M36 47.5h1M51 47.5h1M98 47.5h1M72 48.5h1M15 51.5h1M28 51.5h1"/>
<path stroke="#97ff68" d="M13 45.5h1M89 47.5h1M55 48.5h1M24 49.5h1M32 49.5h1M48 49.5h1M116 49.5h1M13 50.5h1M37 52.5h1"/>
<path stroke="#a7ff58" d="M34 47.5h1M86 48.5h1"/>
<path stroke="#b7ff48" d="M16 43.5h1M31 44.5h1M28 45.5h1M36 46.5h1M28 48.5h1M88 48.5h1M15 49.5h1M21 50.5h1M29 50.5h1M19 52.5h1M45 53.5h1M111 54.5h1"/>
<path stroke="#c7ff38" d="M12 43.5h1M40 48.5h1M66 48.5h1M12 51.5h1M81 52.5h1"/>
<path stroke="#d7ff28" d="M17 48.5h1M32 48.5h1M39 49.5h1M82 49.5h1M20 51.5h1M99 52.5h1M59 53.5h1"/>
<path stroke="#e7ff18" d="M57 47.5h1M35 49.5h1M15 50.5h1M33 50.5h1M16 51.5h1M33 51.5h1M103 53.5h1"/>
<path stroke="#f7ff08" d="M14 44.5h1M25 47.5h1M27 49.5h1"/>
<path stroke="#fff700" d="M13 47.5h1M32 47.5h1M41 47.5h1M14 50.5h1"/>
<path stroke="#ffe700" d="M15 46.5h1M16 47.5h1M18 49.5h1M34 49.5h1M23 50.5h1M27 51.5h1M30 51.5h2"/>
<path stroke="#ffd700" d="M24 50.5h1M50 53.5h1"/>
<path stroke="#ffc700" d="M31 46.5h1M19 47.5h1M23 48.5h1M27 48.5h1M63 48.5h1M13 51.5h2"/>
<path stroke="#ffb700" d="M62 46.5h1M62 47.5h1M85 48.5h1M16 50.5h1M26 51.5h1"/>
<path stroke="#ffa700" d="M21 45.5h1M11 47.5h1M36 48.5h1M80 49.5h1M20 50.5h1M28 50.5h1M19 51.5h1"/>
<path stroke="#ff9700" d="M21 48.5h1M24 48.5h1M37 48.5h1M33 49.5h1M36 49.5h1M24 51.5h1"/>
<path stroke="#ff8700" d="M13 49.5h1M21 51.5h1"/>
<path stroke="#ff7800" d="M17 50.5h1"/>
<path stroke="#ff6800" d="M26 46.5h1M61 47.5h1M31 48.5h1M33 48.5h1M35 48.5h1M18 50.5h1M25 50.5h1M31 50.5h1"/>
<path stroke="#ff5800" d="M100 46.5h1M12 54.5h1"/>
<path stroke="#ff4800" d="M29 48.5h1"/>
<path stroke="#ff3800" d="M48 47.5h1M65 48.5h1M26 50.5h1"/>
<path stroke="#ff2800" d="M20 47.5h1M35 47.5h1M18 48.5h1M63 50.5h1"/>
<path stroke="#ff1800" d="M18 47.5h1M31 47.5h1M21 49.5h1"/>
<path stroke="#ff0800" d="M16 49.5h1M26 49.5h1M32 50.5h1"/>
<path stroke="#f70000" d="M19 50.5h1"/>
<path stroke="#e70000" d="M28 47.5h1M14 48.5h1M25 48.5h1M17 49.5h1"/>
<path stroke="#d70000" d="M30 47.5h1M13 48.5h1M30 49.5h1M11 50.5h1M22 50.5h1"/>
<path stroke="#c70000" d="M15 47.5h1M21 47.5h1M12 48.5h1M20 48.5h1M11 49.5h1M25 49.5h1"/>
<path stroke="#b70000" d="M11 48.5h1M16 48.5h1M27 50.5h1"/>
<path stroke="#a70000" d="M30 48.5h1M84 48.5h1M29 49.5h1"/>
<path stroke="#970000" d="M17 47.5h1M24 47.5h1M29 47.5h1M22 48.5h1M22 49.5h2"/>
<path stroke="#870000" d="M27 46.5h1M12 47.5h1M108 47.5h1"/>
</g>
<path fill="#b7ff48" stroke="none" d="M999.2 393.9h9.2v2.4h-9.2zM1054.4 393.9h9.2v2.4h-9.2zM1068.3 393.9h4.6v2.4h-4.6zM1141.9 393.9h4.6v2.4h-4.6zM1206.4 393.9h9.2v2.4h-9.2zM1266.2 393.9h4.6v2.4h-4.6zM1367.5 393.9h4.6v2.4h-4.6zM1385.9 393.9h4.6v2.4h-4.6zM1431.9 393.9h9.2v2.4h-9.2zM1519.4 393.9h9.2v2.4h-9.2zM1072.9 420.4h4.6v1.7h-4.6zM1114.3 420.4h9.2v1.7h-9.2zM1128.1 420.4h9.2v1.7h-9.2zM1137.3 420.4h9.2v1.7h-9.2zM1146.5 420.4h4.6v1.7h-4.6zM1160.3 420.4h9.2v1.7h-9.2zM1192.5 420.4h9.2v1.7h-9.2zM1201.8 420.4h4.6v1.7h-4.6zM1243.2 420.4h9.2v1.7h-9.2zM1326.0 420.4h9.2v1.7h-9.2zM1335.2 420.4h4.6v1.7h-4.6zM1450.3 420.4h4.6v1.7h-4.6zM1454.9 420.4h4.6v1.7h-4.6zM1501.0 420.4h9.2v1.7h-9.2z"/>
<path fill="#ffd700" stroke="none" d="M1008.4 393.9h9.2v2.4h-9.2zM1022.2 393.9h4.6v2.4h-4.6zM1100.5 393.9h9.2v2.4h-9.2zM1137.3 393.9h4.6v2.4h-4.6zM1257.0 393.9h9.2v2.4h-9.2zM1293.8 393.9h9.2v2.4h-9.2zM1312.2 393.9h4.6v2.4h-4.6zM1321.4 393.9h4.6v2.4h-4.6zM1344.5 393.9h4.6v2.4h-4.6zM1349.1 393.9h9.2v2.4h-9.2zM1372.1 393.9h9.2v2.4h-9.2zM1390.5 393.9h9.2v2.4h-9.2z"/>
<path fill="#0097ff" stroke="none" d="M1017.6 393.9h4.6v2.4h-4.6zM1091.3 393.9h9.2v2.4h-9.2zM1128.1 393.9h9.2v2.4h-9.2zM1197.1 393.9h9.2v2.4h-9.2zM1229.4 393.9h9.2v2.4h-9.2zM1252.4 393.9h4.6v2.4h-4.6zM1316.8 393.9h4.6v2.4h-4.6zM1468.7 393.9h9.2v2.4h-9.2zM1491.8 393.9h4.6v2.4h-4.6z"/>
<path fill="#00f7ff" stroke="none" d="M1026.8 393.9h9.2v2.4h-9.2zM1049.8 393.9h4.6v2.4h-4.6zM1072.9 393.9h9.2v2.4h-9.2zM1082.1 393.9h9.2v2.4h-9.2zM1109.7 393.9h9.2v2.4h-9.2zM1118.9 393.9h9.2v2.4h-9.2zM1146.5 393.9h9.2v2.4h-9.2zM1164.9 393.9h9.2v2.4h-9.2zM1178.7 393.9h9.2v2.4h-9.2zM1187.9 393.9h4.6v2.4h-4.6zM1192.5 393.9h4.6v2.4h-4.6zM1224.8 393.9h4.6v2.4h-4.6zM1238.6 393.9h4.6v2.4h-4.6zM1243.2 393.9h9.2v2.4h-9.2zM1270.8 393.9h4.6v2.4h-4.6zM1280.0 393.9h9.2v2.4h-9.2zM1289.2 393.9h4.6v2.4h-4.6zM1303.0 393.9h9.2v2.4h-9.2zM1326.0 393.9h9.2v2.4h-9.2zM1335.2 393.9h4.6v2.4h-4.6zM1339.8 393.9h4.6v2.4h-4.6zM1381.3 393.9h4.6v2.4h-4.6zM1399.7 393.9h4.6v2.4h-4.6zM1404.3 393.9h9.2v2.4h-9.2zM1413.5 393.9h9.2v2.4h-9.2zM1422.7 393.9h9.2v2.4h-9.2zM1445.7 393.9h4.6v2.4h-4.6zM1478.0 393.9h9.2v2.4h-9.2zM1505.6 393.9h4.6v2.4h-4.6zM1542.4 393.9h4.6v2.4h-4.6z"/>
<path fill="#48ffb7" stroke="none" d="M1036.0 393.9h4.6v2.4h-4.6zM1040.6 393.9h9.2v2.4h-9.2zM1063.7 393.9h4.6v2.4h-4.6zM1215.6 393.9h9.2v2.4h-9.2zM1275.4 393.9h4.6v2.4h-4.6zM1358.3 393.9h9.2v2.4h-9.2zM1441.1 393.9h4.6v2.4h-4.6zM1459.5 393.9h9.2v2.4h-9.2zM1510.2 393.9h9.2v2.4h-9.2zM1528.6 393.9h4.6v2.4h-4.6zM1533.2 393.9h9.2v2.4h-9.2z"/>
<path fill="#ff2800" stroke="none" d="M1155.7 393.9h9.2v2.4h-9.2zM1174.1 393.9h4.6v2.4h-4.6zM1450.3 393.9h9.2v2.4h-9.2zM1487.2 393.9h4.6v2.4h-4.6zM1496.4 393.9h9.2v2.4h-9.2zM1510.2 342.1h4.6v1.4h-4.6zM1063.7 420.4h9.2v1.7h-9.2zM1082.1 420.4h9.2v1.7h-9.2zM1211.0 420.4h4.6v1.7h-4.6zM1252.4 420.4h9.2v1.7h-9.2zM1270.8 420.4h9.2v1.7h-9.2zM1280.0 420.4h4.6v1.7h-4.6zM1321.4 420.4h4.6v1.7h-4.6zM1349.1 420.4h9.2v1.7h-9.2zM1376.7 420.4h4.6v1.7h-4.6zM1408.9 420.4h4.6v1.7h-4.6z"/>
<path fill="#0028ff" stroke="none" d="M1045.2 396.5h9.2v2.0h-9.2zM1132.7 396.5h9.2v2.0h-9.2zM1192.5 396.5h4.6v2.0h-4.6zM1284.6 396.5h4.6v2.0h-4.6zM1289.2 396.5h4.6v2.0h-4.6zM1431.9 396.5h9.2v2.0h-9.2zM1450.3 396.5h9.2v2.0h-9.2zM1528.6 396.5h4.6v2.0h-4.6zM1533.2 396.5h9.2v2.0h-9.2z"/>
<path fill="#0078ff" stroke="none" d="M1174.1 396.5h9.2v2.0h-9.2zM1238.6 396.5h9.2v2.0h-9.2zM1399.7 396.5h4.6v2.0h-4.6zM1404.3 396.5h4.6v2.0h-4.6zM1049.8 420.4h4.6v1.7h-4.6zM1183.3 420.4h9.2v1.7h-9.2zM1289.2 420.4h4.6v1.7h-4.6zM1303.0 420.4h4.6v1.7h-4.6zM1307.6 420.4h4.6v1.7h-4.6zM1339.8 420.4h4.6v1.7h-4.6zM1413.5 420.4h4.6v1.7h-4.6zM1431.9 420.4h9.2v1.7h-9.2zM1464.1 420.4h9.2v1.7h-9.2zM1478.0 420.4h4.6v1.7h-4.6zM1519.4 420.4h4.6v1.7h-4.6z"/>
<path fill="#18ffe7" stroke="none" d="M1422.7 396.5h9.2v2.0h-9.2zM1524.0 396.5h4.6v2.0h-4.6zM1418.1 315.8h4.6v1.5h-4.6zM1072.9 289.9h4.6v1.5h-4.6zM1257.0 289.9h4.6v1.5h-4.6zM1372.1 289.9h9.2v1.5h-9.2zM1441.1 289.9h4.6v1.5h-4.6zM1077.5 420.4h4.6v1.7h-4.6zM1095.9 420.4h4.6v1.7h-4.6zM1109.7 420.4h4.6v1.7h-4.6zM1215.6 420.4h4.6v1.7h-4.6zM1284.6 420.4h4.6v1.7h-4.6zM1381.3 420.4h4.6v1.7h-4.6zM1524.0 420.4h9.2v1.7h-9.2z"/>
<path fill="#0008ff" stroke="none" d="M999.2 342.2h46.0v1.3h-46.0z"/>
<path fill="#0038ff" stroke="none" d="M1045.2 342.1h13.8v1.4h-13.8zM1109.7 342.1h4.6v1.4h-4.6zM1128.1 342.1h9.2v1.4h-9.2zM1211.0 342.1h4.6v1.4h-4.6zM1215.6 342.1h9.2v1.4h-9.2zM1252.4 342.1h9.2v1.4h-9.2zM1399.7 342.1h4.6v1.4h-4.6zM1418.1 342.1h9.2v1.4h-9.2zM1445.7 342.1h9.2v1.4h-9.2zM1454.9 342.1h9.2v1.4h-9.2zM1533.2 342.1h9.2v1.4h-9.2zM1542.4 342.1h4.6v1.4h-4.6zM1054.4 315.8h4.6v1.5h-4.6zM1137.3 315.8h4.6v1.5h-4.6zM1141.9 315.8h9.2v1.5h-9.2zM1215.6 315.8h9.2v1.5h-9.2zM1261.6 315.8h9.2v1.5h-9.2zM1326.0 315.8h9.2v1.5h-9.2zM1353.7 315.8h4.6v1.5h-4.6zM1408.9 315.8h9.2v1.5h-9.2zM1422.7 315.8h9.2v1.5h-9.2zM1510.2 315.8h4.6v1.5h-4.6zM1059.0 289.9h4.6v1.5h-4.6zM1178.7 289.9h9.2v1.5h-9.2zM1224.8 289.9h4.6v1.5h-4.6zM1427.3 289.9h9.2v1.5h-9.2zM1464.1 289.9h4.6v1.5h-4.6z"/>
<path fill="#0068ff" stroke="none" d="M1059.0 342.1h9.2v1.4h-9.2zM1095.9 342.1h9.2v1.4h-9.2zM1151.1 342.1h9.2v1.4h-9.2zM1160.3 342.1h9.2v1.4h-9.2zM1169.5 342.1h4.6v1.4h-4.6zM1183.3 342.1h4.6v1.4h-4.6zM1187.9 342.1h13.8v1.4h-13.8zM1201.8 342.1h9.2v1.4h-9.2zM1224.8 342.1h13.8v1.4h-13.8zM1238.6 342.1h13.8v1.4h-13.8zM1266.2 342.1h13.8v1.4h-13.8zM1293.8 342.1h9.2v1.4h-9.2zM1303.0 342.1h4.6v1.4h-4.6zM1307.6 342.1h4.6v1.4h-4.6zM1312.2 342.1h13.8v1.4h-13.8zM1330.6 342.1h13.8v1.4h-13.8zM1344.5 342.1h9.2v1.4h-9.2zM1404.3 342.1h13.8v1.4h-13.8zM1436.5 342.1h9.2v1.4h-9.2zM1068.3 315.8h4.6v1.5h-4.6zM1164.9 315.8h9.2v1.5h-9.2zM1247.8 315.8h9.2v1.5h-9.2zM1275.4 315.8h9.2v1.5h-9.2zM1316.8 315.8h9.2v1.5h-9.2zM1362.9 315.8h4.6v1.5h-4.6zM1431.9 315.8h9.2v1.5h-9.2zM1459.5 315.8h4.6v1.5h-4.6zM1478.0 315.8h9.2v1.5h-9.2zM1533.2 315.8h9.2v1.5h-9.2zM1128.1 289.9h9.2v1.5h-9.2zM1206.4 289.9h4.6v1.5h-4.6zM1238.6 289.9h9.2v1.5h-9.2zM1261.6 289.9h4.6v1.5h-4.6zM1344.5 289.9h4.6v1.5h-4.6zM1404.3 289.9h4.6v1.5h-4.6zM1436.5 289.9h4.6v1.5h-4.6zM1468.7 289.9h9.2v1.5h-9.2zM1510.2 289.9h4.6v1.5h-4.6z"/>
<path fill="#d70000" stroke="none" d="M1068.3 342.1h4.6v1.4h-4.6zM1326.0 342.1h4.6v1.4h-4.6zM1385.9 342.1h4.6v1.4h-4.6zM1169.5 420.4h4.6v1.7h-4.6zM1174.1 420.4h9.2v1.7h-9.2zM1358.3 420.4h9.2v1.7h-9.2zM1418.1 420.4h4.6v1.7h-4.6zM1459.5 420.4h4.6v1.7h-4.6zM1473.3 420.4h4.6v1.7h-4.6zM1491.8 420.4h9.2v1.7h-9.2zM1510.2 420.4h9.2v1.7h-9.2zM1533.2 420.4h4.6v1.7h-4.6z"/>
<path fill="#0087ff" stroke="none" d="M1072.9 342.1h9.2v1.4h-9.2zM1082.1 342.1h13.8v1.4h-13.8zM1105.1 342.1h4.6v1.4h-4.6zM1174.1 342.1h9.2v1.4h-9.2zM1372.1 342.1h13.8v1.4h-13.8zM1390.5 342.1h9.2v1.4h-9.2zM1464.1 342.1h4.6v1.4h-4.6zM1478.0 342.1h9.2v1.4h-9.2zM1524.0 342.1h9.2v1.4h-9.2zM1155.7 315.8h4.6v1.5h-4.6zM1307.6 315.8h4.6v1.5h-4.6zM1335.2 315.8h4.6v1.5h-4.6zM1344.5 315.8h9.2v1.5h-9.2zM1367.5 315.8h9.2v1.5h-9.2zM1385.9 315.8h9.2v1.5h-9.2zM1464.1 315.8h9.2v1.5h-9.2zM1298.4 289.9h4.6v1.5h-4.6zM1321.4 289.9h9.2v1.5h-9.2zM1349.1 289.9h9.2v1.5h-9.2z"/>
<path fill="#00c7ff" stroke="none" d="M1045.2 315.8h4.6v1.5h-4.6zM1105.1 315.8h9.2v1.5h-9.2zM1160.3 315.8h4.6v1.5h-4.6zM1339.8 315.8h4.6v1.5h-4.6zM1376.7 315.8h9.2v1.5h-9.2zM1487.2 315.8h9.2v1.5h-9.2zM1095.9 289.9h9.2v1.5h-9.2zM1229.4 289.9h9.2v1.5h-9.2zM1252.4 289.9h4.6v1.5h-4.6zM1312.2 289.9h9.2v1.5h-9.2zM1335.2 289.9h9.2v1.5h-9.2zM1367.5 289.9h4.6v1.5h-4.6zM1445.7 289.9h4.6v1.5h-4.6zM1501.0 289.9h9.2v1.5h-9.2zM1054.4 420.4h9.2v1.7h-9.2zM1100.5 420.4h9.2v1.7h-9.2zM1151.1 420.4h9.2v1.7h-9.2zM1206.4 420.4h4.6v1.7h-4.6zM1220.2 420.4h9.2v1.7h-9.2zM1229.4 420.4h9.2v1.7h-9.2zM1261.6 420.4h9.2v1.7h-9.2zM1367.5 420.4h9.2v1.7h-9.2zM1385.9 420.4h4.6v1.7h-4.6zM1399.7 420.4h9.2v1.7h-9.2zM1422.7 420.4h9.2v1.7h-9.2zM1445.7 420.4h4.6v1.7h-4.6zM1482.6 420.4h9.2v1.7h-9.2z"/>
<path fill="#f70000" stroke="none" d="M1312.2 315.8h4.6v1.5h-4.6zM1086.7 289.9h4.6v1.5h-4.6zM1399.7 289.9h4.6v1.5h-4.6z"/>
<path fill="#e7ff18" stroke="none" d="M1505.6 315.8h4.6v1.5h-4.6zM1450.3 289.9h4.6v1.5h-4.6z"/>
</g>
<g filter="url(#soft)" shape-rendering="crispEdges" stroke-width="1" fill="none">
<g transform="translate(994.60 451.10) scale(4.6033 2.6125)">
<rect width="120" height="80" fill="#000097"/>
<path stroke="#0000a7" d="M13 18.5h5M19 18.5h1M21 18.5h2M25 18.5h1M28 18.5h1M30 18.5h1M37 18.5h2M43 18.5h1M45 18.5h1M48 18.5h2M51 18.5h3M59 18.5h2M64 18.5h1M67 18.5h1M70 18.5h2M73 18.5h7M82 18.5h6M89 18.5h1M91 18.5h1M94 18.5h1M97 18.5h1M100 18.5h1M105 18.5h2M109 18.5h2M112 18.5h4M118 18.5h1M7 19.5h1M10 19.5h1M13 19.5h8M22 19.5h1M24 19.5h4M29 19.5h1M31 19.5h2M35 19.5h8M49 19.5h2M52 19.5h1M55 19.5h2M60 19.5h8M69 19.5h2M74 19.5h1M77 19.5h3M81 19.5h1M86 19.5h8M97 19.5h1M99 19.5h3M104 19.5h2M107 19.5h1M114 19.5h1M118 19.5h2M11 20.5h2M15 20.5h2M21 20.5h4M27 20.5h1M29 20.5h1M31 20.5h2M36 20.5h6M43 20.5h1M47 20.5h1M50 20.5h1M52 20.5h2M55 20.5h3M61 20.5h2M64 20.5h1M66 20.5h1M68 20.5h1M72 20.5h2M75 20.5h1M77 20.5h3M82 20.5h4M87 20.5h2M90 20.5h2M93 20.5h1M95 20.5h3M100 20.5h2M103 20.5h2M107 20.5h2M110 20.5h2M113 20.5h1M115 20.5h3M9 21.5h8M18 21.5h4M24 21.5h1M28 21.5h3M33 21.5h1M39 21.5h1M43 21.5h1M45 21.5h1M50 21.5h2M53 21.5h1M56 21.5h1M59 21.5h2M62 21.5h4M67 21.5h2M74 21.5h1M80 21.5h3M86 21.5h1M89 21.5h3M95 21.5h6M102 21.5h2M105 21.5h1M110 21.5h1M113 21.5h1M115 21.5h2M119 21.5h1M8 22.5h1M10 22.5h4M15 22.5h1M18 22.5h1M20 22.5h3M24 22.5h1M33 22.5h1M36 22.5h2M42 22.5h1M44 22.5h1M46 22.5h1M48 22.5h4M53 22.5h2M58 22.5h1M61 22.5h1M63 22.5h1M67 22.5h3M76 22.5h1M80 22.5h1M82 22.5h3M86 22.5h2M92 22.5h1M97 22.5h1M101 22.5h6M108 22.5h1M111 22.5h3M117 22.5h1M119 22.5h1M7 23.5h1M9 23.5h1M11 23.5h3M17 23.5h2M20 23.5h6M27 23.5h1M30 23.5h3M34 23.5h1M40 23.5h1M42 23.5h1M45 23.5h1M48 23.5h2M51 23.5h2M54 23.5h1M57 23.5h1M59 23.5h1M62 23.5h2M67 23.5h2M71 23.5h4M76 23.5h2M82 23.5h1M86 23.5h1M88 23.5h1M90 23.5h1M95 23.5h1M100 23.5h1M102 23.5h4M108 23.5h1M112 23.5h2M118 23.5h2M8 24.5h3M12 24.5h1M14 24.5h1M16 24.5h2M22 24.5h1M26 24.5h4M32 24.5h2M35 24.5h1M43 24.5h4M48 24.5h2M53 24.5h1M56 24.5h1M59 24.5h3M63 24.5h3M68 24.5h2M71 24.5h1M75 24.5h2M78 24.5h1M81 24.5h1M83 24.5h2M86 24.5h3M91 24.5h2M98 24.5h1M102 24.5h1M104 24.5h1M106 24.5h2M112 24.5h1M114 24.5h1M116 24.5h2M119 24.5h1M7 25.5h2M10 25.5h1M13 25.5h4M18 25.5h3M23 25.5h1M25 25.5h3M31 25.5h1M35 25.5h4M41 25.5h1M43 25.5h3M47 25.5h4M52 25.5h2M55 25.5h1M57 25.5h1M59 25.5h1M61 25.5h1M66 25.5h2M71 25.5h1M77 25.5h2M80 25.5h1M83 25.5h4M93 25.5h1M95 25.5h3M99 25.5h4M105 25.5h1M107 25.5h1M110 25.5h2M114 25.5h1M116 25.5h1M9 26.5h1M15 26.5h3M20 26.5h2M38 26.5h1M43 26.5h3M48 26.5h3M52 26.5h1M55 26.5h1M61 26.5h2M72 26.5h2M75 26.5h6M85 26.5h2M91 26.5h1M94 26.5h1M97 26.5h2M100 26.5h1M102 26.5h2M108 26.5h2M112 26.5h2M116 26.5h4M9 27.5h1M11 27.5h1M17 27.5h1M21 27.5h1M24 27.5h1M26 27.5h1M31 27.5h1M34 27.5h3M39 27.5h1M42 27.5h1M44 27.5h4M49 27.5h2M57 27.5h1M61 27.5h1M66 27.5h1M71 27.5h2M76 27.5h1M80 27.5h1M86 27.5h4M93 27.5h2M96 27.5h2M99 27.5h2M103 27.5h8M112 27.5h4M7 28.5h2M10 28.5h1M16 28.5h1M21 28.5h4M26 28.5h1M28 28.5h2M33 28.5h2M38 28.5h2M46 28.5h2M51 28.5h5M57 28.5h1M62 28.5h3M66 28.5h2M70 28.5h3M74 28.5h1M78 28.5h2M81 28.5h1M83 28.5h1M85 28.5h1M88 28.5h3M92 28.5h5M98 28.5h1M100 28.5h1M102 28.5h1M104 28.5h3M108 28.5h3M113 28.5h1M115 28.5h3M119 28.5h1M10 29.5h2M13 29.5h1M15 29.5h1M17 29.5h3M21 29.5h1M24 29.5h3M28 29.5h1M30 29.5h1M33 29.5h2M36 29.5h1M40 29.5h1M42 29.5h4M51 29.5h1M54 29.5h1M57 29.5h1M63 29.5h2M66 29.5h1M70 29.5h2M73 29.5h2M77 29.5h1M79 29.5h1M82 29.5h1M85 29.5h7M95 29.5h2M104 29.5h1M106 29.5h2M114 29.5h1M117 29.5h2M7 30.5h4M13 30.5h1M17 30.5h1M19 30.5h1M21 30.5h4M26 30.5h1M28 30.5h2M36 30.5h1M38 30.5h13M52 30.5h1M54 30.5h2M59 30.5h1M63 30.5h3M67 30.5h1M69 30.5h5M75 30.5h1M77 30.5h3M81 30.5h1M87 30.5h1M91 30.5h2M94 30.5h3M103 30.5h1M105 30.5h3M111 30.5h1M113 30.5h3M117 30.5h3M7 31.5h1M9 31.5h1M11 31.5h1M13 31.5h1M16 31.5h1M18 31.5h4M25 31.5h3M29 31.5h4M34 31.5h3M39 31.5h2M42 31.5h2M45 31.5h1M47 31.5h1M52 31.5h1M56 31.5h3M60 31.5h1M62 31.5h4M68 31.5h1M73 31.5h3M77 31.5h4M84 31.5h1M86 31.5h2M89 31.5h6M96 31.5h6M104 31.5h1M108 31.5h1M110 31.5h3M115 31.5h2M119 31.5h1M9 32.5h2M12 32.5h2M15 32.5h1M17 32.5h1M20 32.5h10M31 32.5h1M35 32.5h1M38 32.5h1M41 32.5h2M46 32.5h1M48 32.5h2M53 32.5h1M55 32.5h2M60 32.5h2M64 32.5h4M72 32.5h4M80 32.5h1M83 32.5h1M85 32.5h1M87 32.5h2M93 32.5h1M96 32.5h1M100 32.5h2M103 32.5h1M105 32.5h1M109 32.5h1M114 32.5h2M117 32.5h1M7 33.5h2M17 33.5h1M20 33.5h3M29 33.5h1M32 33.5h5M40 33.5h2M45 33.5h2M51 33.5h1M53 33.5h1M55 33.5h3M60 33.5h2M64 33.5h3M68 33.5h1M70 33.5h2M73 33.5h5M79 33.5h2M82 33.5h1M85 33.5h1M88 33.5h1M92 33.5h1M95 33.5h2M99 33.5h1M101 33.5h2M105 33.5h1M112 33.5h1M114 33.5h1M117 33.5h2M7 34.5h1M9 34.5h5M17 34.5h1M19 34.5h2M24 34.5h1M26 34.5h2M29 34.5h2M33 34.5h5M40 34.5h1M43 34.5h2M46 34.5h1M52 34.5h2M55 34.5h1M58 34.5h1M60 34.5h1M62 34.5h3M66 34.5h1M70 34.5h1M72 34.5h1M74 34.5h1M76 34.5h1M78 34.5h3M82 34.5h5M88 34.5h3M95 34.5h1M97 34.5h1M100 34.5h1M103 34.5h1M107 34.5h2M112 34.5h8M7 35.5h2M11 35.5h3M20 35.5h1M24 35.5h1M29 35.5h2M32 35.5h1M36 35.5h1M38 35.5h1M41 35.5h2M45 35.5h2M48 35.5h4M54 35.5h1M57 35.5h2M60 35.5h1M62 35.5h2M67 35.5h2M70 35.5h1M75 35.5h2M78 35.5h1M80 35.5h1M84 35.5h2M88 35.5h1M91 35.5h1M93 35.5h1M97 35.5h1M99 35.5h1M106 35.5h1M108 35.5h3M112 35.5h3M117 35.5h2M8 36.5h3M12 36.5h1M16 36.5h1M19 36.5h1M21 36.5h2M24 36.5h4M31 36.5h3M35 36.5h4M41 36.5h2M44 36.5h1M48 36.5h1M52 36.5h2M55 36.5h1M57 36.5h2M60 36.5h1M62 36.5h3M67 36.5h1M71 36.5h2M75 36.5h1M78 36.5h3M82 36.5h2M85 36.5h2M92 36.5h1M96 36.5h1M98 36.5h1M101 36.5h3M107 36.5h2M110 36.5h1M112 36.5h2M115 36.5h3M119 36.5h1M7 37.5h2M10 37.5h1M13 37.5h1M17 37.5h4M22 37.5h2M25 37.5h1M27 37.5h1M29 37.5h2M32 37.5h5M38 37.5h1M40 37.5h4M45 37.5h2M50 37.5h3M54 37.5h3M62 37.5h2M65 37.5h1M69 37.5h1M71 37.5h1M73 37.5h2M76 37.5h1M78 37.5h1M80 37.5h1M83 37.5h1M93 37.5h2M96 37.5h2M100 37.5h1M105 37.5h2M109 37.5h4M117 37.5h3M7 38.5h1M9 38.5h3M14 38.5h2M22 38.5h1M24 38.5h2M29 38.5h4M34 38.5h1M36 38.5h7M46 38.5h1M48 38.5h3M52 38.5h1M59 38.5h5M66 38.5h1M68 38.5h3M77 38.5h2M81 38.5h4M90 38.5h3M94 38.5h7M106 38.5h1M108 38.5h2M111 38.5h1M113 38.5h1M115 38.5h1M117 38.5h2M7 39.5h1M9 39.5h2M12 39.5h2M16 39.5h2M24 39.5h1M26 39.5h1M29 39.5h1M31 39.5h2M34 39.5h1M37 39.5h1M41 39.5h1M43 39.5h2M47 39.5h1M49 39.5h2M52 39.5h1M54 39.5h1M56 39.5h1M62 39.5h2M65 39.5h2M68 39.5h2M71 39.5h3M77 39.5h1M82 39.5h2M87 39.5h3M98 39.5h1M100 39.5h1M106 39.5h4M113 39.5h2M116 39.5h4M16 69.5h1M21 69.5h1M30 69.5h1M40 69.5h1M81 69.5h1M45 70.5h1M48 70.5h1M63 70.5h1M67 70.5h1M82 70.5h1M25 71.5h1M36 71.5h1M42 71.5h1M72 71.5h1M79 71.5h1M101 71.5h1M108 71.5h1M7 72.5h1M11 72.5h1M20 72.5h1M23 72.5h2M56 72.5h1M60 72.5h4M68 72.5h1M75 72.5h1M92 72.5h1M96 72.5h1M108 72.5h1M7 73.5h1M12 73.5h1M17 73.5h1M45 73.5h1M49 73.5h1M60 73.5h1M78 73.5h1M13 74.5h1M16 74.5h1M35 74.5h1M63 74.5h1M81 74.5h2M95 74.5h1M108 74.5h1M24 75.5h1M31 75.5h1M39 75.5h1M43 75.5h1M45 75.5h2M109 75.5h2M7 76.5h1M24 76.5h1M47 76.5h2M53 76.5h1M74 76.5h3M89 76.5h1M118 76.5h1M7 77.5h1M40 77.5h1M49 77.5h1M59 77.5h1M74 77.5h1M93 77.5h1M101 77.5h1M35 78.5h1M40 78.5h1M46 78.5h1M51 78.5h1M61 78.5h1M67 78.5h1M75 78.5h1M96 78.5h1M105 78.5h1M107 78.5h1M109 78.5h1M40 79.5h1M45 79.5h1M51 79.5h1M56 79.5h1M68 79.5h1M75 79.5h1M104 79.5h1M117 79.5h2"/>
<path stroke="#0000b7" d="M7 18.5h6M18 18.5h1M20 18.5h1M23 18.5h2M26 18.5h2M29 18.5h1M31 18.5h2M34 18.5h3M39 18.5h4M44 18.5h1M47 18.5h1M50 18.5h1M54 18.5h5M61 18.5h3M65 18.5h2M68 18.5h2M72 18.5h1M80 18.5h2M90 18.5h1M92 18.5h2M96 18.5h1M98 18.5h2M101 18.5h1M103 18.5h2M107 18.5h2M111 18.5h1M117 18.5h1M119 18.5h1M8 19.5h2M11 19.5h2M21 19.5h1M23 19.5h1M28 19.5h1M30 19.5h1M33 19.5h2M43 19.5h6M53 19.5h2M57 19.5h3M68 19.5h1M71 19.5h3M75 19.5h2M80 19.5h1M83 19.5h3M94 19.5h3M98 19.5h1M102 19.5h2M106 19.5h1M108 19.5h6M115 19.5h3M7 20.5h4M13 20.5h2M17 20.5h4M25 20.5h2M28 20.5h1M30 20.5h1M33 20.5h3M42 20.5h1M44 20.5h3M48 20.5h2M51 20.5h1M54 20.5h1M58 20.5h3M63 20.5h1M65 20.5h1M67 20.5h1M69 20.5h3M74 20.5h1M80 20.5h2M86 20.5h1M89 20.5h1M92 20.5h1M94 20.5h1M98 20.5h2M102 20.5h1M105 20.5h2M109 20.5h1M112 20.5h1M114 20.5h1M118 20.5h2M7 21.5h2M17 21.5h1M22 21.5h2M25 21.5h3M31 21.5h2M34 21.5h5M40 21.5h3M44 21.5h1M46 21.5h4M52 21.5h1M54 21.5h1M57 21.5h2M61 21.5h1M66 21.5h1M70 21.5h4M75 21.5h1M78 21.5h2M83 21.5h3M87 21.5h2M92 21.5h3M101 21.5h1M104 21.5h1M106 21.5h4M111 21.5h2M114 21.5h1M117 21.5h2M7 22.5h1M9 22.5h1M14 22.5h1M16 22.5h2M19 22.5h1M23 22.5h1M25 22.5h1M27 22.5h6M34 22.5h2M38 22.5h4M43 22.5h1M45 22.5h1M47 22.5h1M55 22.5h3M59 22.5h2M62 22.5h1M64 22.5h3M70 22.5h6M77 22.5h3M81 22.5h1M85 22.5h1M88 22.5h3M93 22.5h4M98 22.5h3M107 22.5h1M109 22.5h2M114 22.5h1M116 22.5h1M118 22.5h1M8 23.5h1M10 23.5h1M14 23.5h3M19 23.5h1M26 23.5h1M28 23.5h2M33 23.5h1M35 23.5h5M41 23.5h1M43 23.5h2M46 23.5h2M50 23.5h1M55 23.5h2M58 23.5h1M61 23.5h1M64 23.5h3M69 23.5h2M75 23.5h1M78 23.5h4M83 23.5h3M87 23.5h1M89 23.5h1M91 23.5h4M96 23.5h4M101 23.5h1M106 23.5h2M109 23.5h3M114 23.5h4M7 24.5h1M13 24.5h1M15 24.5h1M18 24.5h4M23 24.5h3M30 24.5h2M34 24.5h1M36 24.5h3M40 24.5h3M50 24.5h3M54 24.5h2M57 24.5h2M66 24.5h1M70 24.5h1M72 24.5h3M77 24.5h1M79 24.5h2M82 24.5h1M85 24.5h1M89 24.5h2M93 24.5h5M99 24.5h3M103 24.5h1M105 24.5h1M108 24.5h4M113 24.5h1M115 24.5h1M118 24.5h1M9 25.5h1M11 25.5h2M17 25.5h1M21 25.5h2M24 25.5h1M28 25.5h3M32 25.5h3M40 25.5h1M42 25.5h1M46 25.5h1M51 25.5h1M54 25.5h1M56 25.5h1M60 25.5h1M62 25.5h4M68 25.5h3M72 25.5h5M79 25.5h1M81 25.5h2M87 25.5h3M92 25.5h1M94 25.5h1M98 25.5h1M103 25.5h2M106 25.5h1M108 25.5h2M112 25.5h2M115 25.5h1M117 25.5h3M7 26.5h2M10 26.5h1M12 26.5h3M18 26.5h2M22 26.5h16M39 26.5h4M46 26.5h2M51 26.5h1M53 26.5h2M56 26.5h5M63 26.5h9M74 26.5h1M81 26.5h4M87 26.5h4M92 26.5h2M95 26.5h2M101 26.5h1M104 26.5h4M110 26.5h2M115 26.5h1M7 27.5h2M10 27.5h1M12 27.5h5M18 27.5h3M22 27.5h2M25 27.5h1M27 27.5h4M33 27.5h1M37 27.5h2M40 27.5h2M43 27.5h1M48 27.5h1M51 27.5h6M58 27.5h3M63 27.5h3M67 27.5h4M73 27.5h3M77 27.5h3M81 27.5h5M91 27.5h2M95 27.5h1M98 27.5h1M101 27.5h2M111 27.5h1M116 27.5h2M119 27.5h1M9 28.5h1M11 28.5h5M17 28.5h4M25 28.5h1M27 28.5h1M30 28.5h3M35 28.5h2M40 28.5h6M48 28.5h2M56 28.5h1M58 28.5h4M65 28.5h1M68 28.5h2M73 28.5h1M75 28.5h3M80 28.5h1M82 28.5h1M84 28.5h1M86 28.5h2M91 28.5h1M97 28.5h1M99 28.5h1M101 28.5h1M103 28.5h1M107 28.5h1M111 28.5h2M114 28.5h1M118 28.5h1M7 29.5h3M12 29.5h1M14 29.5h1M16 29.5h1M20 29.5h1M22 29.5h2M27 29.5h1M29 29.5h1M31 29.5h2M35 29.5h1M38 29.5h2M41 29.5h1M46 29.5h5M52 29.5h2M55 29.5h2M58 29.5h5M65 29.5h1M67 29.5h3M72 29.5h1M75 29.5h2M78 29.5h1M80 29.5h1M83 29.5h2M92 29.5h3M97 29.5h7M105 29.5h1M108 29.5h6M115 29.5h2M119 29.5h1M11 30.5h2M14 30.5h1M18 30.5h1M25 30.5h1M27 30.5h1M30 30.5h4M35 30.5h1M37 30.5h1M57 30.5h2M60 30.5h3M66 30.5h1M68 30.5h1M74 30.5h1M76 30.5h1M82 30.5h1M84 30.5h3M88 30.5h3M97 30.5h6M104 30.5h1M108 30.5h3M8 31.5h1M10 31.5h1M12 31.5h1M14 31.5h2M17 31.5h1M22 31.5h3M28 31.5h1M33 31.5h1M37 31.5h2M41 31.5h1M44 31.5h1M46 31.5h1M48 31.5h4M53 31.5h3M59 31.5h1M61 31.5h1M67 31.5h1M69 31.5h4M76 31.5h1M81 31.5h3M88 31.5h1M95 31.5h1M102 31.5h2M105 31.5h3M109 31.5h1M113 31.5h2M117 31.5h2M7 32.5h2M11 32.5h1M14 32.5h1M16 32.5h1M18 32.5h2M30 32.5h1M32 32.5h3M36 32.5h2M40 32.5h1M43 32.5h3M47 32.5h1M50 32.5h3M54 32.5h1M58 32.5h2M62 32.5h2M68 32.5h4M76 32.5h4M81 32.5h2M84 32.5h1M86 32.5h1M89 32.5h4M94 32.5h2M97 32.5h1M99 32.5h1M102 32.5h1M104 32.5h1M106 32.5h3M110 32.5h4M116 32.5h1M118 32.5h2M9 33.5h5M15 33.5h2M18 33.5h2M23 33.5h6M30 33.5h2M37 33.5h3M42 33.5h3M47 33.5h4M52 33.5h1M54 33.5h1M58 33.5h2M62 33.5h2M67 33.5h1M69 33.5h1M72 33.5h1M78 33.5h1M81 33.5h1M83 33.5h2M86 33.5h2M89 33.5h3M93 33.5h2M97 33.5h2M100 33.5h1M103 33.5h2M107 33.5h5M113 33.5h1M115 33.5h2M119 33.5h1M8 34.5h1M14 34.5h3M18 34.5h1M21 34.5h3M25 34.5h1M28 34.5h1M31 34.5h2M38 34.5h2M41 34.5h2M45 34.5h1M47 34.5h5M54 34.5h1M57 34.5h1M59 34.5h1M61 34.5h1M65 34.5h1M67 34.5h3M71 34.5h1M73 34.5h1M75 34.5h1M77 34.5h1M81 34.5h1M87 34.5h1M91 34.5h4M98 34.5h2M101 34.5h2M104 34.5h3M109 34.5h3M9 35.5h2M14 35.5h1M16 35.5h4M21 35.5h3M25 35.5h4M31 35.5h1M33 35.5h3M37 35.5h1M39 35.5h2M43 35.5h2M47 35.5h1M52 35.5h2M55 35.5h2M59 35.5h1M61 35.5h1M64 35.5h1M66 35.5h1M69 35.5h1M71 35.5h4M77 35.5h1M79 35.5h1M81 35.5h3M86 35.5h2M89 35.5h2M92 35.5h1M94 35.5h3M98 35.5h1M100 35.5h6M107 35.5h1M111 35.5h1M115 35.5h2M119 35.5h1M7 36.5h1M11 36.5h1M15 36.5h1M17 36.5h2M20 36.5h1M23 36.5h1M28 36.5h3M34 36.5h1M39 36.5h2M45 36.5h3M49 36.5h3M54 36.5h1M56 36.5h1M59 36.5h1M61 36.5h1M65 36.5h2M68 36.5h3M73 36.5h2M76 36.5h2M81 36.5h1M84 36.5h1M87 36.5h5M93 36.5h2M97 36.5h1M99 36.5h2M104 36.5h3M109 36.5h1M111 36.5h1M114 36.5h1M118 36.5h1M9 37.5h1M11 37.5h2M14 37.5h3M21 37.5h1M24 37.5h1M26 37.5h1M28 37.5h1M31 37.5h1M37 37.5h1M39 37.5h1M44 37.5h1M47 37.5h3M53 37.5h1M57 37.5h5M64 37.5h1M66 37.5h3M70 37.5h1M72 37.5h1M75 37.5h1M77 37.5h1M79 37.5h1M81 37.5h2M84 37.5h9M95 37.5h1M98 37.5h2M101 37.5h4M107 37.5h2M113 37.5h4M8 38.5h1M12 38.5h1M16 38.5h3M20 38.5h2M23 38.5h1M26 38.5h3M33 38.5h1M35 38.5h1M43 38.5h3M47 38.5h1M51 38.5h1M53 38.5h6M64 38.5h2M67 38.5h1M71 38.5h6M79 38.5h2M85 38.5h5M93 38.5h1M101 38.5h1M103 38.5h3M107 38.5h1M110 38.5h1M112 38.5h1M114 38.5h1M116 38.5h1M119 38.5h1M8 39.5h1M11 39.5h1M14 39.5h2M18 39.5h6M27 39.5h1M30 39.5h1M33 39.5h1M35 39.5h2M38 39.5h3M42 39.5h1M45 39.5h2M48 39.5h1M51 39.5h1M53 39.5h1M55 39.5h1M57 39.5h5M64 39.5h1M67 39.5h1M70 39.5h1M74 39.5h3M78 39.5h3M84 39.5h3M90 39.5h8M99 39.5h1M101 39.5h5M110 39.5h3M115 39.5h1M8 41.5h1M43 42.5h1M13 51.5h1M30 58.5h1M83 58.5h1M57 60.5h1M112 60.5h1M76 61.5h1M81 64.5h1M55 65.5h2M63 65.5h1M104 65.5h1M36 66.5h1M109 68.5h1M10 69.5h1M13 69.5h1M20 69.5h1M24 69.5h2M28 69.5h1M32 69.5h3M38 69.5h2M41 69.5h1M43 69.5h5M49 69.5h1M56 69.5h2M59 69.5h2M63 69.5h2M66 69.5h3M72 69.5h1M75 69.5h3M80 69.5h1M84 69.5h1M88 69.5h2M91 69.5h1M93 69.5h1M95 69.5h2M99 69.5h1M104 69.5h1M106 69.5h1M109 69.5h1M116 69.5h1M118 69.5h1M8 70.5h1M11 70.5h3M16 70.5h7M24 70.5h1M27 70.5h5M33 70.5h1M35 70.5h2M38 70.5h2M41 70.5h4M46 70.5h2M49 70.5h2M53 70.5h1M55 70.5h2M58 70.5h1M62 70.5h1M71 70.5h1M73 70.5h1M75 70.5h4M80 70.5h2M85 70.5h1M88 70.5h3M93 70.5h1M96 70.5h1M99 70.5h5M107 70.5h2M110 70.5h1M116 70.5h1M118 70.5h2M7 71.5h1M9 71.5h1M15 71.5h2M20 71.5h3M24 71.5h1M27 71.5h1M30 71.5h1M33 71.5h2M39 71.5h3M43 71.5h2M47 71.5h1M50 71.5h2M54 71.5h1M56 71.5h2M59 71.5h1M62 71.5h3M66 71.5h3M71 71.5h1M73 71.5h4M80 71.5h3M84 71.5h1M88 71.5h6M95 71.5h2M99 71.5h1M103 71.5h2M109 71.5h1M113 71.5h3M118 71.5h1M16 72.5h2M19 72.5h1M25 72.5h2M28 72.5h7M38 72.5h3M44 72.5h6M52 72.5h3M59 72.5h1M66 72.5h2M72 72.5h1M76 72.5h2M79 72.5h1M81 72.5h1M86 72.5h1M88 72.5h2M93 72.5h1M99 72.5h1M103 72.5h1M105 72.5h1M109 72.5h2M113 72.5h1M115 72.5h2M118 72.5h1M9 73.5h3M13 73.5h1M16 73.5h1M18 73.5h1M20 73.5h4M25 73.5h2M29 73.5h7M37 73.5h2M40 73.5h1M42 73.5h1M46 73.5h3M53 73.5h1M56 73.5h1M59 73.5h1M61 73.5h4M68 73.5h2M73 73.5h3M80 73.5h4M92 73.5h3M96 73.5h1M99 73.5h2M104 73.5h1M106 73.5h4M114 73.5h1M116 73.5h1M118 73.5h2M7 74.5h1M9 74.5h1M17 74.5h5M27 74.5h2M30 74.5h3M36 74.5h2M39 74.5h2M42 74.5h2M46 74.5h3M53 74.5h1M56 74.5h1M59 74.5h2M62 74.5h1M65 74.5h3M70 74.5h2M74 74.5h2M79 74.5h2M84 74.5h1M86 74.5h2M90 74.5h3M94 74.5h1M98 74.5h1M101 74.5h3M107 74.5h1M114 74.5h1M119 74.5h1M7 75.5h2M11 75.5h1M13 75.5h1M16 75.5h1M18 75.5h2M21 75.5h1M23 75.5h1M25 75.5h2M30 75.5h1M32 75.5h5M40 75.5h1M42 75.5h1M44 75.5h1M48 75.5h4M53 75.5h1M57 75.5h1M60 75.5h2M63 75.5h4M68 75.5h1M71 75.5h3M75 75.5h1M77 75.5h3M83 75.5h1M85 75.5h1M87 75.5h2M90 75.5h1M92 75.5h2M96 75.5h2M99 75.5h1M101 75.5h2M104 75.5h3M108 75.5h1M115 75.5h2M119 75.5h1M9 76.5h1M11 76.5h3M16 76.5h5M26 76.5h1M29 76.5h1M31 76.5h3M35 76.5h1M39 76.5h3M44 76.5h1M49 76.5h1M52 76.5h1M56 76.5h1M61 76.5h3M67 76.5h4M72 76.5h2M77 76.5h3M81 76.5h1M83 76.5h1M87 76.5h2M90 76.5h4M96 76.5h2M104 76.5h1M108 76.5h2M111 76.5h2M115 76.5h2M12 77.5h2M15 77.5h1M21 77.5h1M24 77.5h2M28 77.5h8M44 77.5h1M46 77.5h2M50 77.5h1M53 77.5h1M56 77.5h2M60 77.5h1M62 77.5h1M64 77.5h1M67 77.5h2M75 77.5h1M77 77.5h1M79 77.5h2M82 77.5h1M84 77.5h1M86 77.5h3M90 77.5h2M95 77.5h1M97 77.5h1M102 77.5h1M104 77.5h3M108 77.5h1M112 77.5h5M118 77.5h2M8 78.5h1M12 78.5h2M20 78.5h1M23 78.5h2M29 78.5h1M32 78.5h3M36 78.5h1M41 78.5h1M43 78.5h3M48 78.5h2M53 78.5h1M57 78.5h1M60 78.5h1M63 78.5h1M68 78.5h3M72 78.5h1M74 78.5h1M76 78.5h1M82 78.5h1M84 78.5h1M88 78.5h2M93 78.5h1M97 78.5h2M110 78.5h1M113 78.5h1M118 78.5h2M10 79.5h1M12 79.5h2M18 79.5h2M21 79.5h2M24 79.5h2M27 79.5h5M33 79.5h1M35 79.5h2M39 79.5h1M46 79.5h3M50 79.5h1M52 79.5h1M62 79.5h1M64 79.5h1M72 79.5h1M74 79.5h1M77 79.5h1M80 79.5h3M84 79.5h1M86 79.5h1M89 79.5h2M93 79.5h1M102 79.5h1M105 79.5h1M107 79.5h1M113 79.5h1M115 79.5h2"/>
<path stroke="#0000c7" d="M8 40.5h1M29 40.5h1M36 40.5h1M56 40.5h1M65 40.5h1M79 40.5h1M109 40.5h1M113 40.5h1M7 41.5h1M36 42.5h2M68 42.5h1M91 42.5h2M37 52.5h2M69 54.5h1M41 56.5h1M50 56.5h1M99 56.5h1M102 56.5h1M118 56.5h1M20 57.5h1M26 57.5h1M44 57.5h1M74 57.5h1M4 58.5h1M40 58.5h1M60 58.5h2M67 58.5h1M84 58.5h1M91 58.5h1M105 58.5h1M116 58.5h1M42 59.5h1M45 59.5h1M48 59.5h1M66 59.5h1M70 59.5h2M104 59.5h2M112 59.5h1M116 59.5h1M6 60.5h1M48 60.5h1M63 60.5h5M71 60.5h1M73 60.5h2M80 60.5h1M93 60.5h1M113 60.5h1M12 61.5h1M21 61.5h2M33 61.5h2M38 61.5h1M41 61.5h1M44 61.5h2M69 61.5h2M77 61.5h3M90 61.5h1M104 61.5h1M107 61.5h1M110 61.5h2M30 62.5h1M37 62.5h4M43 62.5h1M45 62.5h1M59 62.5h1M92 62.5h2M101 62.5h1M115 62.5h2M118 62.5h1M13 63.5h1M28 63.5h1M41 63.5h2M50 63.5h2M63 63.5h1M78 63.5h1M92 63.5h1M100 63.5h1M16 64.5h2M20 64.5h1M24 64.5h4M44 64.5h5M71 64.5h1M75 64.5h1M82 64.5h3M90 64.5h1M96 64.5h1M104 64.5h1M106 64.5h2M110 64.5h2M7 65.5h1M13 65.5h3M18 65.5h1M35 65.5h1M47 65.5h1M53 65.5h2M57 65.5h3M62 65.5h1M64 65.5h2M74 65.5h2M87 65.5h2M94 65.5h1M96 65.5h1M107 65.5h1M116 65.5h1M9 66.5h1M30 66.5h1M35 66.5h1M40 66.5h2M45 66.5h1M56 66.5h1M76 66.5h2M88 66.5h1M99 66.5h1M103 66.5h1M112 66.5h2M118 66.5h2M7 67.5h1M9 67.5h2M17 67.5h1M25 67.5h1M27 67.5h1M40 67.5h2M43 67.5h2M49 67.5h1M57 67.5h1M65 67.5h1M74 67.5h1M79 67.5h1M86 67.5h1M89 67.5h1M95 67.5h1M103 67.5h2M114 67.5h1M118 67.5h1M10 68.5h1M18 68.5h1M30 68.5h1M44 68.5h2M102 68.5h1M108 68.5h1M117 68.5h3M7 69.5h3M11 69.5h2M15 69.5h1M17 69.5h3M22 69.5h2M26 69.5h1M29 69.5h1M35 69.5h3M42 69.5h1M48 69.5h1M50 69.5h4M55 69.5h1M62 69.5h1M69 69.5h2M73 69.5h2M78 69.5h2M82 69.5h2M85 69.5h1M90 69.5h1M92 69.5h1M94 69.5h1M97 69.5h2M100 69.5h4M108 69.5h1M110 69.5h2M113 69.5h2M117 69.5h1M119 69.5h1M7 70.5h1M9 70.5h1M15 70.5h1M23 70.5h1M25 70.5h2M34 70.5h1M37 70.5h1M40 70.5h1M51 70.5h2M57 70.5h1M59 70.5h3M64 70.5h2M68 70.5h1M72 70.5h1M74 70.5h1M79 70.5h1M83 70.5h2M91 70.5h2M95 70.5h1M97 70.5h2M104 70.5h2M109 70.5h1M111 70.5h1M113 70.5h3M117 70.5h1M8 71.5h1M10 71.5h5M17 71.5h3M23 71.5h1M28 71.5h2M31 71.5h2M35 71.5h1M38 71.5h1M45 71.5h2M48 71.5h2M52 71.5h1M55 71.5h1M58 71.5h1M61 71.5h1M65 71.5h1M70 71.5h1M77 71.5h2M83 71.5h1M85 71.5h3M97 71.5h1M100 71.5h1M102 71.5h1M105 71.5h3M110 71.5h1M112 71.5h1M116 71.5h1M119 71.5h1M10 72.5h1M12 72.5h2M18 72.5h1M21 72.5h1M27 72.5h1M36 72.5h1M41 72.5h3M51 72.5h1M55 72.5h1M57 72.5h1M65 72.5h1M69 72.5h1M71 72.5h1M73 72.5h2M78 72.5h1M80 72.5h1M82 72.5h3M87 72.5h1M90 72.5h2M94 72.5h2M98 72.5h1M100 72.5h3M104 72.5h1M106 72.5h2M112 72.5h1M114 72.5h1M119 72.5h1M8 73.5h1M14 73.5h2M19 73.5h1M24 73.5h1M27 73.5h2M36 73.5h1M39 73.5h1M41 73.5h1M43 73.5h1M50 73.5h3M54 73.5h2M57 73.5h1M65 73.5h3M70 73.5h3M79 73.5h1M84 73.5h6M91 73.5h1M95 73.5h1M98 73.5h1M101 73.5h3M105 73.5h1M110 73.5h2M113 73.5h1M115 73.5h1M117 73.5h1M11 74.5h2M14 74.5h2M22 74.5h5M33 74.5h2M41 74.5h1M44 74.5h2M49 74.5h1M51 74.5h2M58 74.5h1M61 74.5h1M64 74.5h1M68 74.5h2M72 74.5h2M76 74.5h3M85 74.5h1M88 74.5h1M93 74.5h1M96 74.5h1M99 74.5h2M104 74.5h3M109 74.5h2M112 74.5h2M115 74.5h2M118 74.5h1M9 75.5h1M12 75.5h1M14 75.5h2M17 75.5h1M20 75.5h1M28 75.5h2M37 75.5h1M41 75.5h1M52 75.5h1M54 75.5h3M59 75.5h1M67 75.5h1M69 75.5h1M74 75.5h1M76 75.5h1M80 75.5h3M84 75.5h1M86 75.5h1M89 75.5h1M91 75.5h1M95 75.5h1M98 75.5h1M100 75.5h1M103 75.5h1M107 75.5h1M111 75.5h1M113 75.5h2M117 75.5h2M21 76.5h3M25 76.5h1M27 76.5h2M30 76.5h1M34 76.5h1M36 76.5h1M38 76.5h1M42 76.5h2M45 76.5h2M51 76.5h1M54 76.5h2M58 76.5h3M64 76.5h1M71 76.5h1M82 76.5h1M84 76.5h3M95 76.5h1M98 76.5h6M105 76.5h1M110 76.5h1M113 76.5h2M117 76.5h1M119 76.5h1M8 77.5h4M14 77.5h1M16 77.5h5M22 77.5h2M27 77.5h1M36 77.5h1M38 77.5h2M42 77.5h2M45 77.5h1M48 77.5h1M51 77.5h2M54 77.5h2M58 77.5h1M61 77.5h1M63 77.5h1M65 77.5h2M69 77.5h5M76 77.5h1M81 77.5h1M83 77.5h1M89 77.5h1M92 77.5h1M94 77.5h1M96 77.5h1M99 77.5h2M103 77.5h1M107 77.5h1M109 77.5h3M117 77.5h1M10 78.5h2M14 78.5h3M18 78.5h2M21 78.5h2M25 78.5h4M30 78.5h2M37 78.5h3M42 78.5h1M47 78.5h1M52 78.5h1M54 78.5h2M58 78.5h2M62 78.5h1M64 78.5h1M66 78.5h1M71 78.5h1M73 78.5h1M77 78.5h5M83 78.5h1M85 78.5h2M90 78.5h3M94 78.5h2M99 78.5h1M101 78.5h3M106 78.5h1M108 78.5h1M112 78.5h1M114 78.5h4M7 79.5h1M11 79.5h1M14 79.5h4M20 79.5h1M23 79.5h1M26 79.5h1M32 79.5h1M34 79.5h1M38 79.5h1M41 79.5h4M49 79.5h1M53 79.5h2M57 79.5h2M60 79.5h2M63 79.5h1M65 79.5h1M67 79.5h1M70 79.5h2M73 79.5h1M76 79.5h1M78 79.5h2M83 79.5h1M88 79.5h1M91 79.5h2M94 79.5h7M103 79.5h1M109 79.5h3M114 79.5h1M119 79.5h1"/>
<path stroke="#0000d7" d="M33 18.5h1M88 18.5h1M95 18.5h1M116 18.5h1M51 19.5h1M82 19.5h1M76 20.5h1M55 21.5h1M76 21.5h2M26 22.5h1M52 22.5h1M60 23.5h1M62 24.5h1M91 25.5h1M99 26.5h1M62 27.5h1M37 28.5h1M81 29.5h1M15 30.5h1M56 30.5h1M83 30.5h1M112 30.5h1M39 32.5h1M98 32.5h1M14 33.5h1M65 35.5h1M13 36.5h1M102 38.5h1M28 39.5h1M18 40.5h1M30 40.5h1M50 40.5h1M57 40.5h1M62 40.5h1M66 40.5h1M87 40.5h1M106 40.5h1M114 40.5h1M119 40.5h1M23 41.5h1M36 41.5h1M57 41.5h1M83 41.5h4M112 41.5h1M42 42.5h1M44 42.5h1M56 42.5h1M64 42.5h1M69 42.5h1M89 42.5h2M47 43.5h1M50 43.5h2M87 43.5h1M20 44.5h1M54 44.5h1M83 44.5h1M96 45.5h1M21 46.5h1M113 51.5h1M26 52.5h1M68 54.5h1M97 54.5h1M42 55.5h1M66 55.5h1M114 55.5h1M40 56.5h1M49 56.5h1M103 56.5h1M115 56.5h1M119 56.5h1M27 57.5h1M30 57.5h1M112 57.5h1M9 58.5h1M24 58.5h1M31 58.5h1M34 58.5h1M39 58.5h1M52 58.5h1M71 58.5h3M81 58.5h2M92 58.5h2M103 58.5h1M117 58.5h2M5 59.5h1M12 59.5h1M20 59.5h1M22 59.5h2M25 59.5h2M29 59.5h1M36 59.5h1M44 59.5h1M49 59.5h1M52 59.5h1M55 59.5h3M73 59.5h1M80 59.5h1M85 59.5h1M94 59.5h2M111 59.5h1M2 60.5h1M11 60.5h1M13 60.5h1M16 60.5h1M31 60.5h1M36 60.5h1M45 60.5h1M50 60.5h3M56 60.5h1M62 60.5h1M69 60.5h2M79 60.5h1M84 60.5h3M91 60.5h1M94 60.5h1M102 60.5h2M3 61.5h1M9 61.5h1M11 61.5h1M26 61.5h1M30 61.5h1M32 61.5h1M35 61.5h1M40 61.5h1M49 61.5h4M63 61.5h3M75 61.5h1M89 61.5h1M96 61.5h1M108 61.5h1M115 61.5h1M7 62.5h1M12 62.5h2M16 62.5h1M25 62.5h1M28 62.5h1M31 62.5h1M51 62.5h1M61 62.5h2M75 62.5h3M87 62.5h2M94 62.5h2M99 62.5h2M105 62.5h1M113 62.5h2M117 62.5h1M12 63.5h1M14 63.5h1M19 63.5h1M22 63.5h1M29 63.5h1M31 63.5h2M44 63.5h1M48 63.5h1M57 63.5h2M61 63.5h2M64 63.5h2M77 63.5h1M86 63.5h1M101 63.5h1M105 63.5h1M113 63.5h1M115 63.5h2M9 64.5h1M11 64.5h2M23 64.5h1M33 64.5h1M37 64.5h1M41 64.5h3M51 64.5h2M55 64.5h1M63 64.5h1M67 64.5h1M70 64.5h1M74 64.5h1M78 64.5h1M91 64.5h2M95 64.5h1M100 64.5h1M105 64.5h1M8 65.5h1M20 65.5h2M24 65.5h1M26 65.5h1M28 65.5h1M34 65.5h1M38 65.5h1M41 65.5h1M46 65.5h1M60 65.5h1M70 65.5h3M83 65.5h2M92 65.5h1M95 65.5h1M97 65.5h1M102 65.5h1M105 65.5h2M14 66.5h1M23 66.5h1M27 66.5h2M31 66.5h2M37 66.5h1M39 66.5h1M43 66.5h1M46 66.5h2M52 66.5h1M57 66.5h1M78 66.5h1M89 66.5h1M91 66.5h1M106 66.5h1M117 66.5h1M8 67.5h1M16 67.5h1M32 67.5h2M35 67.5h2M45 67.5h1M51 67.5h1M61 67.5h1M64 67.5h1M66 67.5h1M69 67.5h2M72 67.5h1M76 67.5h1M88 67.5h1M90 67.5h1M101 67.5h1M107 67.5h1M115 67.5h1M11 68.5h2M26 68.5h1M31 68.5h1M39 68.5h2M49 68.5h1M51 68.5h1M65 68.5h2M72 68.5h1M76 68.5h1M89 68.5h1M91 68.5h1M105 68.5h2M110 68.5h1M116 68.5h1M14 69.5h1M27 69.5h1M54 69.5h1M58 69.5h1M65 69.5h1M86 69.5h2M112 69.5h1M10 70.5h1M54 70.5h1M66 70.5h1M70 70.5h1M86 70.5h1M94 70.5h1M106 70.5h1M112 70.5h1M26 71.5h1M37 71.5h1M69 71.5h1M94 71.5h1M98 71.5h1M111 71.5h1M117 71.5h1M8 72.5h2M14 72.5h2M22 72.5h1M37 72.5h1M50 72.5h1M58 72.5h1M70 72.5h1M111 72.5h1M117 72.5h1M58 73.5h1M97 73.5h1M112 73.5h1M8 74.5h1M10 74.5h1M50 74.5h1M57 74.5h1M83 74.5h1M97 74.5h1M111 74.5h1M117 74.5h1M22 75.5h1M27 75.5h1M94 75.5h1M112 75.5h1M8 76.5h1M15 76.5h1M37 76.5h1M50 76.5h1M57 76.5h1M65 76.5h1M94 76.5h1M26 77.5h1M37 77.5h1M85 77.5h1M98 77.5h1M50 78.5h1M65 78.5h1M100 78.5h1M111 78.5h1M8 79.5h2M55 79.5h1M66 79.5h1M69 79.5h1M85 79.5h1M87 79.5h1M106 79.5h1M112 79.5h1"/>
<path stroke="#0000e7" d="M46 18.5h1M102 18.5h1M69 21.5h1M91 22.5h1M115 22.5h1M53 23.5h1M11 24.5h1M39 24.5h1M47 24.5h1M67 24.5h1M39 25.5h1M58 25.5h1M90 25.5h1M11 26.5h1M114 26.5h1M32 27.5h1M90 27.5h1M118 27.5h1M50 28.5h1M37 29.5h1M16 30.5h1M20 30.5h1M34 30.5h1M51 30.5h1M53 30.5h1M80 30.5h1M93 30.5h1M116 30.5h1M66 31.5h1M85 31.5h1M57 32.5h1M106 33.5h1M56 34.5h1M96 34.5h1M15 35.5h1M14 36.5h1M43 36.5h1M95 36.5h1M13 38.5h1M19 38.5h1M25 39.5h1M81 39.5h1M9 40.5h1M13 40.5h1M17 40.5h1M21 40.5h1M51 40.5h1M63 40.5h1M68 40.5h3M78 40.5h1M80 40.5h1M82 40.5h2M85 40.5h2M88 40.5h2M92 40.5h2M96 40.5h1M98 40.5h1M105 40.5h1M108 40.5h1M112 40.5h1M115 40.5h1M9 41.5h1M14 41.5h1M18 41.5h1M37 41.5h1M40 41.5h1M48 41.5h1M59 41.5h1M66 41.5h1M82 41.5h1M90 41.5h1M107 41.5h2M113 41.5h1M24 42.5h1M32 42.5h1M60 42.5h1M65 42.5h1M73 42.5h1M19 43.5h1M46 43.5h1M73 43.5h2M77 43.5h1M95 43.5h1M19 44.5h1M21 44.5h1M61 44.5h1M82 44.5h1M95 44.5h1M65 45.5h1M91 45.5h1M34 46.5h1M49 46.5h2M101 46.5h1M16 47.5h1M24 47.5h1M117 51.5h1M110 52.5h1M74 53.5h1M114 53.5h1M27 55.5h1M46 55.5h1M51 55.5h1M65 55.5h1M108 55.5h1M118 55.5h1M32 56.5h1M42 56.5h1M52 56.5h1M72 56.5h2M82 56.5h1M89 56.5h1M110 56.5h1M114 56.5h1M28 57.5h2M60 57.5h1M64 57.5h1M75 57.5h1M77 57.5h1M88 57.5h1M103 57.5h1M108 57.5h1M111 57.5h1M6 58.5h1M8 58.5h1M19 58.5h1M23 58.5h1M25 58.5h2M29 58.5h1M32 58.5h1M42 58.5h1M51 58.5h1M53 58.5h1M57 58.5h1M59 58.5h1M62 58.5h1M66 58.5h1M70 58.5h1M79 58.5h1M99 58.5h1M101 58.5h1M104 58.5h1M108 58.5h2M114 58.5h2M119 58.5h1M1 59.5h1M7 59.5h1M10 59.5h1M17 59.5h1M19 59.5h1M21 59.5h1M24 59.5h1M31 59.5h1M41 59.5h1M53 59.5h1M64 59.5h1M67 59.5h1M69 59.5h1M72 59.5h1M77 59.5h1M82 59.5h1M84 59.5h1M91 59.5h1M97 59.5h1M106 59.5h1M108 59.5h2M113 59.5h1M117 59.5h1M7 60.5h1M9 60.5h1M12 60.5h1M14 60.5h1M17 60.5h1M20 60.5h1M23 60.5h2M30 60.5h1M33 60.5h2M40 60.5h1M42 60.5h1M46 60.5h2M58 60.5h1M68 60.5h1M72 60.5h1M76 60.5h1M87 60.5h1M89 60.5h2M100 60.5h2M111 60.5h1M114 60.5h1M27 61.5h3M37 61.5h1M39 61.5h1M42 61.5h2M48 61.5h1M53 61.5h1M62 61.5h1M68 61.5h1M71 61.5h1M84 61.5h1M87 61.5h1M100 61.5h1M105 61.5h2M109 61.5h1M112 61.5h1M116 61.5h1M118 61.5h1M8 62.5h2M15 62.5h1M18 62.5h3M22 62.5h1M26 62.5h1M29 62.5h1M35 62.5h2M42 62.5h1M46 62.5h4M63 62.5h1M71 62.5h1M74 62.5h1M80 62.5h2M96 62.5h1M106 62.5h1M7 63.5h1M10 63.5h1M17 63.5h2M27 63.5h1M33 63.5h1M37 63.5h1M39 63.5h1M54 63.5h1M56 63.5h1M81 63.5h3M91 63.5h1M93 63.5h1M104 63.5h1M112 63.5h1M117 63.5h1M8 64.5h1M10 64.5h1M18 64.5h2M21 64.5h1M32 64.5h1M35 64.5h1M38 64.5h1M53 64.5h1M60 64.5h1M72 64.5h1M76 64.5h1M79 64.5h1M89 64.5h1M94 64.5h1M109 64.5h1M12 65.5h1M19 65.5h1M25 65.5h1M29 65.5h1M39 65.5h2M42 65.5h1M50 65.5h1M61 65.5h1M73 65.5h1M85 65.5h1M93 65.5h1M98 65.5h1M113 65.5h3M117 65.5h1M8 66.5h1M15 66.5h1M17 66.5h1M21 66.5h1M44 66.5h1M59 66.5h1M67 66.5h1M72 66.5h2M79 66.5h1M92 66.5h2M98 66.5h1M100 66.5h1M105 66.5h1M13 67.5h1M20 67.5h1M24 67.5h1M26 67.5h1M28 67.5h1M30 67.5h2M42 67.5h1M48 67.5h1M52 67.5h2M62 67.5h1M67 67.5h1M75 67.5h1M78 67.5h1M85 67.5h1M94 67.5h1M98 67.5h3M117 67.5h1M119 67.5h1M7 68.5h3M19 68.5h1M21 68.5h1M25 68.5h1M27 68.5h1M33 68.5h1M37 68.5h2M43 68.5h1M46 68.5h1M50 68.5h1M52 68.5h1M64 68.5h1M67 68.5h1M75 68.5h1M80 68.5h1M82 68.5h4M88 68.5h1M90 68.5h1M103 68.5h2M31 69.5h1M115 69.5h1M69 70.5h1M60 71.5h1M64 72.5h1M97 72.5h1M44 73.5h1M70 75.5h1M66 76.5h1"/>
<path stroke="#0000f7" d="M7 40.5h1M22 40.5h1M35 40.5h1M38 40.5h3M52 40.5h1M60 40.5h2M64 40.5h1M67 40.5h1M75 40.5h1M95 40.5h1M110 40.5h1M11 41.5h1M13 41.5h1M15 41.5h1M17 41.5h1M19 41.5h1M27 41.5h1M47 41.5h1M50 41.5h1M58 41.5h1M61 41.5h1M67 41.5h1M71 41.5h1M75 41.5h1M80 41.5h2M89 41.5h1M91 41.5h1M95 41.5h1M98 41.5h1M105 41.5h2M38 42.5h1M57 42.5h1M66 42.5h2M100 42.5h1M111 42.5h1M18 43.5h1M98 43.5h1M105 43.5h1M117 43.5h1M12 44.5h1M29 44.5h1M60 44.5h1M62 44.5h1M89 44.5h1M114 44.5h1M55 45.5h1M92 45.5h1M102 46.5h1M14 47.5h1M12 51.5h1M44 51.5h1M55 51.5h1M17 52.5h1M41 52.5h1M70 52.5h1M118 52.5h1M11 53.5h1M17 53.5h1M36 53.5h1M73 53.5h1M93 53.5h1M113 53.5h1M116 53.5h1M17 54.5h1M38 54.5h1M62 54.5h1M98 54.5h1M113 54.5h1M34 55.5h1M43 55.5h2M94 55.5h2M97 55.5h1M107 55.5h1M113 55.5h1M115 55.5h1M14 56.5h1M17 56.5h1M22 56.5h1M43 56.5h1M45 56.5h1M51 56.5h1M69 56.5h1M74 56.5h1M81 56.5h1M86 56.5h2M98 56.5h1M100 56.5h1M111 56.5h1M116 56.5h1M19 57.5h1M21 57.5h1M31 57.5h1M36 57.5h1M43 57.5h1M45 57.5h1M52 57.5h1M54 57.5h1M73 57.5h1M81 57.5h1M86 57.5h2M110 57.5h1M113 57.5h2M10 58.5h1M27 58.5h1M43 58.5h1M48 58.5h2M64 58.5h1M68 58.5h1M106 58.5h1M112 58.5h2M11 59.5h1M13 59.5h1M15 59.5h1M28 59.5h1M37 59.5h2M43 59.5h1M46 59.5h1M61 59.5h1M65 59.5h1M79 59.5h1M87 59.5h1M103 59.5h1M8 60.5h1M15 60.5h1M21 60.5h2M44 60.5h1M77 60.5h1M81 60.5h1M92 60.5h1M105 60.5h2M119 60.5h1M13 61.5h1M36 61.5h1M47 61.5h1M54 61.5h1M56 61.5h1M72 61.5h1M80 61.5h1M83 61.5h1M91 61.5h1M101 61.5h1M103 61.5h1M17 62.5h1M27 62.5h1M33 62.5h1M41 62.5h1M44 62.5h1M58 62.5h1M70 62.5h1M85 62.5h2M89 62.5h3M102 62.5h1M108 62.5h1M110 62.5h1M119 62.5h1M9 63.5h1M15 63.5h1M23 63.5h1M30 63.5h1M34 63.5h1M38 63.5h1M49 63.5h1M55 63.5h1M60 63.5h1M67 63.5h1M74 63.5h1M85 63.5h1M87 63.5h1M90 63.5h1M99 63.5h1M102 63.5h2M106 63.5h1M108 63.5h1M119 63.5h1M29 64.5h1M34 64.5h1M36 64.5h1M39 64.5h1M49 64.5h2M54 64.5h1M59 64.5h1M64 64.5h2M80 64.5h1M85 64.5h1M97 64.5h1M103 64.5h1M115 64.5h1M118 64.5h1M16 65.5h2M27 65.5h1M33 65.5h1M36 65.5h1M43 65.5h1M66 65.5h1M69 65.5h1M76 65.5h1M103 65.5h1M111 65.5h1M119 65.5h1M10 66.5h1M13 66.5h1M19 66.5h1M26 66.5h1M29 66.5h1M51 66.5h1M62 66.5h3M68 66.5h1M81 66.5h1M95 66.5h1M97 66.5h1M110 66.5h2M116 66.5h1M23 67.5h1M39 67.5h1M50 67.5h1M58 67.5h1M60 67.5h1M73 67.5h1M77 67.5h1M80 67.5h1M87 67.5h1M96 67.5h1M102 67.5h1M105 67.5h2M108 67.5h1M113 67.5h1M14 68.5h1M17 68.5h1M23 68.5h1M34 68.5h1M48 68.5h1M53 68.5h3M60 68.5h1M74 68.5h1M77 68.5h2M92 68.5h1M100 68.5h2M107 68.5h1M111 68.5h2M71 69.5h1M105 69.5h1M87 70.5h1M53 71.5h1M76 73.5h2M90 73.5h1M29 74.5h1M54 74.5h2M10 75.5h1M38 75.5h1M47 75.5h1M10 76.5h1M14 76.5h1M80 76.5h1M106 76.5h2M41 77.5h1M9 78.5h1M17 78.5h1M56 78.5h1M87 78.5h1M37 79.5h1"/>
<path stroke="#0008ff" d="M11 40.5h1M19 40.5h1M23 40.5h1M33 40.5h1M37 40.5h1M43 40.5h1M49 40.5h1M54 40.5h2M72 40.5h1M84 40.5h1M99 40.5h1M107 40.5h1M22 41.5h1M24 41.5h1M35 41.5h1M44 41.5h1M46 41.5h1M60 41.5h1M63 41.5h1M69 41.5h1M111 41.5h1M114 41.5h1M8 42.5h1M19 42.5h1M30 42.5h1M35 42.5h1M61 42.5h2M81 42.5h1M84 42.5h1M88 42.5h1M99 42.5h1M108 42.5h1M16 43.5h2M29 43.5h3M42 43.5h1M57 43.5h1M78 43.5h1M94 43.5h1M100 43.5h1M106 43.5h1M110 43.5h1M75 44.5h1M79 44.5h1M94 44.5h1M113 44.5h1M14 46.5h1M75 46.5h1M77 46.5h1M15 47.5h1M74 47.5h1M91 47.5h1M48 51.5h2M84 51.5h1M116 51.5h1M53 52.5h1M57 52.5h1M67 52.5h1M109 52.5h1M26 53.5h1M92 53.5h1M94 53.5h1M110 53.5h1M18 54.5h1M21 54.5h1M63 54.5h1M84 54.5h1M94 54.5h2M38 55.5h1M45 55.5h1M49 55.5h1M52 55.5h1M67 55.5h1M78 55.5h1M101 55.5h1M112 55.5h1M116 55.5h1M23 56.5h3M30 56.5h2M38 56.5h1M80 56.5h1M84 56.5h1M88 56.5h1M105 56.5h1M117 56.5h1M13 57.5h1M16 57.5h1M25 57.5h1M35 57.5h1M56 57.5h2M65 57.5h1M71 57.5h1M76 57.5h1M84 57.5h1M119 57.5h1M11 58.5h1M28 58.5h1M46 58.5h1M58 58.5h1M78 58.5h1M85 58.5h1M87 58.5h2M90 58.5h1M102 58.5h1M107 58.5h1M110 58.5h1M16 59.5h1M18 59.5h1M30 59.5h1M47 59.5h1M51 59.5h1M74 59.5h1M78 59.5h1M88 59.5h1M90 59.5h1M92 59.5h1M96 59.5h1M99 59.5h2M102 59.5h1M10 60.5h1M25 60.5h1M27 60.5h1M32 60.5h1M39 60.5h1M49 60.5h1M59 60.5h1M61 60.5h1M82 60.5h1M95 60.5h2M98 60.5h1M10 61.5h1M17 61.5h2M20 61.5h1M23 61.5h1M31 61.5h1M55 61.5h1M73 61.5h1M85 61.5h2M95 61.5h1M97 61.5h1M21 62.5h1M32 62.5h1M34 62.5h1M60 62.5h1M78 62.5h1M98 62.5h1M103 62.5h2M107 62.5h1M11 63.5h1M25 63.5h1M35 63.5h2M40 63.5h1M43 63.5h1M47 63.5h1M52 63.5h1M79 63.5h1M98 63.5h1M114 63.5h1M28 64.5h1M31 64.5h1M57 64.5h1M62 64.5h1M68 64.5h1M77 64.5h1M86 64.5h1M99 64.5h1M108 64.5h1M112 64.5h1M116 64.5h1M22 65.5h2M37 65.5h1M48 65.5h1M82 65.5h1M89 65.5h1M99 65.5h1M108 65.5h1M110 65.5h1M7 66.5h1M11 66.5h1M16 66.5h1M18 66.5h1M20 66.5h1M22 66.5h1M25 66.5h1M42 66.5h1M65 66.5h1M71 66.5h1M75 66.5h1M82 66.5h2M102 66.5h1M108 66.5h2M114 66.5h1M11 67.5h1M14 67.5h1M21 67.5h1M54 67.5h1M56 67.5h1M71 67.5h1M109 67.5h2M116 67.5h1M13 68.5h1M20 68.5h1M24 68.5h1M29 68.5h1M32 68.5h1M47 68.5h1M56 68.5h1M59 68.5h1M61 68.5h1M63 68.5h1M68 68.5h1M73 68.5h1M79 68.5h1M81 68.5h1M86 68.5h1M95 68.5h3M114 68.5h1M61 69.5h1M107 69.5h1M14 70.5h1M32 70.5h1M35 72.5h1M85 72.5h1M38 74.5h1M89 74.5h1M58 75.5h1M62 75.5h1M78 77.5h1M7 78.5h1M104 78.5h1M59 79.5h1M101 79.5h1M108 79.5h1"/>
<path stroke="#0018ff" d="M14 40.5h1M16 40.5h1M28 40.5h1M31 40.5h1M45 40.5h1M77 40.5h1M111 40.5h1M29 41.5h1M41 41.5h1M43 41.5h1M51 41.5h2M56 41.5h1M70 41.5h1M99 41.5h1M20 42.5h1M23 42.5h1M31 42.5h1M41 42.5h1M50 42.5h1M74 42.5h1M93 42.5h1M112 42.5h1M114 42.5h1M8 43.5h1M26 43.5h1M56 43.5h1M59 43.5h1M79 43.5h1M91 43.5h1M10 44.5h1M58 44.5h1M70 45.5h1M86 45.5h1M22 46.5h1M46 46.5h1M100 46.5h1M103 46.5h1M73 47.5h1M43 51.5h1M118 51.5h1M20 52.5h1M105 52.5h1M32 53.5h1M47 53.5h1M102 53.5h1M57 54.5h1M96 54.5h1M13 55.5h2M17 55.5h2M28 55.5h1M39 55.5h1M50 55.5h1M75 55.5h1M102 55.5h1M117 55.5h1M119 55.5h1M34 56.5h1M39 56.5h1M78 56.5h1M101 56.5h1M107 56.5h1M109 56.5h1M9 57.5h2M39 57.5h1M46 57.5h1M83 57.5h1M102 57.5h1M106 57.5h1M109 57.5h1M118 57.5h1M14 58.5h1M35 58.5h1M41 58.5h1M63 58.5h1M76 58.5h1M33 59.5h2M58 59.5h1M63 59.5h1M68 59.5h1M81 59.5h1M93 59.5h1M98 59.5h1M118 59.5h1M26 60.5h1M28 60.5h1M35 60.5h1M37 60.5h1M41 60.5h1M43 60.5h1M55 60.5h1M75 60.5h1M88 60.5h1M117 60.5h1M46 61.5h1M61 61.5h1M93 61.5h1M102 61.5h1M119 61.5h1M11 62.5h1M23 62.5h1M50 62.5h1M52 62.5h1M66 62.5h1M73 62.5h1M79 62.5h1M66 63.5h1M70 63.5h1M73 63.5h1M76 63.5h1M88 63.5h1M107 63.5h1M109 63.5h1M118 63.5h1M13 64.5h1M22 64.5h1M30 64.5h1M40 64.5h1M56 64.5h1M73 64.5h1M101 64.5h1M117 64.5h1M119 64.5h1M11 65.5h1M30 65.5h1M32 65.5h1M51 65.5h2M78 65.5h1M80 65.5h1M86 65.5h1M118 65.5h1M24 66.5h1M34 66.5h1M48 66.5h1M60 66.5h1M69 66.5h2M80 66.5h1M87 66.5h1M90 66.5h1M107 66.5h1M18 67.5h1M84 67.5h1M91 67.5h1M97 67.5h1M41 68.5h1M57 68.5h1M87 68.5h1M99 68.5h1M115 68.5h1"/>
<path stroke="#0028ff" d="M24 40.5h1M44 40.5h1M74 40.5h1M26 41.5h1M39 41.5h1M62 41.5h1M77 41.5h1M87 41.5h1M92 41.5h2M109 41.5h1M21 42.5h1M25 42.5h1M39 42.5h1M46 42.5h1M63 42.5h1M72 42.5h1M85 42.5h1M98 42.5h1M101 42.5h1M107 42.5h1M20 43.5h1M35 43.5h1M88 43.5h1M92 43.5h1M101 43.5h1M57 44.5h1M85 44.5h1M88 44.5h1M91 44.5h1M93 44.5h1M96 44.5h1M100 44.5h1M115 44.5h1M14 45.5h1M56 45.5h1M66 45.5h1M88 45.5h1M95 45.5h1M76 46.5h1M17 47.5h1M23 47.5h1M114 51.5h1M13 52.5h1M27 52.5h1M39 52.5h1M56 52.5h1M66 52.5h1M68 52.5h1M117 52.5h1M119 52.5h1M13 53.5h1M18 53.5h1M27 53.5h1M30 53.5h1M37 53.5h2M55 53.5h1M65 53.5h1M75 53.5h1M103 53.5h1M107 53.5h1M115 53.5h1M22 54.5h1M37 54.5h1M56 54.5h1M61 54.5h1M70 54.5h1M83 54.5h1M86 54.5h1M93 54.5h1M104 54.5h1M108 54.5h2M114 54.5h1M26 55.5h1M57 55.5h1M76 55.5h1M88 55.5h1M13 56.5h1M18 56.5h1M83 56.5h1M104 56.5h1M11 57.5h1M17 57.5h2M53 57.5h1M55 57.5h1M58 57.5h1M61 57.5h1M89 57.5h1M91 57.5h1M93 57.5h1M99 57.5h3M107 57.5h1M12 58.5h1M16 58.5h1M18 58.5h1M21 58.5h1M33 58.5h1M38 58.5h1M69 58.5h1M74 58.5h1M86 58.5h1M9 59.5h1M35 59.5h1M50 59.5h1M54 59.5h1M59 59.5h1M76 59.5h1M86 59.5h1M101 59.5h1M115 59.5h1M119 59.5h1M38 60.5h1M97 60.5h1M108 60.5h2M115 60.5h1M118 60.5h1M8 61.5h1M16 61.5h1M66 61.5h1M74 61.5h1M82 61.5h1M88 61.5h1M94 61.5h1M14 62.5h1M53 62.5h1M67 62.5h1M97 62.5h1M111 62.5h1M24 63.5h1M45 63.5h1M53 63.5h1M72 63.5h1M80 63.5h1M94 63.5h1M7 64.5h1M15 64.5h1M58 64.5h1M66 64.5h1M102 64.5h1M31 65.5h1M67 65.5h1M77 65.5h1M33 66.5h1M53 66.5h1M55 66.5h1M58 66.5h1M94 66.5h1M104 66.5h1M12 67.5h1M34 67.5h1M68 67.5h1M81 67.5h1M111 67.5h1M42 68.5h1M71 68.5h1"/>
<path stroke="#0038ff" d="M34 40.5h1M42 40.5h1M46 40.5h1M58 40.5h1M71 40.5h1M102 40.5h1M116 40.5h1M118 40.5h1M21 41.5h1M65 41.5h1M74 41.5h1M88 41.5h1M94 41.5h1M104 41.5h1M119 41.5h1M7 42.5h1M27 42.5h2M45 42.5h1M48 42.5h1M55 42.5h1M87 42.5h1M96 42.5h1M7 43.5h1M10 43.5h1M13 43.5h1M27 43.5h1M45 43.5h1M48 43.5h1M64 43.5h1M86 43.5h1M111 43.5h1M116 43.5h1M22 44.5h1M24 44.5h1M84 44.5h1M90 44.5h1M97 44.5h1M99 44.5h1M13 45.5h1M34 45.5h1M93 45.5h1M20 46.5h1M43 46.5h1M61 46.5h1M83 46.5h1M45 47.5h1M19 51.5h1M91 51.5h1M18 52.5h2M21 52.5h1M40 52.5h1M12 53.5h1M33 53.5h1M51 53.5h4M64 53.5h1M95 53.5h1M119 53.5h1M11 54.5h1M23 54.5h2M35 54.5h1M49 54.5h1M90 54.5h1M41 55.5h1M55 55.5h1M60 55.5h1M64 55.5h1M77 55.5h1M99 55.5h1M8 56.5h1M33 56.5h1M62 56.5h1M106 56.5h1M12 57.5h1M23 57.5h1M48 57.5h1M51 57.5h1M62 57.5h1M78 57.5h1M80 57.5h1M20 58.5h1M75 58.5h1M94 58.5h1M96 58.5h1M98 58.5h1M8 59.5h1M27 59.5h1M40 59.5h1M107 59.5h1M110 59.5h1M114 59.5h1M19 60.5h1M99 60.5h1M104 60.5h1M14 61.5h1M25 61.5h1M57 61.5h1M60 61.5h1M81 61.5h1M99 61.5h1M54 62.5h1M68 62.5h1M83 62.5h1M8 63.5h1M20 63.5h1M75 63.5h1M89 63.5h1M69 64.5h1M93 64.5h1M114 64.5h1M9 65.5h1M68 65.5h1M90 65.5h2M61 66.5h1M96 66.5h1M101 66.5h1M22 67.5h1M29 67.5h1M63 67.5h1M28 68.5h1M35 68.5h2M62 68.5h1"/>
<path stroke="#0048ff" d="M53 40.5h1M94 40.5h1M100 41.5h1M102 41.5h2M33 42.5h1M59 42.5h1M70 42.5h1M11 43.5h2M32 43.5h1M49 43.5h1M53 43.5h1M71 43.5h1M76 43.5h1M83 43.5h1M99 43.5h1M104 43.5h1M7 44.5h1M18 44.5h1M30 44.5h1M55 44.5h2M73 44.5h2M87 44.5h1M49 45.5h1M54 45.5h1M71 45.5h1M75 45.5h2M118 45.5h1M48 46.5h1M79 47.5h1M90 47.5h1M92 47.5h1M102 47.5h1M14 51.5h1M47 51.5h1M62 51.5h1M67 51.5h1M52 52.5h1M63 52.5h1M71 52.5h1M29 53.5h1M81 53.5h1M12 54.5h1M19 54.5h1M28 54.5h1M34 54.5h1M44 54.5h2M67 54.5h1M82 54.5h1M102 54.5h1M15 55.5h1M35 55.5h1M87 55.5h1M96 55.5h1M98 55.5h1M106 55.5h1M16 56.5h1M44 56.5h1M53 56.5h1M64 56.5h1M70 56.5h1M76 56.5h1M112 56.5h1M24 57.5h1M32 57.5h1M72 57.5h1M90 57.5h1M94 57.5h1M13 58.5h1M45 58.5h1M47 58.5h1M80 58.5h1M32 59.5h1M62 59.5h1M78 60.5h1M83 60.5h1M24 61.5h1M98 61.5h1M113 61.5h2M10 62.5h1M56 62.5h1M72 62.5h1M112 62.5h1M59 63.5h1M84 63.5h1M95 63.5h1M97 63.5h1M14 64.5h1M61 64.5h1M113 64.5h1M45 65.5h1M12 66.5h1M50 66.5h1M66 66.5h1M74 66.5h1M115 66.5h1M37 67.5h1M112 67.5h1M22 68.5h1M69 68.5h1M93 68.5h2"/>
<path stroke="#0058ff" d="M10 40.5h1M15 40.5h1M20 40.5h1M32 40.5h1M47 40.5h1M59 40.5h1M76 40.5h1M97 40.5h1M10 41.5h1M12 41.5h1M34 41.5h1M42 41.5h1M49 41.5h1M53 41.5h1M78 41.5h2M96 41.5h1M117 41.5h1M12 42.5h1M17 42.5h1M86 42.5h1M115 42.5h1M33 43.5h1M37 43.5h1M52 43.5h1M67 43.5h1M82 43.5h1M107 43.5h1M11 44.5h1M53 44.5h1M80 44.5h2M116 44.5h1M7 45.5h1M97 45.5h1M107 45.5h1M119 45.5h1M33 46.5h1M47 46.5h1M70 46.5h1M72 46.5h2M84 46.5h1M20 47.5h1M25 47.5h1M53 47.5h1M113 47.5h1M119 47.5h1M17 51.5h1M20 51.5h1M68 51.5h1M83 51.5h1M14 52.5h1M16 52.5h1M29 52.5h1M20 53.5h1M25 54.5h1M73 54.5h1M25 55.5h1M71 55.5h2M93 55.5h1M105 55.5h1M111 55.5h1M11 56.5h2M15 56.5h1M29 56.5h1M48 56.5h1M61 56.5h1M65 56.5h1M68 56.5h1M75 56.5h1M90 56.5h1M95 56.5h1M49 57.5h1M67 57.5h1M82 57.5h1M85 57.5h1M104 57.5h1M115 57.5h1M55 58.5h1M65 58.5h1M100 58.5h1M60 59.5h1M53 60.5h1M107 60.5h1M116 60.5h1M59 61.5h1M92 61.5h1M24 62.5h1M55 62.5h1M82 62.5h1M16 63.5h1M21 63.5h1M110 63.5h1M88 64.5h1M98 64.5h1M81 65.5h1M109 65.5h1M112 65.5h1M38 66.5h1M49 66.5h1M86 66.5h1M19 67.5h1M46 67.5h2M93 67.5h1"/>
<path stroke="#0068ff" d="M12 40.5h1M48 40.5h1M73 40.5h1M81 40.5h1M90 40.5h1M100 40.5h2M28 41.5h1M38 41.5h1M116 41.5h1M9 42.5h2M26 42.5h1M47 42.5h1M102 42.5h1M119 42.5h1M15 43.5h1M43 43.5h1M72 43.5h1M89 43.5h1M32 44.5h1M43 44.5h1M92 44.5h1M23 45.5h1M45 45.5h1M59 45.5h1M89 45.5h1M113 45.5h1M13 46.5h1M62 46.5h1M79 46.5h1M97 46.5h1M34 47.5h1M76 47.5h1M93 47.5h1M112 51.5h1M12 52.5h1M103 52.5h1M107 52.5h1M10 53.5h1M21 53.5h2M25 53.5h1M31 53.5h1M106 53.5h1M29 54.5h1M40 54.5h1M64 54.5h1M87 54.5h1M100 54.5h1M119 54.5h1M24 55.5h1M33 55.5h1M47 55.5h1M59 55.5h1M74 55.5h1M37 56.5h1M56 56.5h1M71 56.5h1M85 56.5h1M94 56.5h1M113 56.5h1M14 57.5h1M22 57.5h1M40 57.5h1M42 57.5h1M59 57.5h1M92 57.5h1M96 57.5h1M44 58.5h1M54 58.5h1M56 58.5h1M89 58.5h1M95 58.5h1M75 59.5h1M83 59.5h1M29 60.5h1M110 60.5h1M67 61.5h1M117 61.5h1M64 62.5h1M69 62.5h1M84 62.5h1M68 63.5h1M111 63.5h1M49 65.5h1M54 66.5h1M15 68.5h2M113 68.5h1"/>
<path stroke="#0078ff" d="M20 41.5h1M33 41.5h1M45 41.5h1M64 41.5h1M97 41.5h1M16 42.5h1M58 42.5h1M82 42.5h1M25 43.5h1M36 43.5h1M75 43.5h1M97 43.5h1M102 43.5h1M76 44.5h1M102 44.5h1M112 44.5h1M21 45.5h1M25 45.5h1M29 45.5h1M38 45.5h1M57 45.5h1M81 45.5h1M83 45.5h1M90 45.5h1M101 45.5h1M71 46.5h1M93 46.5h1M96 46.5h1M49 47.5h1M81 47.5h1M89 47.5h1M117 47.5h1M10 51.5h2M31 51.5h1M36 51.5h1M42 52.5h1M58 52.5h1M65 52.5h1M83 52.5h1M104 52.5h1M28 53.5h1M84 53.5h2M36 54.5h1M92 54.5h1M112 54.5h1M19 55.5h1M22 55.5h1M37 55.5h1M82 55.5h1M109 55.5h1M19 56.5h1M26 56.5h1M35 56.5h1M77 56.5h1M33 57.5h2M63 57.5h1M95 57.5h1M116 57.5h1M22 58.5h1M36 58.5h1M50 58.5h1M39 59.5h1M89 59.5h1M18 60.5h1M65 62.5h1M109 62.5h1M46 63.5h1M87 64.5h1M44 65.5h1M85 66.5h1M15 67.5h1"/>
<path stroke="#0087ff" d="M27 40.5h1M41 40.5h1M91 40.5h1M104 40.5h1M72 41.5h2M76 41.5h1M29 42.5h1M34 42.5h1M53 42.5h1M77 42.5h1M97 42.5h1M24 43.5h1M38 43.5h1M41 43.5h1M55 43.5h1M60 43.5h1M65 43.5h1M96 43.5h1M25 44.5h1M63 44.5h1M65 44.5h1M117 44.5h1M31 45.5h1M94 45.5h1M25 46.5h1M29 46.5h1M42 46.5h1M53 46.5h1M83 47.5h1M42 51.5h1M54 51.5h1M85 51.5h1M92 51.5h1M48 52.5h1M60 52.5h1M69 52.5h1M78 52.5h1M87 52.5h1M91 52.5h1M102 52.5h1M111 52.5h1M63 53.5h1M68 53.5h1M100 53.5h1M109 53.5h1M111 53.5h1M117 53.5h2M39 54.5h1M72 54.5h1M79 54.5h1M99 54.5h1M103 54.5h1M10 55.5h1M12 55.5h1M23 55.5h1M48 55.5h1M56 55.5h1M58 55.5h1M61 55.5h1M92 55.5h1M46 56.5h1M41 57.5h1M69 57.5h1M117 57.5h1M111 58.5h1M57 62.5h1M69 63.5h1M101 65.5h1M82 67.5h2M58 68.5h1M70 68.5h1"/>
<path stroke="#0097ff" d="M26 40.5h1M117 40.5h1M16 41.5h1M30 41.5h1M49 42.5h1M113 42.5h1M9 43.5h1M58 43.5h1M84 43.5h1M113 43.5h2M13 44.5h1M33 44.5h1M38 44.5h2M45 44.5h1M67 44.5h1M78 44.5h1M105 44.5h1M118 44.5h1M12 45.5h1M16 45.5h1M85 45.5h1M99 45.5h1M11 46.5h2M35 46.5h1M45 46.5h1M92 46.5h1M113 46.5h1M75 47.5h1M78 47.5h1M9 51.5h1M18 51.5h1M22 51.5h1M93 51.5h1M36 52.5h1M61 52.5h1M64 52.5h1M88 52.5h1M92 52.5h1M108 52.5h1M16 53.5h1M60 53.5h2M82 53.5h1M112 53.5h1M50 54.5h1M52 54.5h1M91 54.5h1M111 54.5h1M31 55.5h1M53 55.5h1M81 55.5h1M90 55.5h1M7 56.5h1M20 56.5h2M58 56.5h1M93 56.5h1M96 56.5h2M108 56.5h1M15 57.5h1M50 57.5h1M98 57.5h1M17 58.5h1M14 59.5h1M26 63.5h1M10 65.5h1M92 67.5h1"/>
<path stroke="#00a7ff" d="M32 41.5h1M115 41.5h1M15 42.5h1M83 42.5h1M105 42.5h2M110 42.5h1M116 42.5h1M14 43.5h1M80 43.5h1M118 43.5h1M17 44.5h1M23 44.5h1M35 44.5h1M40 44.5h1M30 45.5h1M64 45.5h1M80 45.5h1M84 45.5h1M87 45.5h1M103 45.5h1M105 45.5h1M7 46.5h1M74 46.5h1M13 47.5h1M82 47.5h1M86 47.5h1M88 47.5h1M25 51.5h1M35 51.5h1M41 51.5h1M73 51.5h1M81 51.5h1M30 52.5h1M59 52.5h1M34 53.5h2M48 53.5h1M50 53.5h1M91 53.5h1M16 54.5h1M46 54.5h1M66 54.5h1M32 55.5h1M62 55.5h1M103 55.5h1M59 56.5h1M67 56.5h1M68 57.5h1M105 57.5h1M97 58.5h1M15 61.5h1M19 61.5h1M84 66.5h1M55 67.5h1"/>
<path stroke="#00b7ff" d="M71 42.5h1M95 42.5h1M40 43.5h1M47 44.5h1M49 44.5h1M68 44.5h1M72 44.5h1M107 44.5h1M17 45.5h1M20 45.5h1M15 46.5h2M24 46.5h1M31 46.5h1M44 46.5h1M12 47.5h1M28 47.5h1M41 47.5h1M52 47.5h1M77 47.5h1M80 47.5h1M115 47.5h1M16 51.5h1M26 51.5h1M56 51.5h1M78 51.5h1M25 52.5h1M90 52.5h1M116 52.5h1M49 53.5h1M59 53.5h1M26 54.5h1M43 54.5h1M68 55.5h1M79 55.5h1M89 55.5h1M100 55.5h1M79 56.5h1M37 57.5h1M47 57.5h1M70 57.5h1M7 58.5h1M60 60.5h1M58 61.5h1M79 65.5h1M59 67.5h1M98 68.5h1"/>
<path stroke="#00c7ff" d="M25 40.5h1M25 41.5h1M55 41.5h1M68 41.5h1M51 42.5h1M54 42.5h1M109 42.5h1M68 43.5h1M90 43.5h1M59 44.5h1M70 44.5h2M109 44.5h1M115 45.5h1M51 46.5h1M78 46.5h1M89 46.5h1M21 47.5h1M46 47.5h1M84 47.5h1M37 51.5h1M39 51.5h1M61 51.5h1M76 51.5h1M97 51.5h1M115 51.5h1M7 52.5h2M50 52.5h1M77 52.5h1M82 52.5h1M85 52.5h1M106 52.5h1M46 53.5h1M20 54.5h1M85 54.5h1M89 54.5h1M115 54.5h1M118 54.5h1M83 55.5h1M104 55.5h1M92 56.5h1M79 57.5h1M15 58.5h1M71 63.5h1M38 67.5h1"/>
<path stroke="#00d7ff" d="M22 42.5h1M103 42.5h1M22 43.5h1M34 43.5h1M44 43.5h1M108 43.5h1M42 44.5h1M46 44.5h1M43 45.5h1M53 45.5h1M60 45.5h1M9 46.5h1M63 46.5h1M99 46.5h1M114 46.5h1M48 47.5h1M72 47.5h1M112 47.5h1M57 51.5h1M80 51.5h1M90 51.5h1M86 52.5h1M114 52.5h1M98 53.5h1M101 53.5h1M104 53.5h1M29 55.5h1M110 55.5h1M91 56.5h1M38 57.5h1"/>
<path stroke="#00e7ff" d="M103 40.5h1M31 41.5h1M94 42.5h1M28 43.5h1M54 43.5h1M63 43.5h1M41 44.5h1M108 44.5h1M44 45.5h1M51 45.5h1M104 45.5h1M111 45.5h1M117 45.5h1M55 46.5h1M86 46.5h1M90 46.5h1M42 47.5h1M60 47.5h1M87 47.5h1M103 47.5h1M109 47.5h1M52 51.5h1M63 51.5h1M15 53.5h1M13 54.5h1M41 54.5h1M74 54.5h1M80 54.5h1M110 54.5h1M20 55.5h1M73 55.5h1M80 55.5h1M84 55.5h1M36 56.5h1M66 57.5h1M77 58.5h1M54 60.5h1M96 63.5h1"/>
<path stroke="#00f7ff" d="M18 42.5h1M80 42.5h1M69 43.5h1M109 43.5h1M115 43.5h1M28 44.5h1M48 44.5h1M86 44.5h1M15 45.5h1M24 45.5h1M52 45.5h1M72 45.5h2M77 45.5h1M100 45.5h1M112 45.5h1M28 46.5h1M30 46.5h1M38 46.5h1M119 46.5h1M11 47.5h1M38 47.5h1M45 51.5h1M109 51.5h1M98 52.5h1M113 52.5h1M23 53.5h1M58 53.5h1M90 53.5h1M7 54.5h1M16 55.5h1M70 55.5h1M55 56.5h1M7 57.5h1M37 58.5h1"/>
<path stroke="#08fff7" d="M14 44.5h1M16 44.5h1M79 45.5h1M109 45.5h1M39 46.5h1M108 47.5h1M7 51.5h1M50 51.5h1M105 51.5h1M62 52.5h1M56 53.5h1M69 53.5h1M72 53.5h1M8 54.5h1M48 54.5h1M30 55.5h1M9 56.5h1M54 56.5h1"/>
<path stroke="#18ffe7" d="M110 41.5h1M40 42.5h1M21 43.5h1M39 43.5h1M61 43.5h1M66 43.5h1M103 44.5h1M106 44.5h1M22 45.5h1M28 45.5h1M48 45.5h1M108 45.5h1M26 46.5h1M32 51.5h1M95 51.5h1M99 51.5h1M119 51.5h1M15 52.5h1M22 52.5h1M47 52.5h1M75 52.5h1M79 52.5h1M19 53.5h1M44 53.5h1M55 54.5h1M36 55.5h1M54 55.5h1M63 55.5h1M66 56.5h1M7 61.5h1M100 65.5h1"/>
<path stroke="#28ffd7" d="M14 42.5h1M103 43.5h1M9 44.5h1M36 44.5h1M39 45.5h3M58 45.5h1M102 45.5h1M8 46.5h1M56 46.5h1M81 46.5h2M37 47.5h1M57 47.5h1M58 51.5h1M74 51.5h1M79 51.5h1M73 52.5h1M39 53.5h1M62 53.5h1M89 53.5h1M99 53.5h1M27 54.5h1M32 54.5h1M51 54.5h1M76 54.5h1M105 54.5h1"/>
<path stroke="#38ffc7" d="M54 41.5h1M78 42.5h1M70 43.5h1M93 43.5h1M110 44.5h1M11 45.5h1M10 46.5h1M32 46.5h1M68 47.5h1M34 51.5h1M40 51.5h1M51 51.5h1M75 51.5h1M96 52.5h1M115 52.5h1M7 53.5h2M79 53.5h1M31 54.5h1M40 55.5h1M47 56.5h1M57 56.5h1"/>
<path stroke="#48ffb7" d="M13 42.5h1M117 42.5h1M44 44.5h1M10 45.5h1M33 45.5h1M35 45.5h1M82 45.5h1M110 45.5h1M23 46.5h1M19 47.5h1M35 47.5h1M23 51.5h1M54 52.5h1M41 53.5h1M66 53.5h1M9 54.5h1M14 54.5h1M58 54.5h1M81 54.5h1M7 55.5h1M85 55.5h1"/>
<path stroke="#58ffa7" d="M101 41.5h1M11 42.5h1M76 42.5h1M85 43.5h1M119 43.5h1M15 44.5h1M66 44.5h1M69 44.5h1M8 45.5h1M69 45.5h1M106 45.5h1M60 46.5h1M69 46.5h1M95 46.5h1M9 47.5h1M29 47.5h1M66 47.5h1M21 51.5h1M27 51.5h1M66 51.5h1M72 51.5h1M82 51.5h1M9 52.5h1M95 52.5h1M88 53.5h1M97 53.5h1M101 54.5h1M63 56.5h1M8 57.5h1M97 57.5h1"/>
<path stroke="#68ff97" d="M52 42.5h1M77 44.5h1M50 45.5h1M98 46.5h1M104 46.5h1M10 47.5h1M22 47.5h1M59 47.5h1M118 47.5h1M69 51.5h1M28 52.5h1M84 52.5h1M77 53.5h1M108 53.5h1M42 54.5h1M59 54.5h1"/>
<path stroke="#78ff87" d="M118 41.5h1M104 42.5h1M27 44.5h1M37 45.5h1M47 45.5h1M66 46.5h1M97 47.5h1M77 51.5h1M86 51.5h1M94 52.5h1M97 52.5h1M99 52.5h1M14 53.5h1M42 53.5h1M78 53.5h1M60 54.5h1M71 54.5h1M107 54.5h1M10 56.5h1"/>
<path stroke="#87ff78" d="M75 42.5h1M112 43.5h1M26 44.5h1M101 44.5h1M74 45.5h1M54 46.5h1M85 46.5h1M32 47.5h1M67 47.5h1M71 47.5h1M55 52.5h1M24 53.5h1M96 53.5h1M105 53.5h1M75 54.5h1M78 54.5h1M8 55.5h1M60 56.5h1"/>
<path stroke="#97ff68" d="M8 44.5h1M119 44.5h1M52 46.5h1M64 46.5h1M80 46.5h1M7 47.5h1M58 47.5h1M116 47.5h1M11 52.5h1M93 52.5h1"/>
<path stroke="#a7ff58" d="M98 44.5h1M46 45.5h1M17 46.5h1M33 47.5h1M94 47.5h1M8 51.5h1M28 51.5h1M46 51.5h1M107 51.5h1M74 52.5h1M45 53.5h1M33 54.5h1"/>
<path stroke="#b7ff48" d="M81 43.5h1M64 44.5h1M115 46.5h1M18 47.5h1M31 47.5h1M51 47.5h1M101 47.5h1M59 51.5h1M98 51.5h1M72 52.5h1M10 54.5h1M53 54.5h1M9 55.5h1M11 55.5h1"/>
<path stroke="#c7ff38" d="M36 45.5h1M114 45.5h1M116 45.5h1M65 46.5h1M109 46.5h1M29 51.5h1M38 51.5h1M87 51.5h1M101 51.5h1M33 52.5h1M67 53.5h1M88 54.5h1M91 55.5h1M28 56.5h1"/>
<path stroke="#d7ff28" d="M79 42.5h1M62 43.5h1M9 45.5h1M26 45.5h1M63 45.5h1M98 45.5h1M118 46.5h1M88 51.5h1M108 51.5h1M31 52.5h1M43 53.5h1M70 53.5h1M76 53.5h1M86 53.5h1M65 54.5h1M21 55.5h1"/>
<path stroke="#e7ff18" d="M23 43.5h1M67 45.5h1M117 46.5h1M96 47.5h1M114 47.5h1M43 52.5h1M77 54.5h1"/>
<path stroke="#f7ff08" d="M19 46.5h1M44 47.5h1M70 47.5h1M34 48.5h1M50 49.5h1M106 51.5h1M32 52.5h1M80 52.5h1M80 53.5h1M117 54.5h1M27 56.5h1"/>
<path stroke="#fff700" d="M31 44.5h1M62 45.5h1M18 46.5h1M105 46.5h1M110 46.5h1M65 47.5h1M117 48.5h1M24 49.5h1M68 49.5h1M75 49.5h1M64 50.5h1M83 50.5h1M10 52.5h1M49 52.5h1M54 54.5h1"/>
<path stroke="#ffe700" d="M27 45.5h1M87 46.5h1M54 47.5h1M30 48.5h1M89 49.5h1M26 50.5h1M41 50.5h1M68 50.5h1M75 50.5h1M115 50.5h1M60 51.5h1M51 52.5h1M101 52.5h1M30 54.5h1"/>
<path stroke="#ffd700" d="M36 47.5h1M28 48.5h1M54 48.5h1M63 48.5h1M15 50.5h1M30 50.5h1M93 50.5h1M71 51.5h1M9 53.5h1M83 53.5h1"/>
<path stroke="#ffc700" d="M57 46.5h1M88 46.5h1M26 47.5h1M64 47.5h1M11 48.5h1M109 48.5h1M32 49.5h1M71 49.5h1M112 49.5h1M39 50.5h1M30 51.5h1M94 51.5h1M111 51.5h1M81 52.5h1"/>
<path stroke="#ffb700" d="M104 44.5h1M47 47.5h1M57 48.5h1M90 48.5h1M76 49.5h1M35 50.5h1M43 50.5h1M85 50.5h1M91 50.5h1M108 50.5h1M15 51.5h1M70 51.5h1M96 51.5h1M34 52.5h1M76 52.5h1"/>
<path stroke="#ffa700" d="M32 45.5h1M68 45.5h1M61 47.5h1M19 48.5h1M33 48.5h1M43 48.5h1M58 48.5h1M89 48.5h1M19 49.5h1M58 49.5h1M100 49.5h1M86 55.5h1"/>
<path stroke="#ff9700" d="M118 42.5h1M40 46.5h1M91 46.5h1M40 47.5h1M99 47.5h1M10 48.5h1M21 48.5h1M73 48.5h1M76 48.5h1M84 48.5h1M112 48.5h1M12 49.5h1M48 49.5h1M67 49.5h1M96 49.5h1M108 49.5h1M67 50.5h1M89 50.5h1M97 50.5h1M106 50.5h1"/>
<path stroke="#ff8700" d="M50 44.5h3M78 45.5h1M58 46.5h1M69 47.5h1M23 48.5h1M36 48.5h1M99 48.5h1M7 49.5h1M18 49.5h1M31 49.5h1M78 49.5h1M83 49.5h1M114 49.5h1M10 50.5h1M32 50.5h1M110 51.5h1M40 53.5h1"/>
<path stroke="#ff7800" d="M18 45.5h1M27 46.5h1M48 48.5h1M61 48.5h1M14 49.5h1M72 49.5h1M103 49.5h1M111 49.5h1M48 50.5h1M52 50.5h1M54 50.5h1M104 51.5h1"/>
<path stroke="#ff6800" d="M111 44.5h1M50 47.5h1M31 48.5h1M37 48.5h1M56 48.5h1M69 48.5h1M102 48.5h1M13 49.5h1M42 49.5h1M44 49.5h1M63 49.5h1M57 50.5h1M63 50.5h1M111 50.5h1M117 50.5h2M33 51.5h1M89 52.5h1M47 54.5h1M106 54.5h1"/>
<path stroke="#ff5800" d="M94 46.5h1M112 46.5h1M27 47.5h1M50 48.5h1M93 48.5h1M103 48.5h1M110 48.5h1M28 49.5h1M39 49.5h1M84 49.5h1M88 49.5h1M92 49.5h1M12 50.5h1M22 50.5h2M40 50.5h1M44 50.5h1M50 50.5h1M72 50.5h1M23 52.5h1M112 52.5h1"/>
<path stroke="#ff4800" d="M34 44.5h1M116 46.5h1M85 47.5h1M15 48.5h2M52 48.5h1M53 49.5h1M94 49.5h1M11 50.5h1M78 50.5h1M119 50.5h1"/>
<path stroke="#ff3800" d="M107 46.5h1M42 48.5h1M60 48.5h1M95 48.5h1M119 48.5h1M30 49.5h1M51 49.5h1M55 49.5h1M66 49.5h1M102 49.5h1M18 50.5h1M74 50.5h1M88 50.5h1M94 50.5h1M100 50.5h1M112 50.5h1M24 51.5h1M24 52.5h1"/>
<path stroke="#ff2800" d="M42 45.5h1M30 47.5h1M104 47.5h1M38 48.5h1M49 48.5h1M68 48.5h1M77 48.5h1M91 48.5h1M94 48.5h1M107 48.5h1M57 49.5h1M86 49.5h1M101 50.5h1M116 50.5h1"/>
<path stroke="#ff1800" d="M44 48.5h1M53 48.5h1M79 48.5h1M118 48.5h1M8 49.5h1M26 49.5h1M37 49.5h1M110 49.5h1M14 50.5h1M20 50.5h1M36 50.5h1M53 50.5h1M56 50.5h1M59 50.5h1M61 50.5h1M81 50.5h1M99 50.5h1M107 50.5h1"/>
<path stroke="#ff0800" d="M8 48.5h1M13 48.5h1M18 48.5h1M32 48.5h1M51 48.5h1M59 48.5h1M66 48.5h1M27 49.5h1M34 49.5h1M45 49.5h1M59 49.5h1M65 49.5h1M73 49.5h1M90 49.5h1M95 49.5h1M70 50.5h1M15 54.5h1"/>
<path stroke="#f70000" d="M41 48.5h1M71 48.5h1M74 48.5h1M81 48.5h1M88 48.5h1M106 48.5h1M114 48.5h2M29 49.5h1M33 49.5h1M35 49.5h1M46 49.5h1M54 49.5h1M74 49.5h1M85 49.5h1M105 49.5h2M117 49.5h1M29 50.5h1M87 50.5h1M102 50.5h1M104 50.5h1M53 51.5h1"/>
<path stroke="#e70000" d="M17 48.5h1M20 48.5h1M39 48.5h1M75 48.5h1M78 48.5h1M92 48.5h1M98 48.5h1M104 48.5h1M108 48.5h1M47 49.5h1M49 49.5h1M70 49.5h1M79 49.5h1M97 49.5h1M118 49.5h1M9 50.5h1M34 50.5h1M38 50.5h1M45 50.5h1M47 50.5h1M71 50.5h1M76 50.5h1M110 50.5h1"/>
<path stroke="#d70000" d="M37 44.5h1M111 47.5h1M86 48.5h1M96 48.5h1M9 49.5h1M16 49.5h1M36 49.5h1M41 49.5h1M61 49.5h1M81 49.5h1M93 49.5h1M21 50.5h1M55 50.5h1M66 50.5h1M90 50.5h1M95 50.5h1M113 50.5h1"/>
<path stroke="#c70000" d="M107 47.5h1M46 48.5h1M116 48.5h1M77 49.5h1M87 49.5h1M13 50.5h1M24 50.5h2M42 50.5h1M73 50.5h1M84 50.5h1M109 50.5h1"/>
<path stroke="#b70000" d="M43 47.5h1M24 48.5h2M29 48.5h1M62 48.5h1M80 48.5h1M85 48.5h1M87 48.5h1M101 48.5h1M105 48.5h1M111 48.5h1M11 49.5h1M20 49.5h2M23 49.5h1M40 49.5h1M82 49.5h1M19 50.5h1M51 50.5h1M65 50.5h1M69 50.5h1M79 50.5h1M86 50.5h1M92 50.5h1M98 50.5h1M114 50.5h1"/>
<path stroke="#a70000" d="M9 48.5h1M12 48.5h1M45 48.5h1M55 48.5h1M64 48.5h1M70 48.5h1M97 48.5h1M113 48.5h1M10 49.5h1M17 49.5h1M38 49.5h1M56 49.5h1M60 49.5h1M107 49.5h1M109 49.5h1M115 49.5h2M119 49.5h1M7 50.5h1M31 50.5h1M46 50.5h1M82 50.5h1"/>
<path stroke="#970000" d="M7 48.5h1M22 48.5h1M27 48.5h1M72 48.5h1M82 48.5h1M100 48.5h1M15 49.5h1M22 49.5h1M62 49.5h1M64 49.5h1M91 49.5h1M98 49.5h1M28 50.5h1M37 50.5h1M58 50.5h1M105 50.5h1"/>
<path stroke="#870000" d="M19 45.5h1M61 45.5h1M36 46.5h2M41 46.5h1M59 46.5h1M67 46.5h2M106 46.5h1M108 46.5h1M111 46.5h1M8 47.5h1M39 47.5h1M55 47.5h2M62 47.5h2M95 47.5h1M98 47.5h1M100 47.5h1M105 47.5h2M110 47.5h1M14 48.5h1M26 48.5h1M35 48.5h1M40 48.5h1M47 48.5h1M65 48.5h1M67 48.5h1M83 48.5h1M25 49.5h1M43 49.5h1M52 49.5h1M69 49.5h1M80 49.5h1M99 49.5h1M101 49.5h1M104 49.5h1M113 49.5h1M8 50.5h1M16 50.5h2M27 50.5h1M33 50.5h1M49 50.5h1M60 50.5h1M62 50.5h1M77 50.5h1M80 50.5h1M96 50.5h1M103 50.5h1M64 51.5h2M89 51.5h1M100 51.5h1M102 51.5h2M35 52.5h1M44 52.5h3M100 52.5h1M57 53.5h1M71 53.5h1M87 53.5h1M116 54.5h1M69 55.5h1"/>
</g>
<path fill="#18ffe7" stroke="none" d="M999.2 606.9h9.2v2.4h-9.2zM1008.4 606.9h9.2v2.4h-9.2zM1036.0 606.9h9.2v2.4h-9.2zM1045.2 606.9h9.2v2.4h-9.2zM1137.3 606.9h4.6v2.4h-4.6zM1146.5 606.9h9.2v2.4h-9.2zM1178.7 606.9h4.6v2.4h-4.6zM1201.8 606.9h4.6v2.4h-4.6zM1206.4 606.9h4.6v2.4h-4.6zM1234.0 606.9h9.2v2.4h-9.2zM1243.2 606.9h9.2v2.4h-9.2zM1252.4 606.9h9.2v2.4h-9.2zM1261.6 606.9h4.6v2.4h-4.6zM1303.0 606.9h9.2v2.4h-9.2zM1316.8 606.9h9.2v2.4h-9.2zM1326.0 606.9h9.2v2.4h-9.2zM1335.2 606.9h9.2v2.4h-9.2zM1454.9 606.9h9.2v2.4h-9.2zM1478.0 606.9h4.6v2.4h-4.6zM1501.0 606.9h9.2v2.4h-9.2zM1519.4 606.9h9.2v2.4h-9.2zM1026.8 609.5h4.6v2.0h-4.6zM1109.7 609.5h9.2v2.0h-9.2zM1151.1 609.5h4.6v2.0h-4.6zM1385.9 609.5h4.6v2.0h-4.6zM1468.7 609.5h9.2v2.0h-9.2zM1496.4 609.5h9.2v2.0h-9.2zM1059.0 528.5h9.2v1.6h-9.2zM1082.1 528.5h9.2v1.6h-9.2zM1114.3 528.5h9.2v1.6h-9.2zM1183.3 528.5h9.2v1.6h-9.2zM1201.8 528.5h9.2v1.6h-9.2zM1307.6 528.5h9.2v1.6h-9.2zM1528.6 528.5h4.6v1.6h-4.6zM1542.4 528.5h4.6v1.6h-4.6zM1369.8 502.0h9.2v1.6h-9.2zM1443.4 502.0h4.6v1.6h-4.6z"/>
<path fill="#e7ff18" stroke="none" d="M1017.6 606.9h9.2v2.4h-9.2zM1063.7 606.9h9.2v2.4h-9.2zM1072.9 606.9h4.6v2.4h-4.6zM1105.1 606.9h4.6v2.4h-4.6zM1109.7 606.9h4.6v2.4h-4.6zM1114.3 606.9h9.2v2.4h-9.2zM1123.5 606.9h4.6v2.4h-4.6zM1155.7 606.9h4.6v2.4h-4.6zM1169.5 606.9h4.6v2.4h-4.6zM1174.1 606.9h4.6v2.4h-4.6zM1183.3 606.9h4.6v2.4h-4.6zM1358.3 606.9h4.6v2.4h-4.6zM1385.9 606.9h4.6v2.4h-4.6zM1390.5 606.9h4.6v2.4h-4.6zM1422.7 606.9h4.6v2.4h-4.6zM1445.7 606.9h4.6v2.4h-4.6zM1473.3 606.9h4.6v2.4h-4.6zM1537.8 606.9h9.2v2.4h-9.2zM1164.9 609.5h9.2v2.0h-9.2zM1178.7 609.5h4.6v2.0h-4.6zM1211.0 609.5h9.2v2.0h-9.2zM1252.4 609.5h9.2v2.0h-9.2zM1339.8 609.5h4.6v2.0h-4.6zM1372.1 609.5h4.6v2.0h-4.6zM1376.7 609.5h9.2v2.0h-9.2zM1413.5 609.5h4.6v2.0h-4.6zM1436.5 609.5h4.6v2.0h-4.6zM1231.7 502.0h9.2v1.6h-9.2zM1448.0 502.0h9.2v1.6h-9.2z"/>
<path fill="#ff9700" stroke="none" d="M1026.8 606.9h9.2v2.4h-9.2zM1054.4 606.9h9.2v2.4h-9.2zM1086.7 606.9h4.6v2.4h-4.6zM1141.9 606.9h4.6v2.4h-4.6zM1187.9 606.9h9.2v2.4h-9.2zM1211.0 606.9h4.6v2.4h-4.6zM1270.8 606.9h4.6v2.4h-4.6zM1436.5 606.9h9.2v2.4h-9.2z"/>
<path fill="#00c7ff" stroke="none" d="M1077.5 606.9h9.2v2.4h-9.2zM1095.9 606.9h9.2v2.4h-9.2zM1128.1 606.9h9.2v2.4h-9.2zM1160.3 606.9h4.6v2.4h-4.6zM1215.6 606.9h9.2v2.4h-9.2zM1266.2 606.9h4.6v2.4h-4.6zM1275.4 606.9h9.2v2.4h-9.2zM1293.8 606.9h4.6v2.4h-4.6zM1298.4 606.9h4.6v2.4h-4.6zM1312.2 606.9h4.6v2.4h-4.6zM1362.9 606.9h4.6v2.4h-4.6zM1367.5 606.9h9.2v2.4h-9.2zM1376.7 606.9h9.2v2.4h-9.2zM1395.1 606.9h4.6v2.4h-4.6zM1399.7 606.9h9.2v2.4h-9.2zM1413.5 606.9h9.2v2.4h-9.2zM1450.3 606.9h4.6v2.4h-4.6zM1491.8 606.9h9.2v2.4h-9.2zM1510.2 606.9h9.2v2.4h-9.2zM1026.8 554.4h13.8v1.4h-13.8zM1049.8 554.4h9.2v1.4h-9.2zM1072.9 554.4h13.8v1.4h-13.8zM1086.7 554.4h4.6v1.4h-4.6zM1091.3 554.4h13.8v1.4h-13.8zM1151.1 554.4h9.2v1.4h-9.2zM1160.3 554.4h13.8v1.4h-13.8zM1174.1 554.4h4.6v1.4h-4.6zM1247.8 554.4h13.8v1.4h-13.8zM1266.2 554.4h4.6v1.4h-4.6zM1316.8 554.4h9.2v1.4h-9.2zM1335.2 554.4h9.2v1.4h-9.2zM1349.1 554.4h13.8v1.4h-13.8zM1418.1 554.4h4.6v1.4h-4.6zM1422.7 554.4h4.6v1.4h-4.6zM1436.5 554.4h9.2v1.4h-9.2zM1454.9 554.4h4.6v1.4h-4.6zM1496.4 554.4h13.8v1.4h-13.8zM1510.2 554.4h13.8v1.4h-13.8zM1068.3 528.5h4.6v1.6h-4.6zM1091.3 528.5h4.6v1.6h-4.6zM1132.7 528.5h4.6v1.6h-4.6zM1211.0 528.5h4.6v1.6h-4.6zM1215.6 528.5h9.2v1.6h-9.2zM1224.8 528.5h9.2v1.6h-9.2zM1252.4 528.5h9.2v1.6h-9.2zM1293.8 528.5h9.2v1.6h-9.2zM1385.9 528.5h9.2v1.6h-9.2zM1431.9 528.5h4.6v1.6h-4.6zM1079.8 502.0h4.6v1.6h-4.6zM1102.8 502.0h9.2v1.6h-9.2zM1162.6 502.0h4.6v1.6h-4.6zM1194.8 502.0h9.2v1.6h-9.2zM1259.3 502.0h4.6v1.6h-4.6zM1411.2 502.0h4.6v1.6h-4.6zM1434.2 502.0h4.6v1.6h-4.6z"/>
<path fill="#97ff68" stroke="none" d="M1091.3 606.9h4.6v2.4h-4.6zM1164.9 606.9h4.6v2.4h-4.6zM1197.1 606.9h4.6v2.4h-4.6zM1224.8 606.9h9.2v2.4h-9.2zM1284.6 606.9h9.2v2.4h-9.2zM1344.5 606.9h4.6v2.4h-4.6zM1349.1 606.9h9.2v2.4h-9.2zM1408.9 606.9h4.6v2.4h-4.6zM1427.3 606.9h9.2v2.4h-9.2zM1464.1 606.9h9.2v2.4h-9.2zM1482.6 606.9h9.2v2.4h-9.2zM1528.6 606.9h9.2v2.4h-9.2z"/>
<path fill="#0078ff" stroke="none" d="M1068.3 609.5h9.2v2.0h-9.2zM1183.3 609.5h4.6v2.0h-4.6zM1321.4 609.5h4.6v2.0h-4.6zM1399.7 609.5h4.6v2.0h-4.6zM1418.1 609.5h9.2v2.0h-9.2zM1441.1 609.5h4.6v2.0h-4.6zM1514.8 609.5h4.6v2.0h-4.6z"/>
<path fill="#0008ff" stroke="none" d="M999.2 554.5h27.6v1.3h-27.6z"/>
<path fill="#0048ff" stroke="none" d="M1105.1 554.4h4.6v1.4h-4.6zM1201.8 554.4h9.2v1.4h-9.2zM1211.0 554.4h13.8v1.4h-13.8zM1234.0 554.4h9.2v1.4h-9.2zM1243.2 554.4h4.6v1.4h-4.6zM1261.6 554.4h4.6v1.4h-4.6zM1270.8 554.4h13.8v1.4h-13.8zM1284.6 554.4h13.8v1.4h-13.8zM1312.2 554.4h4.6v1.4h-4.6zM1399.7 554.4h9.2v1.4h-9.2zM1445.7 554.4h9.2v1.4h-9.2zM1524.0 554.4h4.6v1.4h-4.6zM1542.4 554.4h4.6v1.4h-4.6z"/>
<path fill="#ff2800" stroke="none" d="M1109.7 554.4h4.6v1.4h-4.6zM1132.7 554.4h4.6v1.4h-4.6zM1187.9 554.4h9.2v1.4h-9.2zM1376.7 554.4h9.2v1.4h-9.2zM1385.9 554.4h9.2v1.4h-9.2zM1395.1 554.4h4.6v1.4h-4.6zM1473.3 554.4h13.8v1.4h-13.8z"/>
<path fill="#0087ff" stroke="none" d="M1118.9 554.4h13.8v1.4h-13.8zM1137.3 554.4h13.8v1.4h-13.8zM1178.7 554.4h4.6v1.4h-4.6zM1183.3 554.4h4.6v1.4h-4.6zM1229.4 554.4h4.6v1.4h-4.6zM1298.4 554.4h4.6v1.4h-4.6zM1303.0 554.4h9.2v1.4h-9.2zM1344.5 554.4h4.6v1.4h-4.6zM1427.3 554.4h9.2v1.4h-9.2zM1487.2 554.4h9.2v1.4h-9.2zM1528.6 554.4h13.8v1.4h-13.8zM1026.8 528.5h4.6v1.6h-4.6zM1234.0 528.5h4.6v1.6h-4.6zM1243.2 528.5h9.2v1.6h-9.2zM1316.8 528.5h4.6v1.6h-4.6zM1330.6 528.5h4.6v1.6h-4.6zM1367.5 528.5h9.2v1.6h-9.2zM1510.2 528.5h9.2v1.6h-9.2zM1056.7 502.0h9.2v1.6h-9.2zM1148.8 502.0h4.6v1.6h-4.6zM1190.2 502.0h4.6v1.6h-4.6zM1222.5 502.0h9.2v1.6h-9.2zM1328.3 502.0h9.2v1.6h-9.2zM1337.5 502.0h9.2v1.6h-9.2zM1379.0 502.0h9.2v1.6h-9.2zM1415.8 502.0h9.2v1.6h-9.2zM1475.6 502.0h9.2v1.6h-9.2zM1484.9 502.0h9.2v1.6h-9.2z"/>
<path fill="#0068ff" stroke="none" d="M1031.4 528.5h4.6v1.6h-4.6zM1036.0 528.5h9.2v1.6h-9.2zM1155.7 528.5h4.6v1.6h-4.6zM1344.5 528.5h4.6v1.6h-4.6zM1349.1 528.5h4.6v1.6h-4.6zM1413.5 528.5h4.6v1.6h-4.6zM1418.1 528.5h9.2v1.6h-9.2zM1478.0 528.5h4.6v1.6h-4.6zM1491.8 528.5h9.2v1.6h-9.2zM1501.0 528.5h4.6v1.6h-4.6zM1533.2 528.5h9.2v1.6h-9.2zM1116.6 502.0h9.2v1.6h-9.2zM1130.4 502.0h9.2v1.6h-9.2zM1153.4 502.0h4.6v1.6h-4.6zM1158.0 502.0h4.6v1.6h-4.6zM1171.8 502.0h4.6v1.6h-4.6zM1176.4 502.0h4.6v1.6h-4.6zM1213.3 502.0h4.6v1.6h-4.6zM1217.9 502.0h4.6v1.6h-4.6zM1282.3 502.0h9.2v1.6h-9.2zM1291.5 502.0h4.6v1.6h-4.6zM1388.2 502.0h9.2v1.6h-9.2zM1466.4 502.0h9.2v1.6h-9.2zM1494.1 502.0h4.6v1.6h-4.6zM1517.1 502.0h4.6v1.6h-4.6zM1526.3 502.0h9.2v1.6h-9.2zM1535.5 502.0h9.2v1.6h-9.2z"/>
<path fill="#0038ff" stroke="none" d="M1095.9 528.5h4.6v1.6h-4.6zM1137.3 528.5h9.2v1.6h-9.2zM1160.3 528.5h9.2v1.6h-9.2zM1197.1 528.5h4.6v1.6h-4.6zM1270.8 528.5h4.6v1.6h-4.6zM1376.7 528.5h4.6v1.6h-4.6zM1427.3 528.5h4.6v1.6h-4.6zM1436.5 528.5h9.2v1.6h-9.2zM1464.1 528.5h4.6v1.6h-4.6zM1075.2 502.0h4.6v1.6h-4.6zM1112.0 502.0h4.6v1.6h-4.6zM1167.2 502.0h4.6v1.6h-4.6zM1240.9 502.0h9.2v1.6h-9.2zM1250.1 502.0h4.6v1.6h-4.6zM1296.1 502.0h9.2v1.6h-9.2zM1305.3 502.0h9.2v1.6h-9.2zM1346.8 502.0h9.2v1.6h-9.2zM1397.4 502.0h9.2v1.6h-9.2z"/>
<path fill="#f70000" stroke="none" d="M1321.4 528.5h9.2v1.6h-9.2zM1353.7 528.5h9.2v1.6h-9.2zM1066.0 502.0h9.2v1.6h-9.2zM1084.4 502.0h9.2v1.6h-9.2zM1512.5 502.0h4.6v1.6h-4.6zM1091.3 632.5h9.2v1.8h-9.2zM1105.1 632.5h9.2v1.8h-9.2zM1132.7 632.5h9.2v1.8h-9.2zM1289.2 632.5h4.6v1.8h-4.6zM1321.4 632.5h4.6v1.8h-4.6zM1381.3 632.5h9.2v1.8h-9.2zM1450.3 632.5h4.6v1.8h-4.6z"/>
<path fill="#68ff97" stroke="none" d="M1026.8 632.5h9.2v1.8h-9.2zM1036.0 632.5h4.6v1.8h-4.6zM1100.5 632.5h4.6v1.8h-4.6zM1123.5 632.5h9.2v1.8h-9.2zM1141.9 632.5h4.6v1.8h-4.6zM1164.9 632.5h9.2v1.8h-9.2zM1266.2 632.5h4.6v1.8h-4.6zM1280.0 632.5h9.2v1.8h-9.2zM1335.2 632.5h9.2v1.8h-9.2zM1367.5 632.5h9.2v1.8h-9.2zM1390.5 632.5h4.6v1.8h-4.6zM1422.7 632.5h9.2v1.8h-9.2zM1505.6 632.5h4.6v1.8h-4.6zM1533.2 632.5h4.6v1.8h-4.6z"/>
<path fill="#00f7ff" stroke="none" d="M1040.6 632.5h4.6v1.8h-4.6zM1059.0 632.5h4.6v1.8h-4.6zM1082.1 632.5h9.2v1.8h-9.2zM1114.3 632.5h9.2v1.8h-9.2zM1220.2 632.5h9.2v1.8h-9.2zM1293.8 632.5h9.2v1.8h-9.2zM1326.0 632.5h4.6v1.8h-4.6zM1330.6 632.5h4.6v1.8h-4.6zM1376.7 632.5h4.6v1.8h-4.6zM1441.1 632.5h9.2v1.8h-9.2zM1487.2 632.5h4.6v1.8h-4.6zM1510.2 632.5h9.2v1.8h-9.2zM1519.4 632.5h4.6v1.8h-4.6zM1537.8 632.5h4.6v1.8h-4.6z"/>
<path fill="#fff700" stroke="none" d="M1045.2 632.5h9.2v1.8h-9.2zM1054.4 632.5h4.6v1.8h-4.6zM1063.7 632.5h9.2v1.8h-9.2zM1072.9 632.5h9.2v1.8h-9.2zM1146.5 632.5h9.2v1.8h-9.2zM1155.7 632.5h9.2v1.8h-9.2zM1174.1 632.5h9.2v1.8h-9.2zM1187.9 632.5h9.2v1.8h-9.2zM1211.0 632.5h4.6v1.8h-4.6zM1215.6 632.5h4.6v1.8h-4.6zM1238.6 632.5h9.2v1.8h-9.2zM1344.5 632.5h4.6v1.8h-4.6zM1353.7 632.5h4.6v1.8h-4.6zM1454.9 632.5h9.2v1.8h-9.2z"/>
<path fill="#0097ff" stroke="none" d="M1247.8 632.5h9.2v1.8h-9.2zM1257.0 632.5h9.2v1.8h-9.2zM1312.2 632.5h9.2v1.8h-9.2zM1358.3 632.5h9.2v1.8h-9.2zM1395.1 632.5h9.2v1.8h-9.2zM1404.3 632.5h9.2v1.8h-9.2zM1431.9 632.5h9.2v1.8h-9.2zM1464.1 632.5h9.2v1.8h-9.2zM1524.0 632.5h9.2v1.8h-9.2z"/>
</g>
<path d="M992.2 27.5V236.6" stroke="#3c3c3c" stroke-width="1.5"/>
<path d="M993.9 27.5V236.6" stroke="#c8c8ff" stroke-width="1.4"/>
<path d="M992 215.4h3.2M992 194.5h3.2M992 173.7h3.2M992 152.8h3.2M992 131.9h3.2M992 111.0h3.2M992 90.1h3.2M992 69.3h3.2M992 48.4h3.2" stroke="#555" stroke-width="1.3"/>
<text x="1004.8" y="53.4" font-size="21.6" fill="#fff">Optison</text>
<text x="981.5" y="86.7" font-size="17.5" text-anchor="end" fill="#111">1.5</text>
<text x="981.5" y="139.7" font-size="17.5" text-anchor="end" fill="#111">1.0</text>
<text x="981.5" y="192.5" font-size="17.5" text-anchor="end" fill="#111">0.5</text>
<text transform="translate(949.9 134.0) rotate(-90)" font-size="21.2" text-anchor="middle" fill="#111">Frequency (MHz)</text>
<path d="M992.2 238.8V448.0" stroke="#3c3c3c" stroke-width="1.5"/>
<path d="M993.9 238.8V448.0" stroke="#c8c8ff" stroke-width="1.4"/>
<path d="M992 426.7h3.2M992 405.8h3.2M992 385.0h3.2M992 364.1h3.2M992 343.2h3.2M992 322.3h3.2M992 301.4h3.2M992 280.6h3.2M992 259.7h3.2" stroke="#555" stroke-width="1.3"/>
<text x="1004.8" y="264.7" font-size="21.6" fill="#fff">Definity</text>
<text x="981.5" y="298.0" font-size="17.5" text-anchor="end" fill="#111">1.5</text>
<text x="981.5" y="351.0" font-size="17.5" text-anchor="end" fill="#111">1.0</text>
<text x="981.5" y="403.8" font-size="17.5" text-anchor="end" fill="#111">0.5</text>
<text transform="translate(949.9 345.3) rotate(-90)" font-size="21.2" text-anchor="middle" fill="#111">Frequency (MHz)</text>
<path d="M992.2 451.1V659.6" stroke="#3c3c3c" stroke-width="1.5"/>
<path d="M993.9 451.1V659.6" stroke="#c8c8ff" stroke-width="1.4"/>
<path d="M992 639.0h3.2M992 618.1h3.2M992 597.3h3.2M992 576.4h3.2M992 555.5h3.2M992 534.6h3.2M992 513.7h3.2M992 492.9h3.2M992 472.0h3.2" stroke="#555" stroke-width="1.3"/>
<text x="1004.8" y="477.0" font-size="21.6" fill="#fff">Nanobubble</text>
<text x="981.5" y="510.3" font-size="17.5" text-anchor="end" fill="#111">1.5</text>
<text x="981.5" y="563.3" font-size="17.5" text-anchor="end" fill="#111">1.0</text>
<text x="981.5" y="616.1" font-size="17.5" text-anchor="end" fill="#111">0.5</text>
<text transform="translate(949.9 557.2) rotate(-90)" font-size="21.2" text-anchor="middle" fill="#111">Frequency (MHz)</text>
<rect x="993" y="236.6" width="554" height="2.2" fill="#d8d8f8"/>
<text x="1518" y="62.9" font-size="33" font-weight="bold" fill="#fff">b</text>
<text transform="translate(1515.8 272.9) scale(0.87 1)" font-size="32" font-weight="bold" fill="#fff">c</text>
<text x="1518" y="482.8" font-size="33" font-weight="bold" fill="#fff">d</text>
<text x="1164" y="99.2" font-size="18.2" fill="#fff" stroke="#fff" stroke-width="0.3" textLength="214.3" lengthAdjust="spacingAndGlyphs">Ultra-harmonic emissions</text>
<path d="M1156.3 99.5L1092 142.5" stroke="#f4f4ff" stroke-width="1.9"/>
<path d="M1084.3 150.6L1097 137.5L1093.6 143.2L1101 143.6Z" fill="#f8f8ff"/>
<text x="990.0" y="674.8" font-size="17.5" text-anchor="middle" fill="#111">0</text>
<text x="1083.2" y="674.8" font-size="17.5" text-anchor="middle" fill="#111">20</text>
<text x="1180.9" y="674.8" font-size="17.5" text-anchor="middle" fill="#111">40</text>
<text x="1270.0" y="674.8" font-size="17.5" text-anchor="middle" fill="#111">60</text>
<text x="1362.9" y="674.8" font-size="17.5" text-anchor="middle" fill="#111">80</text>
<text x="1455.5" y="674.8" font-size="17.5" text-anchor="middle" fill="#111">100</text>
<text x="1539.5" y="674.8" font-size="17.5" text-anchor="middle" fill="#111">120</text>
<text x="1224.9" y="694.4" font-size="21.5" fill="#111" textLength="96.7" lengthAdjust="spacingAndGlyphs">Time (sec)</text>
<defs><linearGradient id="cb" x1="0" y1="0" x2="0" y2="1"><stop offset="0.0000" stop-color="#870000"/><stop offset="0.0156" stop-color="#870000"/><stop offset="0.0156" stop-color="#970000"/><stop offset="0.0312" stop-color="#970000"/><stop offset="0.0312" stop-color="#a70000"/><stop offset="0.0469" stop-color="#a70000"/><stop offset="0.0469" stop-color="#b70000"/><stop offset="0.0625" stop-color="#b70000"/><stop offset="0.0625" stop-color="#c70000"/><stop offset="0.0781" stop-color="#c70000"/><stop offset="0.0781" stop-color="#d70000"/><stop offset="0.0938" stop-color="#d70000"/><stop offset="0.0938" stop-color="#e70000"/><stop offset="0.1094" stop-color="#e70000"/><stop offset="0.1094" stop-color="#f70000"/><stop offset="0.1250" stop-color="#f70000"/><stop offset="0.1250" stop-color="#ff0800"/><stop offset="0.1406" stop-color="#ff0800"/><stop offset="0.1406" stop-color="#ff1800"/><stop offset="0.1562" stop-color="#ff1800"/><stop offset="0.1562" stop-color="#ff2800"/><stop offset="0.1719" stop-color="#ff2800"/><stop offset="0.1719" stop-color="#ff3800"/><stop offset="0.1875" stop-color="#ff3800"/><stop offset="0.1875" stop-color="#ff4800"/><stop offset="0.2031" stop-color="#ff4800"/><stop offset="0.2031" stop-color="#ff5800"/><stop offset="0.2188" stop-color="#ff5800"/><stop offset="0.2188" stop-color="#ff6800"/><stop offset="0.2344" stop-color="#ff6800"/><stop offset="0.2344" stop-color="#ff7800"/><stop offset="0.2500" stop-color="#ff7800"/><stop offset="0.2500" stop-color="#ff8700"/><stop offset="0.2656" stop-color="#ff8700"/><stop offset="0.2656" stop-color="#ff9700"/><stop offset="0.2812" stop-color="#ff9700"/><stop offset="0.2812" stop-color="#ffa700"/><stop offset="0.2969" stop-color="#ffa700"/><stop offset="0.2969" stop-color="#ffb700"/><stop offset="0.3125" stop-color="#ffb700"/><stop offset="0.3125" stop-color="#ffc700"/><stop offset="0.3281" stop-color="#ffc700"/><stop offset="0.3281" stop-color="#ffd700"/><stop offset="0.3438" stop-color="#ffd700"/><stop offset="0.3438" stop-color="#ffe700"/><stop offset="0.3594" stop-color="#ffe700"/><stop offset="0.3594" stop-color="#fff700"/><stop offset="0.3750" stop-color="#fff700"/><stop offset="0.3750" stop-color="#f7ff08"/><stop offset="0.3906" stop-color="#f7ff08"/><stop offset="0.3906" stop-color="#e7ff18"/><stop offset="0.4062" stop-color="#e7ff18"/><stop offset="0.4062" stop-color="#d7ff28"/><stop offset="0.4219" stop-color="#d7ff28"/><stop offset="0.4219" stop-color="#c7ff38"/><stop offset="0.4375" stop-color="#c7ff38"/><stop offset="0.4375" stop-color="#b7ff48"/><stop offset="0.4531" stop-color="#b7ff48"/><stop offset="0.4531" stop-color="#a7ff58"/><stop offset="0.4688" stop-color="#a7ff58"/><stop offset="0.4688" stop-color="#97ff68"/><stop offset="0.4844" stop-color="#97ff68"/><stop offset="0.4844" stop-color="#87ff78"/><stop offset="0.5000" stop-color="#87ff78"/><stop offset="0.5000" stop-color="#78ff87"/><stop offset="0.5156" stop-color="#78ff87"/><stop offset="0.5156" stop-color="#68ff97"/><stop offset="0.5312" stop-color="#68ff97"/><stop offset="0.5312" stop-color="#58ffa7"/><stop offset="0.5469" stop-color="#58ffa7"/><stop offset="0.5469" stop-color="#48ffb7"/><stop offset="0.5625" stop-color="#48ffb7"/><stop offset="0.5625" stop-color="#38ffc7"/><stop offset="0.5781" stop-color="#38ffc7"/><stop offset="0.5781" stop-color="#28ffd7"/><stop offset="0.5938" stop-color="#28ffd7"/><stop offset="0.5938" stop-color="#18ffe7"/><stop offset="0.6094" stop-color="#18ffe7"/><stop offset="0.6094" stop-color="#08fff7"/><stop offset="0.6250" stop-color="#08fff7"/><stop offset="0.6250" stop-color="#00f7ff"/><stop offset="0.6406" stop-color="#00f7ff"/><stop offset="0.6406" stop-color="#00e7ff"/><stop offset="0.6562" stop-color="#00e7ff"/><stop offset="0.6562" stop-color="#00d7ff"/><stop offset="0.6719" stop-color="#00d7ff"/><stop offset="0.6719" stop-color="#00c7ff"/><stop offset="0.6875" stop-color="#00c7ff"/><stop offset="0.6875" stop-color="#00b7ff"/><stop offset="0.7031" stop-color="#00b7ff"/><stop offset="0.7031" stop-color="#00a7ff"/><stop offset="0.7188" stop-color="#00a7ff"/><stop offset="0.7188" stop-color="#0097ff"/><stop offset="0.7344" stop-color="#0097ff"/><stop offset="0.7344" stop-color="#0087ff"/><stop offset="0.7500" stop-color="#0087ff"/><stop offset="0.7500" stop-color="#0078ff"/><stop offset="0.7656" stop-color="#0078ff"/><stop offset="0.7656" stop-color="#0068ff"/><stop offset="0.7812" stop-color="#0068ff"/><stop offset="0.7812" stop-color="#0058ff"/><stop offset="0.7969" stop-color="#0058ff"/><stop offset="0.7969" stop-color="#0048ff"/><stop offset="0.8125" stop-color="#0048ff"/><stop offset="0.8125" stop-color="#0038ff"/><stop offset="0.8281" stop-color="#0038ff"/><stop offset="0.8281" stop-color="#0028ff"/><stop offset="0.8438" stop-color="#0028ff"/><stop offset="0.8438" stop-color="#0018ff"/><stop offset="0.8594" stop-color="#0018ff"/><stop offset="0.8594" stop-color="#0008ff"/><stop offset="0.8750" stop-color="#0008ff"/><stop offset="0.8750" stop-color="#0000f7"/><stop offset="0.8906" stop-color="#0000f7"/><stop offset="0.8906" stop-color="#0000e7"/><stop offset="0.9062" stop-color="#0000e7"/><stop offset="0.9062" stop-color="#0000d7"/><stop offset="0.9219" stop-color="#0000d7"/><stop offset="0.9219" stop-color="#0000c7"/><stop offset="0.9375" stop-color="#0000c7"/><stop offset="0.9375" stop-color="#0000b7"/><stop offset="0.9531" stop-color="#0000b7"/><stop offset="0.9531" stop-color="#0000a7"/><stop offset="0.9688" stop-color="#0000a7"/><stop offset="0.9688" stop-color="#000097"/><stop offset="0.9844" stop-color="#000097"/><stop offset="0.9844" stop-color="#000087"/><stop offset="1.0000" stop-color="#000087"/></linearGradient></defs>
<rect x="1561.2" y="35.2" width="47.4" height="622.8" fill="url(#cb)" stroke="#222" stroke-width="1.4"/>
<text x="1619" y="667.2" font-size="21.5" fill="#333">0</text>
<path d="M1608.6 595.7h-4" stroke="#222" stroke-width="1.4"/>
<text x="1619" y="604.9" font-size="21.5" fill="#333">5</text>
<path d="M1608.6 533.4h-4" stroke="#222" stroke-width="1.4"/>
<text x="1619" y="542.6" font-size="21.5" fill="#333">10</text>
<path d="M1608.6 471.2h-4" stroke="#222" stroke-width="1.4"/>
<text x="1619" y="480.4" font-size="21.5" fill="#333">15</text>
<path d="M1608.6 408.9h-4" stroke="#222" stroke-width="1.4"/>
<text x="1619" y="418.1" font-size="21.5" fill="#333">20</text>
<path d="M1608.6 346.6h-4" stroke="#222" stroke-width="1.4"/>
<text x="1619" y="355.8" font-size="21.5" fill="#333">25</text>
<path d="M1608.6 284.3h-4" stroke="#222" stroke-width="1.4"/>
<text x="1619" y="293.5" font-size="21.5" fill="#333">30</text>
<path d="M1608.6 222.0h-4" stroke="#222" stroke-width="1.4"/>
<text x="1619" y="231.2" font-size="21.5" fill="#333">35</text>
<path d="M1608.6 159.8h-4" stroke="#222" stroke-width="1.4"/>
<text x="1619" y="169.0" font-size="21.5" fill="#333">40</text>
<path d="M1608.6 97.5h-4" stroke="#222" stroke-width="1.4"/>
<text x="1619" y="106.7" font-size="21.5" fill="#333">45</text>
<text x="1619" y="44.4" font-size="21.5" fill="#333">50</text>
<text x="1564" y="21.4" font-size="21" fill="#111">Amp</text>
</g>
</svg>
</body></html>
